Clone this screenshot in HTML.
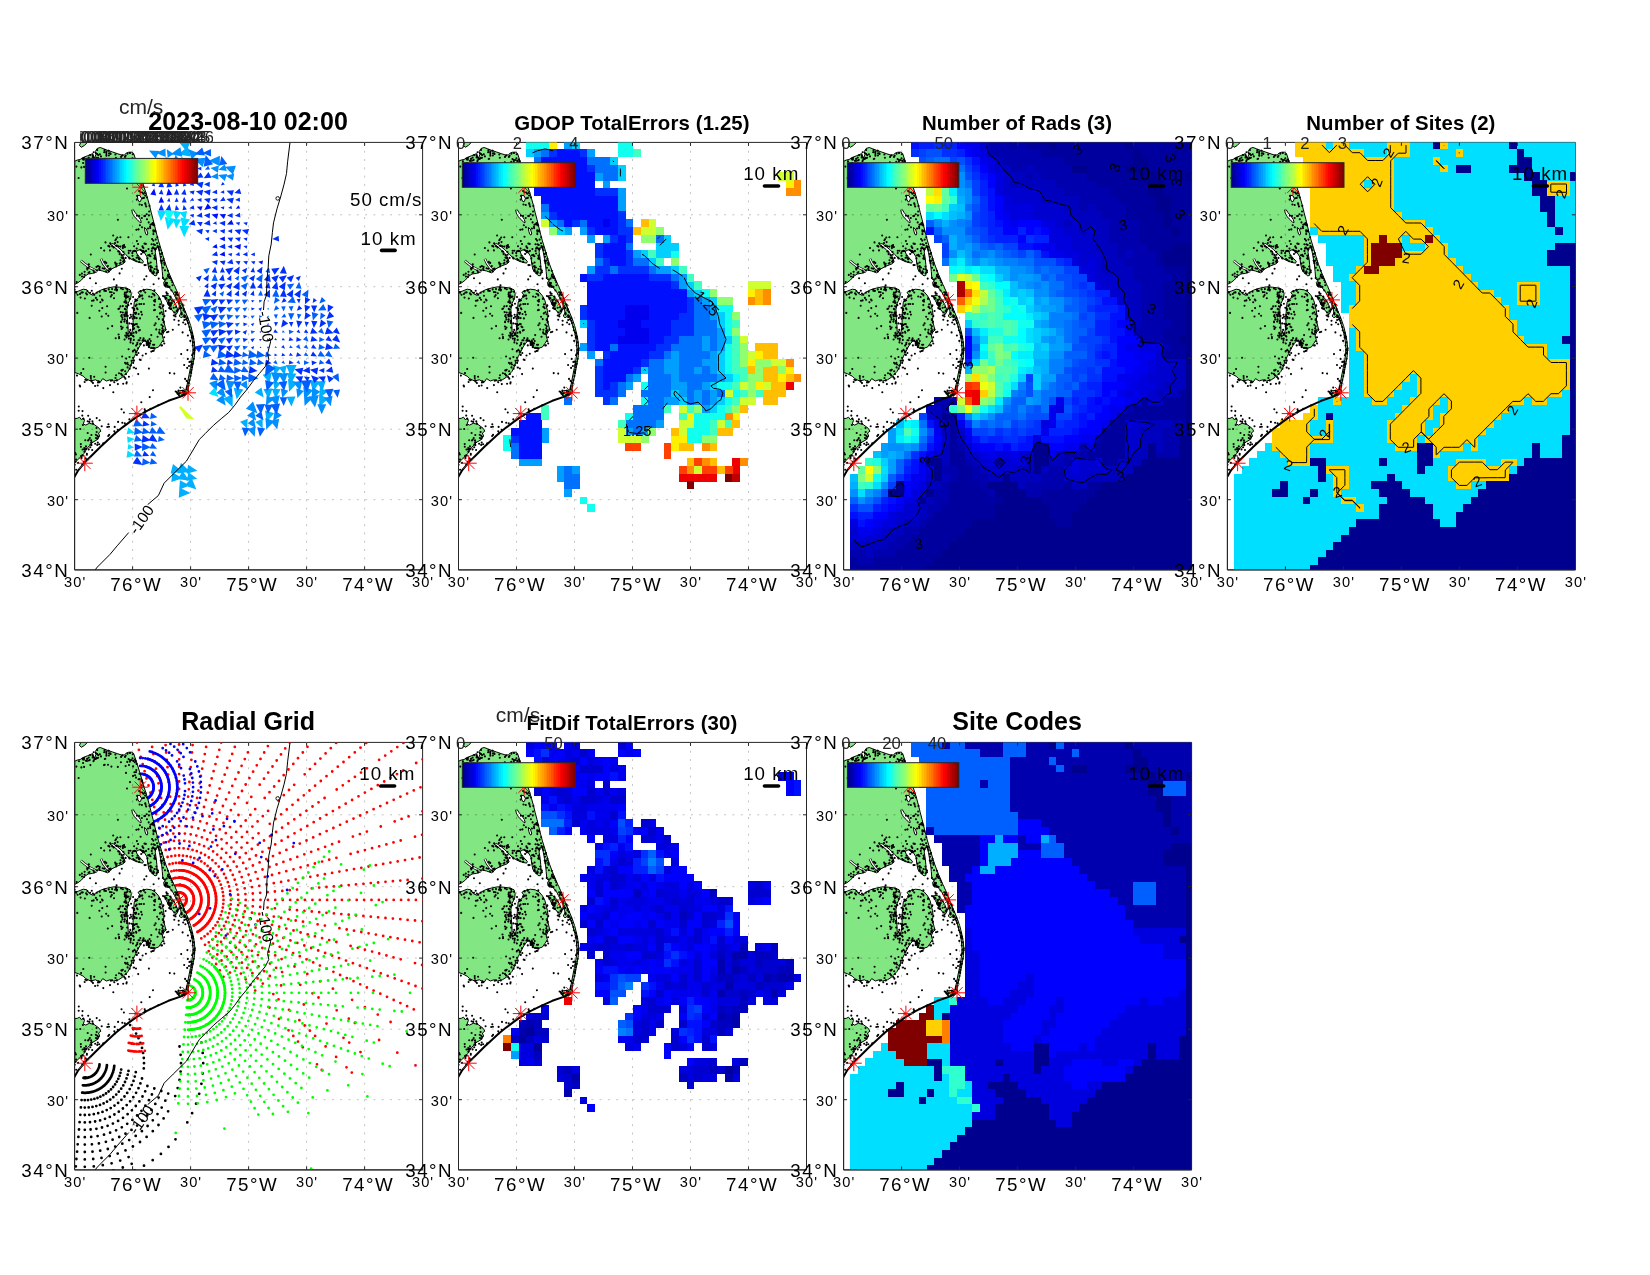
<!DOCTYPE html><html><head><meta charset="utf-8"><title>fig</title><style>html,body{margin:0;padding:0;background:#fff}svg{display:block;will-change:transform}text{font-family:"Liberation Sans",sans-serif}</style></head><body>
<svg width="1650" height="1275" viewBox="0 0 1650 1275">
<defs>
<linearGradient id="jet" x1="0" x2="1" y1="0" y2="0"><stop offset="0.0000" stop-color="#00008f"/><stop offset="0.0156" stop-color="#00008f"/><stop offset="0.0156" stop-color="#00009f"/><stop offset="0.0312" stop-color="#00009f"/><stop offset="0.0312" stop-color="#0000af"/><stop offset="0.0469" stop-color="#0000af"/><stop offset="0.0469" stop-color="#0000bf"/><stop offset="0.0625" stop-color="#0000bf"/><stop offset="0.0625" stop-color="#0000cf"/><stop offset="0.0781" stop-color="#0000cf"/><stop offset="0.0781" stop-color="#0000df"/><stop offset="0.0938" stop-color="#0000df"/><stop offset="0.0938" stop-color="#0000ef"/><stop offset="0.1094" stop-color="#0000ef"/><stop offset="0.1094" stop-color="#0000ff"/><stop offset="0.1250" stop-color="#0000ff"/><stop offset="0.1250" stop-color="#0010ff"/><stop offset="0.1406" stop-color="#0010ff"/><stop offset="0.1406" stop-color="#0020ff"/><stop offset="0.1562" stop-color="#0020ff"/><stop offset="0.1562" stop-color="#0030ff"/><stop offset="0.1719" stop-color="#0030ff"/><stop offset="0.1719" stop-color="#0040ff"/><stop offset="0.1875" stop-color="#0040ff"/><stop offset="0.1875" stop-color="#0050ff"/><stop offset="0.2031" stop-color="#0050ff"/><stop offset="0.2031" stop-color="#0060ff"/><stop offset="0.2188" stop-color="#0060ff"/><stop offset="0.2188" stop-color="#0070ff"/><stop offset="0.2344" stop-color="#0070ff"/><stop offset="0.2344" stop-color="#0080ff"/><stop offset="0.2500" stop-color="#0080ff"/><stop offset="0.2500" stop-color="#008fff"/><stop offset="0.2656" stop-color="#008fff"/><stop offset="0.2656" stop-color="#009fff"/><stop offset="0.2812" stop-color="#009fff"/><stop offset="0.2812" stop-color="#00afff"/><stop offset="0.2969" stop-color="#00afff"/><stop offset="0.2969" stop-color="#00bfff"/><stop offset="0.3125" stop-color="#00bfff"/><stop offset="0.3125" stop-color="#00cfff"/><stop offset="0.3281" stop-color="#00cfff"/><stop offset="0.3281" stop-color="#00dfff"/><stop offset="0.3438" stop-color="#00dfff"/><stop offset="0.3438" stop-color="#00efff"/><stop offset="0.3594" stop-color="#00efff"/><stop offset="0.3594" stop-color="#00ffff"/><stop offset="0.3750" stop-color="#00ffff"/><stop offset="0.3750" stop-color="#10ffef"/><stop offset="0.3906" stop-color="#10ffef"/><stop offset="0.3906" stop-color="#20ffdf"/><stop offset="0.4062" stop-color="#20ffdf"/><stop offset="0.4062" stop-color="#30ffcf"/><stop offset="0.4219" stop-color="#30ffcf"/><stop offset="0.4219" stop-color="#40ffbf"/><stop offset="0.4375" stop-color="#40ffbf"/><stop offset="0.4375" stop-color="#50ffaf"/><stop offset="0.4531" stop-color="#50ffaf"/><stop offset="0.4531" stop-color="#60ff9f"/><stop offset="0.4688" stop-color="#60ff9f"/><stop offset="0.4688" stop-color="#70ff8f"/><stop offset="0.4844" stop-color="#70ff8f"/><stop offset="0.4844" stop-color="#80ff80"/><stop offset="0.5000" stop-color="#80ff80"/><stop offset="0.5000" stop-color="#8fff70"/><stop offset="0.5156" stop-color="#8fff70"/><stop offset="0.5156" stop-color="#9fff60"/><stop offset="0.5312" stop-color="#9fff60"/><stop offset="0.5312" stop-color="#afff50"/><stop offset="0.5469" stop-color="#afff50"/><stop offset="0.5469" stop-color="#bfff40"/><stop offset="0.5625" stop-color="#bfff40"/><stop offset="0.5625" stop-color="#cfff30"/><stop offset="0.5781" stop-color="#cfff30"/><stop offset="0.5781" stop-color="#dfff20"/><stop offset="0.5938" stop-color="#dfff20"/><stop offset="0.5938" stop-color="#efff10"/><stop offset="0.6094" stop-color="#efff10"/><stop offset="0.6094" stop-color="#ffff00"/><stop offset="0.6250" stop-color="#ffff00"/><stop offset="0.6250" stop-color="#ffef00"/><stop offset="0.6406" stop-color="#ffef00"/><stop offset="0.6406" stop-color="#ffdf00"/><stop offset="0.6562" stop-color="#ffdf00"/><stop offset="0.6562" stop-color="#ffcf00"/><stop offset="0.6719" stop-color="#ffcf00"/><stop offset="0.6719" stop-color="#ffbf00"/><stop offset="0.6875" stop-color="#ffbf00"/><stop offset="0.6875" stop-color="#ffaf00"/><stop offset="0.7031" stop-color="#ffaf00"/><stop offset="0.7031" stop-color="#ff9f00"/><stop offset="0.7188" stop-color="#ff9f00"/><stop offset="0.7188" stop-color="#ff8f00"/><stop offset="0.7344" stop-color="#ff8f00"/><stop offset="0.7344" stop-color="#ff8000"/><stop offset="0.7500" stop-color="#ff8000"/><stop offset="0.7500" stop-color="#ff7000"/><stop offset="0.7656" stop-color="#ff7000"/><stop offset="0.7656" stop-color="#ff6000"/><stop offset="0.7812" stop-color="#ff6000"/><stop offset="0.7812" stop-color="#ff5000"/><stop offset="0.7969" stop-color="#ff5000"/><stop offset="0.7969" stop-color="#ff4000"/><stop offset="0.8125" stop-color="#ff4000"/><stop offset="0.8125" stop-color="#ff3000"/><stop offset="0.8281" stop-color="#ff3000"/><stop offset="0.8281" stop-color="#ff2000"/><stop offset="0.8438" stop-color="#ff2000"/><stop offset="0.8438" stop-color="#ff1000"/><stop offset="0.8594" stop-color="#ff1000"/><stop offset="0.8594" stop-color="#ff0000"/><stop offset="0.8750" stop-color="#ff0000"/><stop offset="0.8750" stop-color="#ef0000"/><stop offset="0.8906" stop-color="#ef0000"/><stop offset="0.8906" stop-color="#df0000"/><stop offset="0.9062" stop-color="#df0000"/><stop offset="0.9062" stop-color="#cf0000"/><stop offset="0.9219" stop-color="#cf0000"/><stop offset="0.9219" stop-color="#bf0000"/><stop offset="0.9375" stop-color="#bf0000"/><stop offset="0.9375" stop-color="#af0000"/><stop offset="0.9531" stop-color="#af0000"/><stop offset="0.9531" stop-color="#9f0000"/><stop offset="0.9688" stop-color="#9f0000"/><stop offset="0.9688" stop-color="#8f0000"/><stop offset="0.9844" stop-color="#8f0000"/><stop offset="0.9844" stop-color="#800000"/><stop offset="1.0000" stop-color="#800000"/></linearGradient>
<clipPath id="cl"><rect x="0" y="0" width="348.0" height="427.5"/></clipPath>
<g id="grid" stroke="#c4c4c4" stroke-width="1" stroke-dasharray="2 6.3" fill="none"><path d="M58.0,0V427.5"/><path d="M116.0,0V427.5"/><path d="M174.0,0V427.5"/><path d="M232.0,0V427.5"/><path d="M290.0,0V427.5"/><path d="M0,72.4H348.0"/><path d="M0,144.3H348.0"/><path d="M0,215.7H348.0"/><path d="M0,286.8H348.0"/><path d="M0,357.3H348.0"/></g>
<g id="grid2" stroke="#5fa45f" stroke-width="1" stroke-dasharray="2 6.3" fill="none"><path d="M58.0,0V427.5"/><path d="M116.0,0V427.5"/><path d="M174.0,0V427.5"/><path d="M232.0,0V427.5"/><path d="M290.0,0V427.5"/><path d="M0,72.4H348.0"/><path d="M0,144.3H348.0"/><path d="M0,215.7H348.0"/><path d="M0,286.8H348.0"/><path d="M0,357.3H348.0"/></g>
<clipPath id="landclip"><path d="M0.2,18.9 0.0,18.9 2.5,17.7 5.5,17.1 8.6,15.2 12.8,13.4 16.5,11.9 18.0,11.2 18.9,14.0 20.1,15.8 21.3,12.2 20.7,9.2 22.5,6.1 25.6,5.1 29.2,6.4 32.9,7.9 37.7,9.5 42.6,11.2 47.5,12.8 49.9,12.4 51.7,10.7 54.2,9.8 57.2,9.8 59.0,11.0 60.2,14.6 62.7,21.9 65.1,29.8 67.5,37.7 69.3,44.4 71.2,49.9 73.0,56.0 74.8,62.6 76.6,69.9 78.5,77.2 80.3,84.5 82.1,91.8 83.9,98.5 85.8,104.6 87.6,110.7 89.4,116.7 91.2,122.2 93.7,128.9 96.1,135.0 99.1,141.7 102.2,148.4 104.0,152.6 104.7,154.7 107.7,162.0 110.8,169.3 113.8,176.6 116.3,183.9 118.1,191.2 119.5,198.5 120.3,205.8 119.9,213.1 118.7,220.4 117.5,226.5 116.3,232.6 114.7,239.8 113.5,247.1 113.8,248.7 113.2,251.1 111.4,248.4 113.0,239.8 114.4,232.6 115.9,225.3 117.1,219.2 118.1,213.1 118.4,205.8 117.8,198.5 116.4,191.2 114.4,183.9 112.0,176.6 110.2,173.0 106.5,175.4 104.7,173.6 106.5,170.5 105.9,165.7 103.5,160.2 101.1,155.4 98.0,149.3 94.4,145.0 90.4,144.4 88.9,140.2 90.7,138.0 88.3,136.5 87.7,129.2 87.0,121.9 85.9,115.8 84.8,109.8 83.6,104.9 81.6,104.9 80.6,109.8 81.6,115.8 82.2,121.9 82.6,128.0 82.2,132.9 80.4,133.5 76.7,130.4 74.3,126.8 73.1,120.7 72.5,114.6 69.4,109.8 64.6,107.3 61.5,109.2 62.8,112.2 65.8,115.8 68.8,118.9 68.2,120.7 64.6,120.1 59.7,118.3 54.9,115.8 51.2,112.2 46.3,107.3 42.7,104.3 38.4,101.2 35.4,101.9 38.4,103.7 42.7,107.3 46.3,111.0 48.8,114.6 50.6,119.5 48.8,121.3 42.7,123.7 36.6,126.8 35.4,128.6 33.0,130.4 28.1,128.6 22.6,127.4 20.8,130.2 17.8,131.0 13.5,131.6 9.9,134.1 6.8,137.7 3.2,140.4 0.0,142.0 0.2,142.0ZM0.2,149.9 0.0,149.9 3.8,148.7 8.7,146.8 12.3,147.4 14.7,151.1 18.4,152.9 22.0,149.9 26.9,147.4 33.0,145.6 39.1,144.4 45.1,144.8 51.2,145.6 55.5,147.4 56.7,151.1 56.1,156.0 53.6,160.8 52.4,166.9 52.7,175.4 53.4,182.7 53.6,190.0 54.9,193.6 56.7,192.4 57.9,187.6 58.5,180.3 58.5,173.0 59.1,165.7 59.7,159.6 62.8,156.0 66.4,154.1 64.6,151.7 63.4,149.9 67.0,148.1 71.9,146.8 76.7,147.4 80.4,149.3 84.0,153.5 86.5,158.4 87.7,163.3 88.9,168.1 89.5,173.0 88.9,177.8 90.1,182.7 91.3,187.6 88.9,190.0 87.7,193.6 88.9,197.3 86.5,200.9 84.0,204.6 80.4,205.8 75.5,205.8 73.1,203.4 71.9,199.7 69.4,198.5 67.0,200.9 64.6,204.6 62.2,209.5 59.7,214.3 57.3,219.2 56.1,224.0 53.6,228.9 50.0,232.6 47.6,235.0 43.9,237.4 39.1,238.6 35.4,237.4 31.8,238.6 28.1,236.2 25.7,239.8 20.8,237.4 16.0,238.6 11.1,236.2 8.7,233.8 3.8,231.3 0.0,230.1 0.2,230.1ZM0.2,276.0 0.0,276.0 2.6,276.0 5.0,274.8 6.8,277.3 8.7,275.4 9.9,277.9 8.7,281.5 11.1,282.7 14.7,280.9 19.6,282.1 24.5,285.8 26.3,288.8 23.9,290.6 25.1,293.7 22.6,297.3 18.4,299.7 14.7,303.4 11.7,307.0 9.9,310.7 6.2,314.3 3.2,317.4 0.0,320.4 0.2,320.4Z"/></clipPath>
<g id="coast" clip-path="url(#cl)"><g fill="#82e682" stroke="#000" stroke-width="1" stroke-linejoin="round"><path d="M0.2,18.9 0.0,18.9 2.5,17.7 5.5,17.1 8.6,15.2 12.8,13.4 16.5,11.9 18.0,11.2 18.9,14.0 20.1,15.8 21.3,12.2 20.7,9.2 22.5,6.1 25.6,5.1 29.2,6.4 32.9,7.9 37.7,9.5 42.6,11.2 47.5,12.8 49.9,12.4 51.7,10.7 54.2,9.8 57.2,9.8 59.0,11.0 60.2,14.6 62.7,21.9 65.1,29.8 67.5,37.7 69.3,44.4 71.2,49.9 73.0,56.0 74.8,62.6 76.6,69.9 78.5,77.2 80.3,84.5 82.1,91.8 83.9,98.5 85.8,104.6 87.6,110.7 89.4,116.7 91.2,122.2 93.7,128.9 96.1,135.0 99.1,141.7 102.2,148.4 104.0,152.6 104.7,154.7 107.7,162.0 110.8,169.3 113.8,176.6 116.3,183.9 118.1,191.2 119.5,198.5 120.3,205.8 119.9,213.1 118.7,220.4 117.5,226.5 116.3,232.6 114.7,239.8 113.5,247.1 113.8,248.7 113.2,251.1 111.4,248.4 113.0,239.8 114.4,232.6 115.9,225.3 117.1,219.2 118.1,213.1 118.4,205.8 117.8,198.5 116.4,191.2 114.4,183.9 112.0,176.6 110.2,173.0 106.5,175.4 104.7,173.6 106.5,170.5 105.9,165.7 103.5,160.2 101.1,155.4 98.0,149.3 94.4,145.0 90.4,144.4 88.9,140.2 90.7,138.0 88.3,136.5 87.7,129.2 87.0,121.9 85.9,115.8 84.8,109.8 83.6,104.9 81.6,104.9 80.6,109.8 81.6,115.8 82.2,121.9 82.6,128.0 82.2,132.9 80.4,133.5 76.7,130.4 74.3,126.8 73.1,120.7 72.5,114.6 69.4,109.8 64.6,107.3 61.5,109.2 62.8,112.2 65.8,115.8 68.8,118.9 68.2,120.7 64.6,120.1 59.7,118.3 54.9,115.8 51.2,112.2 46.3,107.3 42.7,104.3 38.4,101.2 35.4,101.9 38.4,103.7 42.7,107.3 46.3,111.0 48.8,114.6 50.6,119.5 48.8,121.3 42.7,123.7 36.6,126.8 35.4,128.6 33.0,130.4 28.1,128.6 22.6,127.4 20.8,130.2 17.8,131.0 13.5,131.6 9.9,134.1 6.8,137.7 3.2,140.4 0.0,142.0 0.2,142.0Z"/><path d="M0.2,149.9 0.0,149.9 3.8,148.7 8.7,146.8 12.3,147.4 14.7,151.1 18.4,152.9 22.0,149.9 26.9,147.4 33.0,145.6 39.1,144.4 45.1,144.8 51.2,145.6 55.5,147.4 56.7,151.1 56.1,156.0 53.6,160.8 52.4,166.9 52.7,175.4 53.4,182.7 53.6,190.0 54.9,193.6 56.7,192.4 57.9,187.6 58.5,180.3 58.5,173.0 59.1,165.7 59.7,159.6 62.8,156.0 66.4,154.1 64.6,151.7 63.4,149.9 67.0,148.1 71.9,146.8 76.7,147.4 80.4,149.3 84.0,153.5 86.5,158.4 87.7,163.3 88.9,168.1 89.5,173.0 88.9,177.8 90.1,182.7 91.3,187.6 88.9,190.0 87.7,193.6 88.9,197.3 86.5,200.9 84.0,204.6 80.4,205.8 75.5,205.8 73.1,203.4 71.9,199.7 69.4,198.5 67.0,200.9 64.6,204.6 62.2,209.5 59.7,214.3 57.3,219.2 56.1,224.0 53.6,228.9 50.0,232.6 47.6,235.0 43.9,237.4 39.1,238.6 35.4,237.4 31.8,238.6 28.1,236.2 25.7,239.8 20.8,237.4 16.0,238.6 11.1,236.2 8.7,233.8 3.8,231.3 0.0,230.1 0.2,230.1Z"/><path d="M89.5,153.5 93.8,152.9 97.4,156.0 101.1,162.0 103.5,168.1 102.3,171.2 98.6,169.3 95.0,164.5 91.9,158.4Z"/><path d="M0.2,276.0 0.0,276.0 2.6,276.0 5.0,274.8 6.8,277.3 8.7,275.4 9.9,277.9 8.7,281.5 11.1,282.7 14.7,280.9 19.6,282.1 24.5,285.8 26.3,288.8 23.9,290.6 25.1,293.7 22.6,297.3 18.4,299.7 14.7,303.4 11.7,307.0 9.9,310.7 6.2,314.3 3.2,317.4 0.0,320.4 0.2,320.4Z"/><path d="M102.3,251.1 104.7,248.4 113.2,247.2 114.2,249.9 110.8,252.9 105.9,254.2Z"/><path d="M6.1,0.0 12.8,0.0 9.8,3.1 6.7,4.9 4.9,3.1Z"/><path d="M62.7,52.9 65.5,53.3 66.9,56.2 65.9,59.0 64.5,59.4 63.3,57.2Z" fill="#fff"/><path d="M57.2,67.5 58.6,67.1 60.6,70.3 63.5,73.6 65.9,77.2 66.7,80.0 65.5,80.3 62.7,77.2 59.6,74.2 57.8,70.5Z" fill="#fff"/><path d="M69.8,85.1 71.8,86.6 73.2,90.7 72.5,92.7 71.3,91.9 70.3,88.8Z" fill="#fff"/></g><path d="M6.2,118.3 9.9,121.3 14.7,125.0 19.6,127.4 22.6,129.5" fill="none" stroke="#000" stroke-width="2.6"/><path d="M6.2,118.3 9.9,121.3 14.7,125.0 19.6,127.4 22.6,129.5" fill="none" stroke="#fff" stroke-width="1.2"/><path d="M26.3,116.4 28.7,121.3 32.4,126.2 34.8,128.0" fill="none" stroke="#000" stroke-width="2.6"/><path d="M26.3,116.4 28.7,121.3 32.4,126.2 34.8,128.0" fill="none" stroke="#fff" stroke-width="1.2"/><path d="M113.2,249.9 105.9,254.2 93.8,258.4 81.6,263.9 71.9,268.7 62.2,274.5 54.9,279.7 47.6,285.2 40.3,291.2 33.0,297.9 25.7,304.6 18.4,311.9 9.9,320.4 3.8,327.7 -1.1,336.2" fill="none" stroke="#000" stroke-width="2.0" stroke-linejoin="round"/><g clip-path="url(#landclip)"><use href="#grid2"/></g><path d="M58.5,24.1h0M8.5,20.6h0M13.7,125.4h0M118.0,211.9h0M62.9,166.9h0M35.3,126.5h0M69.9,122.7h0M101.3,164.9h0M75.6,85.7h0M84.2,176.7h0M112.4,243.8h0M41.8,123.0h0M51.5,163.8h0M27.1,174.1h0M41.1,195.9h0M61.7,190.3h0M19.2,17.9h0M42.7,95.1h0M33.4,22.3h0M95.8,154.2h0M76.5,128.7h0M50.1,174.0h0M41.3,144.9h0M105.3,158.1h0M63.9,36.9h0M68.3,110.1h0M103.2,152.6h0M7.9,268.7h0M41.8,103.6h0M19.1,9.9h0M67.3,37.9h0M11.6,306.5h0M47.0,112.7h0M107.3,253.0h0M85.6,161.9h0M34.2,147.0h0M57.0,191.1h0M44.7,109.4h0M34.8,104.2h0M81.2,106.5h0M46.6,179.2h0M65.7,195.7h0M34.3,13.1h0M53.1,154.7h0M84.8,156.1h0M22.1,128.1h0M33.8,281.9h0M57.0,218.3h0M63.0,184.2h0M47.6,233.0h0M82.0,130.9h0M52.7,191.6h0M67.4,153.2h0M54.1,193.7h0M111.5,176.8h0M23.4,123.6h0M54.4,22.6h0M28.7,301.0h0M75.9,124.7h0M61.1,18.7h0M73.4,86.1h0M10.8,237.4h0M5.4,151.6h0M76.1,120.1h0M69.3,203.0h0M116.6,189.9h0M31.7,120.5h0M80.7,88.7h0M35.4,149.7h0M31.3,148.5h0M67.6,38.8h0M96.9,137.8h0M96.1,135.8h0M84.9,187.4h0M83.4,128.2h0M96.0,166.6h0M93.3,144.2h0M35.4,108.0h0M56.7,17.6h0M66.0,201.4h0M58.6,220.5h0M52.9,11.4h0M80.4,159.2h0M50.6,228.8h0M78.1,80.7h0M105.8,245.2h0M106.9,165.5h0M16.3,235.6h0M82.7,94.9h0M48.6,241.3h0M4.1,268.4h0M95.6,156.9h0M41.3,15.3h0M61.4,35.2h0M79.0,130.7h0M39.3,137.0h0M113.0,247.3h0M40.6,120.2h0M30.1,22.4h0M31.7,10.1h0M65.0,62.1h0M88.2,177.6h0M54.3,234.3h0M21.9,285.7h0M7.0,315.6h0M88.2,176.9h0M2.4,233.2h0M118.1,203.1h0M36.8,24.2h0M23.4,240.1h0M46.1,169.7h0M89.6,194.9h0M35.9,126.2h0M72.8,116.1h0M96.9,148.1h0M69.3,161.6h0M59.8,29.8h0M83.5,104.6h0M119.0,207.3h0M19.6,234.4h0M18.4,281.1h0M36.2,126.8h0M67.9,198.2h0M55.7,187.5h0M22.4,15.7h0M114.4,223.6h0M12.3,311.4h0M116.7,219.7h0M51.4,231.7h0M65.2,116.4h0M48.3,105.7h0M80.4,88.1h0M77.6,111.1h0M79.3,130.1h0M7.3,131.2h0M62.4,73.3h0M83.0,194.4h0M109.4,252.6h0M54.8,181.0h0M47.7,280.3h0M68.8,51.4h0M33.8,103.5h0M3.0,152.4h0M80.6,116.2h0M51.7,150.2h0M17.1,163.3h0M10.7,297.8h0M1.6,150.3h0M34.2,8.4h0M16.8,292.6h0M10.3,156.1h0M79.1,82.0h0M77.9,130.7h0M86.2,165.8h0M88.3,135.5h0M102.0,168.8h0M89.7,201.1h0M66.6,169.5h0M58.4,193.5h0M52.8,147.3h0M79.9,126.6h0M107.6,162.0h0M86.2,118.2h0M62.2,181.7h0M58.5,23.8h0M34.6,292.4h0M5.7,286.6h0M114.9,237.7h0M12.1,317.3h0M29.9,8.1h0M96.4,162.5h0M12.8,317.4h0M79.8,148.0h0M10.1,239.6h0M43.8,109.0h0M90.4,127.8h0M75.2,113.4h0M85.1,107.9h0M46.0,120.4h0M16.2,112.1h0M8.1,150.0h0M2.7,170.5h0M99.7,170.1h0M51.0,23.7h0M79.9,182.8h0M52.4,46.1h0M72.1,200.8h0M64.8,161.7h0M62.1,162.2h0M30.7,16.4h0M112.1,238.5h0M14.3,18.1h0M104.1,178.4h0M78.4,82.3h0M68.5,108.4h0M112.8,207.7h0M116.8,222.6h0M24.7,239.9h0M51.8,190.5h0M64.6,48.7h0M8.0,322.6h0M102.0,150.1h0M74.1,121.2h0M90.4,142.0h0M50.4,220.4h0M50.2,177.0h0M74.9,112.3h0M67.1,38.9h0M56.7,174.4h0M119.2,200.0h0M74.6,69.1h0M89.1,180.1h0M13.1,290.6h0M114.2,240.6h0M68.9,197.7h0M34.4,284.3h0M32.5,163.9h0M6.0,155.2h0M41.8,145.4h0M33.7,173.3h0M69.7,73.7h0M88.2,189.2h0M0.0,144.4h0M17.8,279.0h0M58.9,181.7h0M56.5,161.3h0M96.0,154.7h0M93.8,189.4h0M62.0,21.5h0M22.7,302.5h0M71.2,101.5h0M53.0,225.0h0M79.3,158.4h0M31.0,224.3h0M71.8,133.8h0M71.1,122.6h0M58.5,208.6h0M49.5,118.0h0M51.6,172.2h0M6.5,230.7h0M55.3,19.2h0M29.6,9.8h0M34.5,10.8h0M86.8,119.7h0M108.2,163.2h0M22.5,157.4h0M69.3,148.4h0M39.4,155.8h0M70.3,50.0h0M100.9,174.1h0M52.3,193.0h0M24.7,301.9h0M66.0,153.2h0M51.5,160.6h0M104.9,165.5h0M52.8,220.4h0M49.6,234.6h0M113.4,240.2h0M58.7,172.7h0M55.4,39.7h0M4.0,35.6h0M63.9,197.8h0M112.6,225.5h0M79.7,83.0h0M94.1,134.5h0M49.1,112.3h0M103.9,159.3h0M76.7,192.7h0M103.0,250.8h0M66.1,49.8h0M64.6,73.5h0M87.8,188.2h0M76.0,127.0h0M20.6,301.3h0M74.3,73.0h0M77.0,101.9h0M62.8,200.3h0M81.7,187.0h0M119.5,209.8h0M34.5,103.7h0M74.3,226.2h0M12.3,312.3h0M58.5,154.6h0M77.1,108.5h0M56.1,197.7h0M102.0,155.9h0M55.4,149.3h0M58.6,116.6h0M64.9,197.9h0M91.1,142.1h0M35.6,10.9h0M110.8,173.9h0M48.2,227.4h0M90.0,154.3h0M93.8,160.0h0M97.3,158.3h0M59.0,194.2h0M63.5,101.6h0M14.8,279.5h0M52.0,160.1h0M104.1,182.3h0M14.7,215.3h0M25.5,153.3h0M79.1,208.3h0M55.2,175.7h0M92.9,143.1h0M110.5,236.5h0M51.1,13.3h0M44.4,230.9h0M89.6,120.5h0M120.2,206.0h0M31.6,171.3h0M54.0,16.7h0M116.5,229.7h0M84.4,104.5h0M54.0,154.2h0M53.5,222.1h0M51.4,155.5h0M93.3,133.6h0M72.1,71.8h0M57.7,110.7h0M30.2,16.6h0M19.6,129.9h0M29.6,147.2h0M8.5,17.0h0M94.8,161.0h0M95.0,144.5h0M120.1,207.9h0M64.5,153.9h0M43.8,166.6h0M79.4,167.8h0M104.5,250.8h0M67.3,172.2h0M8.7,226.6h0M14.0,130.4h0M33.6,293.6h0M22.7,293.3h0M101.1,249.1h0M112.1,246.6h0M67.9,55.8h0M78.7,87.8h0M75.0,196.7h0M20.3,16.3h0M89.8,173.7h0M83.0,103.6h0M55.9,200.0h0M98.2,187.3h0M77.6,106.2h0M117.2,195.1h0M58.0,176.4h0M109.3,252.4h0M70.6,60.9h0M69.7,137.0h0M96.1,163.6h0M45.8,164.0h0M70.1,267.0h0M59.0,186.7h0M55.5,10.6h0M23.9,239.0h0M19.0,158.0h0M9.7,305.7h0M77.5,96.7h0M47.9,115.8h0M61.4,29.7h0M70.6,198.1h0M82.6,174.3h0M23.2,300.1h0M109.7,177.6h0M93.5,132.4h0M42.1,121.3h0M11.5,151.0h0M104.8,159.0h0M80.8,89.0h0M15.3,277.0h0M17.4,158.3h0M0.1,322.3h0M47.9,177.1h0M37.5,237.9h0M9.5,24.5h0M14.1,297.3h0M33.3,123.7h0M50.0,151.9h0M59.2,197.5h0M29.9,7.6h0M27.1,283.8h0M75.9,113.9h0M52.7,19.5h0M19.0,15.0h0M24.8,168.4h0M84.1,136.2h0M60.9,158.5h0M64.7,119.5h0M89.9,122.3h0M62.6,201.9h0M16.5,237.9h0M31.4,128.9h0M107.1,172.1h0M91.1,143.8h0M21.5,10.9h0M58.5,215.3h0M45.9,117.9h0M69.0,195.8h0M57.9,15.8h0M66.7,161.6h0M16.2,233.7h0M14.6,124.3h0M70.8,108.8h0M46.3,19.8h0M102.9,251.2h0M50.2,281.0h0M23.1,243.1h0M100.6,149.8h0M112.9,178.4h0M59.8,182.5h0M99.2,173.1h0M14.1,15.2h0M20.5,243.6h0M45.0,111.7h0M55.3,17.6h0M31.8,9.2h0M18.9,128.2h0M1.6,327.3h0M22.2,150.3h0M48.2,170.1h0M62.4,165.9h0M109.2,251.8h0M78.7,98.2h0M117.5,191.0h0M21.3,155.5h0M31.8,13.3h0M62.1,106.2h0M67.4,84.9h0M56.3,196.2h0M94.2,158.3h0M48.0,185.1h0M8.3,282.6h0M54.1,108.4h0M71.3,211.4h0M106.1,250.3h0M91.9,155.8h0M42.3,148.0h0M25.0,277.8h0M38.7,249.8h0M111.5,251.4h0M107.0,170.5h0M74.6,154.1h0M76.2,198.6h0M99.7,231.2h0M12.8,148.7h0M84.5,156.0h0M65.3,187.6h0M12.2,237.9h0M63.0,113.2h0M9.5,15.5h0M50.8,236.4h0M33.9,8.4h0M75.1,254.7h0M61.0,171.5h0M28.7,245.7h0M109.1,166.6h0M55.0,189.6h0M119.2,216.3h0M59.4,225.2h0M9.9,307.2h0M43.2,24.5h0M48.7,115.7h0M67.3,62.6h0M52.5,146.7h0M90.9,187.2h0M62.5,157.8h0M72.0,202.6h0M76.1,123.6h0M99.1,165.4h0M24.7,126.1h0M50.7,193.2h0M73.4,200.8h0M63.8,210.6h0M41.2,146.0h0M42.0,142.8h0M87.6,189.6h0M15.8,22.7h0M51.4,30.5h0M53.0,149.2h0M43.0,99.7h0M68.1,40.4h0M66.6,111.6h0M72.3,199.5h0M42.1,103.1h0M5.1,243.1h0M37.6,183.7h0M60.0,117.6h0M23.6,12.7h0M79.9,206.4h0M119.5,210.7h0M50.3,152.7h0M18.4,240.7h0M79.1,129.4h0M64.5,116.8h0M22.9,296.3h0M62.2,57.2h0M54.1,110.7h0M1.1,149.6h0M50.3,166.5h0M95.2,230.7h0M85.2,164.6h0M84.6,189.9h0M94.6,165.7h0M4.2,264.1h0M15.6,12.7h0M80.3,167.5h0M68.8,105.6h0M55.3,10.6h0M49.3,270.1h0M36.0,11.5h0M92.1,151.3h0M43.7,109.1h0M39.3,150.8h0M31.2,120.4h0M84.4,156.5h0M51.9,152.8h0M52.1,239.9h0M62.6,53.5h0M50.4,14.5h0M34.5,292.7h0M99.7,177.3h0M47.5,228.0h0M105.5,250.6h0M53.1,173.5h0M65.2,36.7h0M78.4,208.5h0M80.3,102.6h0M68.0,213.1h0M6.2,301.7h0M51.2,169.9h0M81.0,181.0h0M15.5,135.8h0M41.4,96.8h0M7.4,134.1h0M56.5,192.5h0M108.6,180.1h0M21.3,140.9h0M45.1,121.1h0M80.2,107.0h0M61.8,87.3h0M33.2,186.1h0M79.4,205.7h0M116.6,230.6h0M61.7,27.7h0M37.5,146.7h0M63.4,205.9h0M37.6,103.8h0M103.9,248.2h0M64.0,171.6h0M64.3,188.2h0M60.5,32.9h0M52.2,178.5h0M111.9,251.0h0M88.9,116.3h0M18.1,15.0h0M71.4,108.5h0M46.5,146.0h0M117.8,193.5h0M52.0,170.1h0M70.2,269.3h0M74.1,80.0h0M93.4,160.6h0M44.6,166.2h0M47.9,115.1h0M94.8,135.5h0M70.9,50.6h0M59.1,190.3h0M51.1,115.5h0M61.2,209.5h0M113.9,243.3h0M113.2,216.5h0M80.5,157.3h0M21.9,124.5h0M51.4,221.3h0M74.0,202.3h0M39.7,288.8h0M6.8,25.0h0M1.3,312.0h0M35.6,100.9h0M88.4,125.4h0M70.6,268.5h0M18.9,18.9h0M85.1,164.4h0M28.1,125.8h0M110.8,181.8h0M73.9,106.7h0M78.8,129.0h0M87.8,185.8h0M61.8,118.8h0M8.0,307.1h0M36.2,154.2h0M1.0,319.4h0M113.3,193.1h0M109.7,174.9h0M31.0,230.1h0M40.4,100.7h0M18.1,13.0h0M63.9,184.9h0M51.0,158.5h0M105.5,163.6h0M14.3,121.9h0M75.9,82.4h0M46.7,173.7h0M44.5,194.7h0M75.5,201.2h0M46.6,179.8h0M48.2,163.7h0M88.9,198.8h0M79.0,141.8h0M85.3,171.0h0M49.8,179.2h0M59.3,218.4h0M86.5,114.3h0M78.4,247.8h0M43.3,241.7h0M59.0,174.3h0M96.0,160.6h0M43.3,287.5h0M93.7,157.6h0M72.8,116.0h0M115.9,219.1h0M67.9,104.0h0M15.1,17.5h0M79.2,102.0h0M114.8,219.6h0M15.2,295.7h0M86.7,203.0h0M88.3,183.8h0M7.7,321.8h0M95.0,162.9h0M48.3,146.8h0M1.8,24.2h0M99.1,158.8h0M96.6,166.4h0M53.8,94.9h0M66.9,45.4h0M100.9,153.0h0M16.6,300.1h0M40.1,284.5h0M47.7,13.0h0M103.9,157.3h0M78.8,89.3h0M12.7,127.0h0M13.1,278.9h0M46.9,266.9h0M50.7,235.9h0M76.7,205.3h0M55.1,226.3h0M61.5,157.7h0M7.7,312.8h0M90.9,156.4h0M62.0,115.3h0M69.3,55.5h0M90.3,137.1h0M105.1,161.2h0M79.9,113.2h0M53.5,162.5h0M69.9,101.2h0M60.2,17.1h0M25.3,11.8h0M62.3,98.7h0M54.0,206.8h0M96.6,166.1h0M11.3,18.4h0M82.5,100.8h0M60.2,19.8h0M42.2,238.0h0M75.4,123.9h0M18.3,151.1h0M73.5,112.9h0M107.2,171.4h0M25.1,124.5h0M72.4,199.3h0M97.7,139.9h0M58.6,108.9h0M49.2,119.7h0M57.9,165.3h0M113.5,180.6h0M65.9,107.4h0M112.7,175.5h0M39.7,239.8h0M50.3,150.2h0M9.8,309.3h0M95.4,134.1h0M22.1,275.7h0M93.7,161.7h0M22.1,289.6h0M12.5,16.5h0M79.7,116.1h0M115.9,233.7h0M60.7,157.2h0M91.8,149.8h0M18.7,14.7h0M40.3,291.0h0M2.1,139.6h0M51.9,173.3h0M58.4,182.6h0M70.6,53.2h0M67.9,50.2h0M40.9,235.6h0M29.4,22.7h0M56.3,222.9h0M15.9,302.2h0M87.4,203.0h0M58.3,184.1h0M105.4,163.9h0M53.8,162.9h0M88.4,153.6h0M32.7,284.6h0M8.3,313.3h0M79.6,152.1h0M51.6,216.2h0M68.0,156.2h0M87.0,169.8h0M97.3,160.6h0M114.9,184.5h0M72.4,76.8h0M0.0,147.3h0M59.9,207.5h0M68.7,197.1h0M14.8,129.6h0M46.8,228.0h0M6.8,150.1h0M61.5,158.4h0M97.9,142.8h0M15.0,175.5h0M66.7,259.9h0M30.3,119.5h0M87.5,110.7h0M81.1,97.2h0M52.6,185.2h0M109.0,168.0h0M88.6,190.1h0M15.5,150.3h0M84.1,106.1h0M50.9,170.5h0M62.3,212.5h0M45.8,104.2h0M79.8,153.1h0M93.1,151.3h0M19.7,152.4h0M29.8,126.3h0M75.8,266.5h0M50.2,154.1h0M52.3,180.6h0M86.4,111.6h0M4.4,18.9h0M59.5,166.3h0M77.4,125.1h0M46.5,14.5h0M34.3,129.0h0M61.4,189.4h0M72.4,55.1h0M5.2,132.5h0M58.2,11.9h0M12.4,18.6h0M21.1,16.5h0M44.0,192.1h0M73.3,198.2h0M8.8,276.5h0M87.3,118.6h0M93.3,128.4h0M17.1,239.2h0M110.5,169.7h0M38.6,93.1h0M55.1,156.5h0M61.4,208.9h0M16.5,298.0h0M43.3,77.4h0M103.6,152.7h0M115.3,187.9h0M100.9,172.2h0M91.0,140.1h0M88.8,163.0h0M26.4,105.6h0M118.2,221.3h0M61.5,203.2h0M88.3,118.1h0M7.9,16.1h0M105.2,156.0h0M47.2,126.4h0M57.9,113.3h0M59.8,108.5h0M9.2,319.5h0M116.7,227.5h0M46.4,184.1h0M40.8,97.8h0M110.2,249.4h0M14.1,307.0h0M40.5,147.4h0M65.2,217.2h0M50.0,197.1h0M106.6,211.7h0M78.1,151.3h0M61.5,170.5h0M86.7,191.7h0M74.2,204.7h0M88.8,187.8h0M112.1,246.2h0M91.0,168.6h0M112.2,245.1h0M50.9,157.8h0M13.6,273.3h0M9.5,134.6h0M93.3,134.1h0M48.4,119.1h0M49.6,172.5h0M25.1,149.4h0M75.5,128.4h0M78.5,202.3h0M92.1,136.2h0M83.7,262.9h0M59.5,103.9h0M51.9,195.0h0M16.9,302.7h0M23.5,294.4h0M58.5,33.5h0M66.9,42.8h0M59.3,218.0h0M80.6,116.6h0M0.6,310.7h0M61.0,158.5h0M61.0,163.5h0M41.5,232.8h0M66.1,217.6h0M37.0,149.9h0M15.7,304.9h0M69.0,147.3h0M33.7,128.0h0M60.5,271.2h0M51.9,170.5h0M118.7,196.1h0M108.3,248.4h0M102.1,156.0h0M55.9,191.1h0M6.5,313.7h0M36.3,238.4h0M58.7,18.5h0M51.9,241.0h0M30.9,100.0h0M12.5,125.8h0M54.8,277.0h0M22.0,15.4h0M70.9,62.0h0M28.4,301.9h0M21.4,295.6h0M63.6,231.7h0M119.2,207.5h0M82.0,126.8h0M39.1,105.0h0M43.5,279.5h0M77.0,154.6h0M17.2,299.9h0M89.9,142.6h0M91.4,155.4h0M84.9,164.5h0M64.9,31.4h0M48.5,104.5h0M116.3,229.7h0M13.5,298.1h0M80.3,115.2h0M3.5,320.5h0M40.9,121.3h0M55.9,108.4h0M47.7,175.2h0M61.5,181.6h0M55.6,223.2h0M68.9,44.1h0M63.7,115.3h0M66.0,94.4h0M118.1,221.6h0M58.3,209.0h0M46.5,231.5h0M72.6,200.7h0M91.4,142.2h0M86.9,182.3h0M48.2,103.4h0M67.2,75.6h0M21.2,292.3h0M65.4,176.0h0M77.1,81.7h0M75.2,200.6h0M37.2,152.7h0M35.4,242.7h0M118.5,194.3h0M47.2,172.6h0M49.5,102.7h0M12.4,152.0h0M11.0,316.0h0M93.9,132.2h0M51.0,167.1h0M117.4,221.4h0M54.3,196.2h0M47.0,186.6h0M108.0,190.0h0M22.6,11.7h0M31.8,11.7h0M60.1,175.7h0M70.7,150.1h0M40.8,12.1h0M66.2,149.0h0M41.7,124.1h0M54.9,116.0h0M88.1,171.8h0M26.4,14.0h0M73.5,199.7h0M61.0,108.6h0M71.6,64.0h0M1.5,317.1h0M47.6,214.1h0M59.6,167.6h0M78.8,91.7h0M83.4,129.9h0M70.5,73.5h0M50.3,104.7h0M62.1,175.7h0M65.9,148.7h0M49.8,159.7h0M56.1,172.3h0M102.2,168.1h0M79.0,105.5h0M115.7,198.5h0M117.0,224.8h0M59.5,185.8h0M61.4,226.1h0M104.8,159.5h0M58.4,201.1h0M117.5,212.8h0M5.5,244.0h0M27.7,165.7h0M101.8,151.4h0M68.2,104.8h0M63.9,87.0h0M24.9,127.2h0M104.0,166.8h0M84.9,191.0h0M74.1,201.5h0M88.6,163.7h0M7.7,273.2h0M67.6,153.2h0M52.0,153.8h0M51.6,146.1h0M69.5,109.3h0M10.0,129.4h0M57.0,181.4h0M29.7,148.3h0M22.6,7.6h0M43.8,103.8h0M10.0,132.4h0M45.8,94.9h0M60.2,170.3h0M117.3,219.4h0M92.4,189.9h0M54.9,214.6h0M75.4,84.3h0M42.5,147.5h0M25.8,159.8h0M77.4,205.6h0M89.3,179.1h0M29.6,108.2h0M17.2,148.3h0M65.6,201.5h0M47.0,115.1h0M87.0,121.1h0M81.8,124.1h0M9.3,17.2h0M74.7,203.3h0M109.6,172.8h0M78.5,80.6h0M74.9,63.5h0M76.7,209.2h0M79.6,202.3h0M67.2,108.3h0M48.9,109.7h0M92.5,140.7h0M6.3,304.3h0M11.4,304.0h0M104.3,252.5h0M28.0,158.0h0M54.3,115.2h0M23.5,15.4h0M45.0,131.0h0M59.9,174.6h0M108.4,250.2h0M44.5,195.8h0M78.7,205.4h0M65.3,82.9h0M109.4,250.1h0M79.7,162.7h0M102.2,249.7h0M102.8,168.7h0M109.6,222.6h0M78.2,105.2h0M17.6,307.6h0M52.1,164.4h0M27.4,157.2h0" stroke="#000" stroke-width="2.1" stroke-linecap="round" fill="none"/></g>
<path id="st" d="M-8.0,-0.0L8.0,0.0M-5.7,-5.7L5.7,5.7M-0.0,-8.0L0.0,8.0M5.7,-5.7L-5.7,5.7" stroke="#f00" stroke-width="1" fill="none"/>
<g id="stars"><use href="#st" x="65.6" y="44.8"/><use href="#st" x="104.5" y="157.5"/><use href="#st" x="113.4" y="250.4"/><use href="#st" x="62.3" y="271.2"/><use href="#st" x="10.2" y="320.8"/></g>
<g id="frame"><g stroke="#262626" stroke-width="1" fill="none"><path d="M58.0,0v3.5M58.0,427.5v-3.5M116.0,0v3.5M116.0,427.5v-3.5M174.0,0v3.5M174.0,427.5v-3.5M232.0,0v3.5M232.0,427.5v-3.5M290.0,0v3.5M290.0,427.5v-3.5M0,72.4h3.5M348.0,72.4h-3.5M0,144.3h3.5M348.0,144.3h-3.5M0,215.7h3.5M348.0,215.7h-3.5M0,286.8h3.5M348.0,286.8h-3.5M0,357.3h3.5M348.0,357.3h-3.5"/></g><g fill="#000"><text x="-5.4" y="6.9" font-size="18.75" text-anchor="end" letter-spacing="1.5">37°N</text><text x="-5.4" y="151.2" font-size="18.75" text-anchor="end" letter-spacing="1.5">36°N</text><text x="-5.4" y="293.7" font-size="18.75" text-anchor="end" letter-spacing="1.5">35°N</text><text x="-5.4" y="434.4" font-size="18.75" text-anchor="end" letter-spacing="1.5">34°N</text><text x="-5.4" y="78.4" font-size="14.6" text-anchor="end" letter-spacing="1.1">30'</text><text x="-5.4" y="221.7" font-size="14.6" text-anchor="end" letter-spacing="1.1">30'</text><text x="-5.4" y="363.3" font-size="14.6" text-anchor="end" letter-spacing="1.1">30'</text><text x="61.6" y="448.4" font-size="18.75" text-anchor="middle" letter-spacing="1.5">76°W</text><text x="177.6" y="448.4" font-size="18.75" text-anchor="middle" letter-spacing="1.5">75°W</text><text x="293.6" y="448.4" font-size="18.75" text-anchor="middle" letter-spacing="1.5">74°W</text><text x="0.5" y="444.4" font-size="14.6" text-anchor="middle" letter-spacing="1.1">30'</text><text x="116.5" y="444.4" font-size="14.6" text-anchor="middle" letter-spacing="1.1">30'</text><text x="232.5" y="444.4" font-size="14.6" text-anchor="middle" letter-spacing="1.1">30'</text><text x="348.5" y="444.4" font-size="14.6" text-anchor="middle" letter-spacing="1.1">30'</text></g></g>
<path id="box" d="M0,0H348.0V427.5H0Z" fill="none" stroke="#262626" stroke-width="1"/>
<path id="boxL" d="M0,0V427.5H348.0" fill="none" stroke="#262626" stroke-width="1"/>
<g id="km"><text x="284.7" y="37.2" font-size="18.75" letter-spacing="1.0">10 km</text><path d="M306,43.6H320" stroke="#000" stroke-width="3.6" stroke-linecap="round"/></g>
</defs>
<rect width="1650" height="1275" fill="#fff"/>
<g transform="translate(74.6,142.4)">
<use href="#box"/>
<use href="#grid"/>
<g clip-path="url(#cl)" shape-rendering="crispEdges">
</g>
<g clip-path="url(#cl)"><path fill="#00afff" d="M104.8,0.4L115.5,0.6L111.7,8.5ZM103.5,12.2L113.2,4.1L116.0,14.1ZM199.9,232.9L198.5,222.8L206.5,225.2ZM210.0,232.8L204.2,224.9L212.0,223.2ZM216.5,234.5L211.3,222.6L222.0,222.7ZM195.0,241.2L188.1,232.3L197.1,230.1ZM216.3,241.7L211.9,230.5L221.8,231.0ZM200.1,248.1L198.5,238.5L206.2,240.5ZM214.5,249.4L213.4,236.7L223.3,240.2ZM238.5,249.5L235.3,237.5L245.4,239.2ZM247.9,248.9L242.0,239.4L251.1,238.2ZM162.1,256.9L159.1,245.4L168.8,247.1ZM189.1,255.2L180.2,250.1L186.9,245.2ZM194.0,256.7L188.8,246.7L198.0,246.2ZM201.0,256.4L197.2,246.4L206.0,246.9ZM244.7,255.9L245.2,245.0L253.2,249.1ZM158.0,264.6L148.6,256.0L158.2,251.9ZM216.8,264.2L212.0,254.4L220.9,254.1ZM244.7,264.4L244.5,252.1L253.8,256.1ZM192.0,279.7L190.5,268.1L199.6,270.8ZM172.6,286.3L165.5,279.4L173.1,276.4ZM188.1,286.2L180.7,279.7L188.0,276.3ZM107.8,329.0L96.0,331.1L98.4,321.6ZM115.8,329.7L102.8,330.8L106.4,320.7ZM122.8,328.4L112.1,331.4L113.5,322.4ZM107.9,335.8L96.7,339.5L97.7,329.9ZM114.6,338.2L103.1,336.8L108.0,328.6ZM122.6,336.4L111.9,338.5L113.9,329.8ZM115.3,343.2L104.7,347.1L105.3,337.9ZM121.8,347.1L110.1,343.0L117.1,335.7ZM115.9,350.7L104.2,355.3L104.8,345.0Z"/><path fill="#008fff" d="M74.4,8.2L84.8,8.6L81.0,16.2ZM81.5,10.7L90.9,6.1L91.1,14.7ZM92.2,6.9L99.1,11.7L93.1,15.3ZM96.2,11.6L105.8,4.8L107.7,14.4ZM113.4,6.6L123.6,10.6L117.2,16.9ZM74.5,16.1L84.6,16.5L80.9,23.9ZM82.0,15.4L93.0,16.9L88.2,24.6ZM90.8,14.7L100.3,18.5L94.2,24.3ZM100.9,12.1L108.0,22.6L97.8,24.4ZM106.6,14.7L115.1,18.9L109.1,23.8ZM113.1,17.7L121.2,15.5L120.1,22.3ZM119.3,16.3L131.2,15.4L127.9,24.7ZM134.0,18.3L145.3,13.4L145.2,23.5ZM135.8,25.6L144.3,23.1L143.3,30.3ZM143.8,27.4L150.2,21.9L152.1,28.5ZM150.2,24.3L161.3,23.4L158.3,32.0ZM136.1,34.3L143.3,30.5L143.8,37.2ZM143.5,32.6L152.5,31.6L150.2,38.7ZM151.2,33.3L159.6,31.1L158.4,38.1ZM200.8,242.2L196.4,229.9L207.1,230.7ZM209.6,241.5L203.7,231.4L213.2,230.5ZM142.1,248.5L134.5,240.7L142.8,237.7ZM155.0,249.0L151.2,238.4L160.4,239.1ZM173.2,247.4L165.4,242.1L172.1,238.0ZM225.4,248.8L218.9,239.9L227.7,238.0ZM151.4,255.1L141.7,250.7L148.2,244.9ZM207.7,255.6L206.2,246.2L213.8,248.3ZM222.8,255.6L221.7,246.1L229.2,248.5ZM229.7,257.1L228.7,244.3L238.6,247.9ZM236.8,256.0L237.8,244.8L245.8,249.3ZM151.1,263.1L141.6,257.9L148.7,252.4ZM191.3,263.2L192.0,253.1L199.3,257.0ZM202.5,264.7L195.5,254.8L205.2,252.9ZM230.0,263.6L229.4,253.2L237.4,256.2ZM240.4,265.2L233.5,254.1L244.2,252.7ZM256.1,263.9L249.5,255.5L258.0,253.4ZM182.8,270.8L171.3,266.4L178.4,259.2ZM247.1,271.9L242.7,261.8L251.7,261.9ZM181.5,278.2L172.5,273.2L179.3,268.1ZM198.4,278.5L200.1,268.0L207.3,272.9ZM181.2,285.7L172.9,280.8L179.3,276.2ZM191.7,287.2L190.8,275.6L199.8,278.9ZM202.6,287.0L195.9,278.4L204.6,276.3ZM180.1,294.3L173.0,286.8L181.0,283.9Z"/><path fill="#0060ff" d="M119.9,12.2L127.6,5.1L130.4,13.2ZM128.0,10.6L136.3,6.7L136.4,14.2ZM131.1,12.5L138.5,21.9L129.0,24.3ZM146.8,13.5L152.7,21.5L144.7,23.2ZM86.0,23.7L89.3,27.6L85.3,28.8ZM130.3,27.4L133.5,23.4L135.4,27.1ZM135.2,125.4L132.2,131.5L128.7,127.2ZM194.3,124.6L195.6,130.5L190.8,129.5ZM140.3,131.4L143.3,138.5L137.0,138.4ZM164.5,133.0L163.9,138.3L160.1,136.1ZM173.6,132.7L170.5,139.8L166.3,135.1ZM188.2,131.6L187.3,140.2L181.2,136.6ZM173.4,140.1L171.0,147.6L166.2,143.3ZM219.8,141.2L215.5,147.3L212.4,142.0ZM224.5,139.4L227.0,146.3L221.0,145.8ZM149.5,148.6L148.3,154.0L144.7,151.3ZM186.2,147.9L188.3,153.3L183.5,153.1ZM201.5,146.5L204.7,154.5L197.6,154.2ZM233.9,147.0L233.3,155.6L227.1,152.3ZM136.7,156.8L130.6,163.4L127.7,156.6ZM165.8,157.4L161.9,161.7L160.0,157.3ZM173.6,157.1L169.6,162.0L167.3,157.4ZM187.9,158.2L184.8,160.3L184.3,157.3ZM194.3,158.1L193.5,159.5L192.8,158.4ZM199.3,161.4L200.6,154.5L205.4,157.8ZM212.7,160.1L218.5,154.1L221.1,160.5ZM244.8,161.0L247.1,154.5L251.2,158.5ZM137.0,163.2L131.4,172.4L126.5,165.2ZM143.0,163.4L140.3,170.9L135.6,166.4ZM158.2,164.6L154.6,169.9L151.9,165.4ZM165.8,164.5L162.4,169.9L159.5,165.5ZM172.9,164.8L170.3,169.2L167.8,165.8ZM194.4,165.5L193.7,167.5L192.4,166.3ZM199.2,168.4L201.3,162.9L204.7,166.3ZM209.1,169.1L206.5,164.2L211.1,163.9ZM216.8,169.2L214.0,164.0L218.9,163.7ZM243.4,168.2L248.7,161.6L251.8,167.8ZM128.9,171.2L124.0,179.6L119.3,173.1ZM150.9,172.1L146.9,178.1L143.8,173.1ZM158.9,173.1L153.4,177.6L151.9,171.9ZM165.5,172.9L162.1,176.8L160.3,173.0ZM180.2,173.1L177.7,176.3L176.1,173.3ZM187.7,173.8L184.8,175.6L184.5,172.8ZM194.4,173.2L193.7,175.3L192.4,174.1ZM201.5,176.5L199.1,172.1L203.3,171.8ZM206.7,175.2L209.8,171.2L211.7,174.9ZM216.5,177.9L213.5,170.8L219.8,170.9ZM223.8,176.8L222.4,171.4L226.9,172.1ZM238.3,178.1L237.2,169.6L243.9,171.7ZM245.5,177.0L246.1,170.2L251.0,173.0ZM137.7,180.6L129.3,186.9L127.4,178.5ZM145.0,180.6L137.2,186.7L135.3,178.8ZM152.0,181.2L144.8,185.6L144.0,178.7ZM165.3,180.4L162.4,184.6L160.3,181.0ZM194.5,180.9L193.7,183.1L192.3,181.7ZM254.0,185.8L252.1,177.8L258.8,179.1ZM136.8,186.6L131.5,195.3L126.8,188.4ZM180.6,188.9L177.0,191.7L176.1,188.1ZM194.9,188.5L193.5,191.2L192.0,189.3ZM210.4,190.1L207.3,190.1L208.3,187.8ZM219.3,189.2L214.6,191.9L214.2,187.4ZM249.6,191.7L243.4,189.7L247.0,185.7ZM136.7,195.1L130.9,202.2L127.5,195.5ZM151.1,194.8L147.1,201.7L143.3,196.5ZM165.6,195.6L162.4,200.5L159.8,196.4ZM233.9,199.4L228.4,197.1L232.0,193.7ZM250.1,197.3L244.6,199.5L244.8,194.6ZM136.4,202.5L131.4,209.9L127.5,203.7ZM144.1,202.6L138.9,210.0L135.1,203.6ZM165.9,203.1L162.3,208.6L159.4,204.0ZM173.4,204.2L169.2,207.6L168.0,203.3ZM194.9,204.3L193.2,206.4L192.1,204.4ZM202.4,205.5L199.9,205.3L200.9,203.5ZM218.3,205.6L214.6,205.7L215.8,202.9ZM226.0,206.9L221.2,204.7L224.5,201.8ZM233.8,206.5L229.0,205.1L231.7,202.0ZM250.7,205.4L243.8,207.4L244.7,201.5ZM265.8,206.2L258.6,206.6L260.7,201.1ZM137.0,213.4L128.3,215.6L129.6,208.3ZM153.1,213.5L142.8,216.1L144.3,207.5ZM174.2,213.2L167.4,214.9L168.4,209.3ZM183.6,213.5L173.4,216.1L174.9,207.6ZM190.8,213.4L181.5,215.8L182.8,208.0ZM197.0,213.2L190.5,214.8L191.4,209.4ZM234.0,213.9L229.1,213.2L231.2,209.8ZM250.5,214.4L243.0,213.8L246.0,208.4ZM257.9,214.9L250.4,213.3L254.1,208.2ZM152.2,221.1L143.7,223.2L144.9,216.1ZM167.6,221.1L158.8,223.3L160.1,216.0ZM174.2,220.9L167.4,222.6L168.4,217.0ZM182.5,221.0L174.5,223.1L175.6,216.4ZM189.8,221.0L182.4,222.8L183.5,216.7ZM203.0,222.0L198.6,220.3L201.3,217.6ZM210.4,221.6L206.8,220.4L208.9,218.1ZM225.7,221.8L221.8,220.3L224.2,217.9ZM234.8,220.4L229.4,222.6L229.5,217.8ZM250.0,220.9L244.3,222.1L245.4,217.4ZM151.7,229.9L143.1,229.6L146.3,223.3ZM160.5,230.6L149.2,229.9L153.5,221.7ZM167.4,228.2L159.5,231.4L159.8,224.4ZM174.4,229.8L166.3,229.5L169.3,223.5ZM190.4,233.9L191.5,220.5L201.1,225.9ZM144.2,237.9L135.1,237.1L138.8,230.6ZM151.5,236.6L144.1,238.0L145.6,231.9ZM159.7,236.0L151.8,238.8L152.4,232.0ZM167.4,235.5L159.8,239.3L159.5,232.3ZM175.0,235.9L167.1,238.9L167.5,232.0ZM183.9,235.8L173.8,240.1L174.0,231.1ZM264.6,239.5L257.6,234.3L263.8,230.9ZM151.2,248.4L141.0,242.1L149.1,236.5ZM163.3,248.5L158.8,239.4L167.1,239.0ZM192.1,248.9L190.5,237.5L199.5,240.1ZM209.5,248.5L204.2,239.6L212.7,238.7ZM232.4,250.0L226.1,238.3L236.9,237.5ZM157.5,255.4L150.2,249.1L157.4,245.8ZM255.2,256.4L250.1,247.0L258.9,246.3ZM263.0,255.4L258.5,247.9L265.5,247.1ZM209.1,263.5L205.0,254.9L212.7,254.8ZM186.4,271.9L181.2,262.1L190.3,261.5ZM193.3,271.5L189.8,261.8L198.2,262.5ZM202.1,272.2L195.9,262.2L205.5,261.0ZM82.8,274.8L75.4,276.5L76.6,270.4ZM188.9,277.9L180.6,273.3L186.8,268.6ZM68.4,283.5L58.5,284.0L61.5,276.5ZM82.4,282.1L76.1,284.1L76.7,278.7ZM68.6,290.1L59.3,292.7L60.5,284.9ZM75.6,290.4L67.2,291.9L68.9,285.2ZM82.9,291.2L74.4,291.0L77.5,284.7ZM90.9,291.6L81.4,291.0L85.1,284.1ZM170.4,294.1L167.2,285.2L175.0,285.8ZM185.3,294.3L182.6,284.8L190.6,286.0ZM67.9,298.3L59.4,299.3L61.5,292.7ZM90.3,297.6L83.3,299.4L84.3,293.6ZM76.2,304.8L67.4,308.5L67.6,300.7ZM82.5,306.4L74.9,306.0L77.7,300.5ZM67.7,314.0L59.2,314.1L62.0,307.7ZM81.8,314.1L75.3,313.0L78.3,308.6ZM75.9,320.4L67.4,323.2L68.2,315.9ZM82.9,321.1L75.0,322.1L76.9,315.9Z"/><path fill="#0030ff" d="M79.4,22.9L81.5,29.1L76.1,28.7ZM94.8,24.0L95.8,28.3L92.3,27.7ZM101.4,24.2L104.1,27.4L100.8,28.3ZM109.0,23.3L112.5,28.0L107.8,29.1ZM114.2,27.9L118.4,22.3L121.1,27.3ZM122.7,26.2L126.7,24.3L126.8,28.0ZM85.9,31.2L89.8,35.7L85.1,37.1ZM94.5,31.4L96.4,36.3L92.1,36.0ZM102.9,31.3L103.5,36.9L99.1,35.5ZM110.2,31.8L111.0,36.3L107.3,35.4ZM113.7,33.1L120.9,31.9L119.4,37.7ZM121.8,35.7L126.1,30.1L128.8,35.2ZM129.1,35.9L133.9,29.7L136.9,35.3ZM79.4,39.7L80.5,43.8L77.1,43.3ZM86.9,38.4L89.4,44.8L83.8,44.5ZM93.8,38.3L97.7,44.3L91.9,45.2ZM101.2,39.5L104.6,43.1L100.8,44.4ZM108.9,39.6L112.0,43.1L108.4,44.2ZM115.0,42.1L119.0,39.8L119.3,43.5ZM121.0,40.9L128.9,39.4L127.3,45.8ZM129.4,41.8L135.2,39.3L135.1,44.5ZM146.2,43.1L148.1,39.5L150.2,42.1ZM87.0,46.9L88.8,52.2L84.2,51.7ZM102.1,46.4L104.6,52.4L99.3,52.2ZM110.2,46.5L111.8,52.7L106.6,51.8ZM114.7,49.0L120.0,48.1L118.9,52.4ZM121.3,48.8L128.7,47.4L127.2,53.4ZM128.8,49.2L136.0,47.0L135.2,53.1ZM137.4,49.8L142.4,47.3L142.6,51.8ZM145.7,49.8L149.5,47.8L149.7,51.3ZM151.9,48.4L159.4,47.8L157.4,53.6ZM159.8,50.7L165.0,46.1L166.7,51.6ZM94.7,55.4L95.7,59.4L92.4,58.8ZM102.0,55.1L104.0,59.4L100.1,59.5ZM109.6,54.4L112.1,60.0L107.2,60.0ZM115.4,58.3L118.1,55.3L119.5,58.3ZM122.5,57.4L126.9,55.5L126.9,59.5ZM129.3,56.7L135.9,55.5L134.5,60.8ZM137.6,56.9L142.8,55.9L141.8,60.1ZM145.3,58.8L148.8,54.3L151.0,58.4ZM151.8,56.5L159.3,55.3L157.7,61.3ZM160.5,57.7L165.1,55.1L165.5,59.4ZM86.7,61.9L89.5,68.1L83.9,68.1ZM94.9,61.7L96.8,68.6L91.0,67.8ZM101.4,62.6L104.7,67.0L100.3,68.0ZM109.1,62.6L112.3,67.0L107.9,67.9ZM114.7,65.8L119.0,62.8L119.8,67.0ZM137.0,65.1L142.9,62.8L142.7,68.0ZM145.8,65.0L149.7,63.8L149.3,67.2ZM153.5,65.7L156.8,63.3L157.5,66.6ZM115.0,72.7L119.5,71.6L118.8,75.3ZM121.8,73.5L127.2,70.2L127.8,75.3ZM129.3,72.8L135.5,70.7L135.0,76.0ZM152.4,73.2L157.9,70.5L158.1,75.5ZM160.2,73.4L165.3,70.4L165.8,75.2ZM113.9,81.8L119.4,77.4L120.8,83.0ZM122.3,79.7L128.1,79.7L126.1,84.0ZM129.1,81.4L135.0,77.6L135.9,83.3ZM138.1,81.2L141.7,78.9L142.2,82.4ZM144.5,80.7L150.7,78.3L150.4,83.7ZM160.9,80.3L165.4,79.5L164.5,83.2ZM168.6,80.3L173.0,79.6L172.1,83.1ZM121.4,88.1L128.3,86.3L127.3,92.1ZM130.6,87.8L134.9,87.7L133.5,91.0ZM137.7,88.6L142.3,86.7L142.2,90.8ZM145.0,88.3L150.5,86.6L149.9,91.3ZM152.9,88.5L157.7,86.7L157.4,90.9ZM159.8,87.6L166.7,86.8L165.0,92.3ZM167.3,87.6L174.5,86.7L172.7,92.4ZM130.2,96.3L134.6,94.7L134.4,98.5ZM152.8,95.3L158.6,95.2L156.7,99.6ZM160.3,95.7L166.1,94.8L164.8,99.4ZM168.7,96.1L172.8,95.0L172.2,98.5ZM197.7,96.7L204.0,93.3L204.5,99.2ZM144.5,104.4L150.4,101.3L150.8,106.8ZM152.9,104.3L157.5,102.1L157.6,106.3ZM168.8,103.7L172.8,103.0L172.0,106.3ZM137.1,112.8L142.1,108.9L143.3,113.9ZM153.3,111.6L157.6,110.6L156.9,114.2ZM160.8,112.5L164.6,109.7L165.4,113.5ZM168.1,112.2L172.8,109.7L173.0,114.1ZM176.1,112.0L180.3,110.2L180.2,113.9ZM137.1,119.4L143.0,117.6L142.4,122.6ZM144.9,118.9L151.0,118.2L149.5,122.9ZM152.3,120.5L157.5,116.6L158.7,121.8ZM160.7,118.9L165.8,118.5L164.4,122.5ZM168.5,118.9L173.3,118.7L171.9,122.3ZM176.3,119.0L180.7,118.7L179.5,122.1ZM140.6,124.2L142.6,130.6L137.1,129.9ZM147.9,124.5L150.3,130.1L145.3,130.0ZM159.0,125.1L154.6,132.5L150.6,126.7ZM165.1,124.1L164.3,132.0L158.7,128.7ZM172.7,125.3L171.0,131.0L167.3,127.8ZM178.7,124.8L180.4,130.0L175.9,129.5ZM187.9,124.4L187.1,131.6L182.0,128.6ZM205.0,125.4L200.1,132.3L196.6,126.3ZM209.2,123.3L212.2,131.3L205.2,130.8ZM127.2,133.1L124.9,139.0L121.2,135.2ZM134.3,132.4L133.5,139.1L128.7,136.3ZM148.5,131.9L150.1,138.6L144.5,137.5ZM156.7,132.6L156.7,138.6L152.2,136.5ZM180.5,132.6L178.9,139.2L174.5,135.8ZM194.8,131.2L196.1,139.5L189.4,137.7ZM204.3,132.5L201.2,140.0L196.6,135.2ZM212.3,132.8L208.2,140.1L204.2,134.6ZM219.5,132.5L216.5,139.9L212.0,135.2ZM226.2,133.3L224.3,138.5L221.0,135.4ZM133.8,140.7L133.5,146.0L129.6,144.0ZM142.5,140.1L140.7,147.3L135.9,143.6ZM151.0,141.0L146.9,147.4L143.5,142.2ZM157.8,140.3L155.9,147.2L151.3,143.5ZM164.9,139.1L165.0,147.7L158.4,144.9ZM178.5,139.3L181.4,146.2L175.3,146.0ZM186.9,139.8L188.0,146.4L182.7,145.0ZM194.4,139.8L195.8,146.3L190.5,145.2ZM202.4,139.0L203.7,147.3L197.1,145.5ZM211.1,139.3L210.2,147.9L204.1,144.3ZM132.8,146.6L135.9,154.4L128.9,154.1ZM141.6,148.2L141.2,154.1L136.9,151.8ZM157.0,147.6L156.9,154.7L151.6,152.2ZM164.3,147.9L164.6,154.2L159.8,152.2ZM172.5,148.2L171.5,154.4L167.2,151.5ZM179.2,148.2L179.8,153.6L175.6,152.2ZM195.3,147.0L195.5,155.3L189.2,152.6ZM209.3,146.6L212.1,154.5L205.3,154.0ZM218.7,147.0L218.0,155.6L211.8,152.2ZM226.5,147.2L225.4,155.6L219.5,152.0ZM143.8,156.5L138.9,163.2L135.6,157.3ZM151.0,157.0L146.5,162.4L144.0,157.2ZM158.7,157.4L153.8,162.2L151.8,156.8ZM180.0,158.1L177.5,160.2L176.7,157.6ZM206.9,160.3L209.3,155.4L212.1,158.8ZM224.5,161.0L222.0,156.8L226.0,156.3ZM230.4,161.8L230.4,154.7L235.8,157.1ZM238.1,160.6L238.9,155.7L242.3,158.0ZM129.1,163.5L123.7,172.0L119.3,165.1ZM151.9,164.6L145.9,171.0L143.2,164.3ZM180.3,166.0L177.1,168.1L176.6,165.0ZM187.4,164.8L186.1,168.6L183.7,166.3ZM222.2,168.3L224.3,162.9L227.6,166.3ZM230.7,169.9L229.9,162.3L235.8,164.3ZM239.6,170.1L236.4,163.2L242.6,163.2ZM253.1,169.9L253.2,162.0L259.1,164.7ZM137.2,173.2L129.4,178.5L128.1,170.9ZM143.8,171.6L139.2,178.9L135.3,173.0ZM172.9,173.6L169.3,176.1L168.6,172.6ZM229.8,177.3L230.8,169.6L236.3,173.0ZM251.8,176.9L254.9,169.2L259.6,174.2ZM159.2,180.5L153.4,185.8L151.4,179.7ZM173.1,181.5L169.0,183.8L168.7,180.0ZM179.8,180.5L178.2,183.9L176.2,181.6ZM187.0,181.6L185.4,182.6L185.2,181.1ZM201.1,184.2L199.5,179.6L203.5,179.9ZM206.5,185.1L208.3,177.0L213.7,181.0ZM216.7,184.5L214.3,179.6L218.8,179.5ZM223.7,185.5L221.7,178.2L227.8,179.2ZM231.5,184.4L230.0,179.2L234.4,179.8ZM239.3,185.6L236.6,178.4L242.9,178.8ZM244.9,185.1L246.3,177.2L251.7,180.8ZM143.9,187.5L138.8,194.1L135.6,188.1ZM152.2,188.9L144.7,193.5L143.8,186.3ZM158.7,187.9L154.2,193.3L151.6,188.1ZM166.3,189.2L160.7,192.3L160.2,187.1ZM172.4,187.6L171.0,192.3L167.9,189.7ZM186.8,188.7L186.0,190.7L184.8,189.4ZM203.4,190.7L198.7,190.2L200.6,186.8ZM225.8,190.8L221.9,189.7L224.0,187.1ZM233.8,190.8L229.2,190.0L231.4,186.8ZM243.1,190.8L235.5,191.3L237.7,185.4ZM259.0,190.8L250.3,191.8L252.5,184.9ZM265.3,191.9L258.1,189.8L262.1,185.2ZM143.7,194.7L139.4,202.1L135.3,196.4ZM158.6,195.1L154.6,201.5L151.2,196.3ZM173.4,196.6L169.1,199.8L168.1,195.5ZM180.3,195.9L177.8,199.8L175.8,196.6ZM187.4,196.6L185.5,198.8L184.5,196.6ZM195.1,197.0L192.6,198.4L192.4,196.1ZM202.6,197.9L199.7,197.6L200.9,195.6ZM210.5,197.9L207.1,197.9L208.3,195.3ZM219.0,197.9L214.0,198.6L215.2,194.6ZM227.2,197.5L221.6,199.3L222.1,194.5ZM243.1,198.0L235.9,199.4L237.3,193.6ZM257.6,199.1L250.9,197.9L254.0,193.3ZM265.6,200.0L257.5,197.5L262.1,192.3ZM128.4,202.0L124.4,210.2L119.7,204.4ZM152.1,203.7L145.3,209.4L143.4,202.3ZM158.3,202.9L154.8,208.8L151.6,204.2ZM179.6,203.5L178.6,207.0L176.3,205.0ZM187.0,204.5L185.6,205.9L185.0,204.4ZM210.4,206.4L206.6,204.9L208.9,202.5ZM242.0,206.3L236.4,205.8L238.6,201.8ZM259.1,205.9L250.5,207.6L252.1,200.6ZM160.4,213.5L150.7,215.9L152.2,207.8ZM167.6,213.4L158.8,215.6L160.1,208.3ZM203.0,212.8L199.8,213.8L200.1,211.1ZM211.0,213.2L206.8,213.8L207.8,210.5ZM218.4,213.4L214.4,213.4L215.8,210.4ZM227.0,213.2L221.5,214.3L222.5,209.8ZM242.3,214.1L236.0,213.7L238.4,209.1ZM144.4,221.0L136.2,223.1L137.4,216.3ZM158.9,220.9L152.2,222.6L153.2,217.0ZM197.1,220.9L190.4,222.6L191.4,217.0ZM219.2,220.6L214.2,222.2L214.7,217.9ZM242.4,220.0L237.4,222.8L237.0,218.2ZM257.6,222.7L250.6,220.7L254.4,216.0ZM143.8,229.0L136.4,230.1L138.0,224.2ZM183.0,228.6L174.1,231.3L175.1,223.7ZM219.8,226.8L228.8,225.4L226.8,232.6ZM227.8,228.3L235.0,224.4L235.5,231.1ZM235.3,227.3L243.6,225.1L242.4,232.0ZM244.0,227.8L249.9,225.6L249.5,230.7ZM250.9,228.9L257.2,224.1L258.7,230.4ZM220.5,234.2L228.6,233.8L226.1,240.0ZM229.2,234.2L235.2,234.7L232.9,239.0ZM236.4,232.8L244.5,235.5L239.7,240.6ZM243.5,234.4L251.2,233.8L249.0,239.7ZM252.3,232.7L259.2,236.1L254.4,240.1ZM75.4,275.8L66.7,275.9L69.6,269.3ZM75.2,282.5L67.7,284.1L69.0,278.0ZM76.2,297.8L67.0,300.3L68.2,292.5ZM83.0,299.6L73.8,298.1L78.0,291.7ZM68.2,304.6L60.2,308.4L60.1,301.1ZM74.7,313.6L67.7,313.9L69.8,308.6ZM68.0,322.6L58.1,321.2L62.5,314.3Z"/><path fill="#0010ff" d="M78.8,31.5L81.4,35.8L77.3,36.3ZM79.6,46.1L81.6,53.0L75.7,52.2ZM93.9,46.0L97.7,52.3L91.7,53.0ZM86.6,54.1L89.6,60.2L84.0,60.4ZM122.2,64.3L128.0,63.8L126.4,68.3ZM129.6,67.6L133.1,61.0L136.9,65.8ZM161.1,66.3L164.0,62.8L165.6,66.2ZM136.8,72.2L143.7,71.0L142.3,76.6ZM144.8,71.9L151.3,71.6L149.3,76.5ZM152.4,82.2L156.9,77.3L159.1,82.3ZM144.8,96.4L150.3,94.0L150.3,98.9ZM137.5,104.8L142.0,101.5L142.9,106.0ZM159.6,103.9L166.3,101.6L165.7,107.4ZM144.8,112.4L150.0,109.2L150.6,114.2ZM183.6,119.3L188.4,118.2L187.6,122.1Z"/><path fill="#00dfff" d="M86.2,78.7L82.6,68.1L91.7,68.9ZM101.3,78.1L98.4,68.4L106.7,69.5ZM110.7,77.7L105.0,70.2L112.5,68.5ZM93.0,87.3L90.2,74.5L100.8,76.7ZM101.5,86.0L98.3,76.3L106.6,77.2ZM108.3,86.7L105.9,75.0L115.5,77.2ZM109.6,94.8L104.7,83.6L114.7,83.7ZM144.0,254.5L134.3,251.3L139.9,245.2ZM60.2,290.4L52.0,291.8L53.7,285.2ZM60.3,296.7L53.1,300.7L52.5,294.0ZM59.5,305.1L53.0,307.0L53.8,301.5ZM60.7,313.0L51.9,315.4L53.0,308.1Z"/><path fill="#10ffef" d="M93.7,79.4L89.8,67.4L100.1,68.5Z"/><path d="M106,263.5L120,277L112,276L104.5,265Z" fill="#d4ff2b"/><path d="M215.4,0.0 213.0,19.4 211.9,31.1 209.5,41.7 206.0,54.6 202.4,66.4 198.9,80.5 197.8,90.0 196.6,101.7 194.2,113.5 193.6,125.2 192.4,137.0 191.9,152.6 189.5,159.4 188.9,167.6" fill="none" stroke="#000" stroke-width="1"/><path d="M194.9,195.6 196.0,199.4 193.0,211.1 194.2,217.0 190.7,224.1 184.8,231.1 178.9,238.2 171.9,247.6 166.0,254.6 160.1,262.9 154.2,270.0 147.2,275.8 138.9,282.9 130.7,291.1 124.8,297.0 111.8,318.8 98.6,331.7 89.5,340.8 83.8,353.1 73.1,362.2" fill="none" stroke="#000" stroke-width="1"/><path d="M54.1,390.2 42.6,403.4 35.4,412.0 22.8,424.6 20.4,427.6" fill="none" stroke="#000" stroke-width="1"/><circle cx="203.1" cy="56" r="1.8" fill="#fff" stroke="#000" stroke-width="0.9"/><text transform="translate(191.5,184.1) rotate(80.5)" font-size="15.6" text-anchor="middle" dy="0.36em" fill="#000">-100</text><text transform="translate(66.5,377.0) rotate(-54.8)" font-size="15.6" text-anchor="middle" dy="0.36em" fill="#000">-100</text></g>
<use href="#coast"/>
<use href="#stars"/>
<use href="#boxL"/>
<use href="#frame"/>
<text x="173.5" y="-12.6" font-size="25" font-weight="bold" text-anchor="middle" letter-spacing="0.05" fill="#000">2023-08-10 02:00</text>
<rect x="10.7" y="16" width="112.4" height="24.9" fill="url(#jet)" stroke="#262626" stroke-width="1"/>
<clipPath id="sm"><rect x="5.5" y="-20" width="133" height="30"/></clipPath><g font-size="16.67" fill="#262626" clip-path="url(#sm)"><text x="10.7" y="0.6" text-anchor="middle">0</text><text x="14.3" y="0.6" text-anchor="middle">0.01</text><text x="18.0" y="0.6" text-anchor="middle">0.03</text><text x="21.6" y="0.6" text-anchor="middle">0.04</text><text x="25.2" y="0.6" text-anchor="middle">0.06</text><text x="28.8" y="0.6" text-anchor="middle">0.07</text><text x="32.5" y="0.6" text-anchor="middle">0.09</text><text x="36.1" y="0.6" text-anchor="middle">0.10</text><text x="39.7" y="0.6" text-anchor="middle">0.12</text><text x="43.3" y="0.6" text-anchor="middle">0.14</text><text x="47.0" y="0.6" text-anchor="middle">0.15</text><text x="50.6" y="0.6" text-anchor="middle">0.16</text><text x="54.2" y="0.6" text-anchor="middle">0.18</text><text x="57.8" y="0.6" text-anchor="middle">0.20</text><text x="61.5" y="0.6" text-anchor="middle">0.21</text><text x="65.1" y="0.6" text-anchor="middle">0.22</text><text x="68.7" y="0.6" text-anchor="middle">0.24</text><text x="72.3" y="0.6" text-anchor="middle">0.26</text><text x="76.0" y="0.6" text-anchor="middle">0.27</text><text x="79.6" y="0.6" text-anchor="middle">0.28</text><text x="83.2" y="0.6" text-anchor="middle">0.30</text><text x="86.8" y="0.6" text-anchor="middle">0.32</text><text x="90.5" y="0.6" text-anchor="middle">0.33</text><text x="94.1" y="0.6" text-anchor="middle">0.34</text><text x="97.7" y="0.6" text-anchor="middle">0.36</text><text x="101.3" y="0.6" text-anchor="middle">0.38</text><text x="105.0" y="0.6" text-anchor="middle">0.39</text><text x="108.6" y="0.6" text-anchor="middle">0.40</text><text x="112.2" y="0.6" text-anchor="middle">0.42</text><text x="115.8" y="0.6" text-anchor="middle">0.43</text><text x="119.5" y="0.6" text-anchor="middle">0.45</text><text x="123.1" y="0.6" text-anchor="middle">0.46</text></g>
<text x="66.6" y="-28.4" font-size="21" text-anchor="middle" fill="#262626">cm/s</text>
<text x="275.5" y="64" font-size="18.75" letter-spacing="0.95" fill="#000">50 cm/s</text>
<text x="286" y="102.3" font-size="18.75" letter-spacing="1.0" fill="#000">10 km</text><path d="M307,108H320.5" stroke="#000" stroke-width="3.6" stroke-linecap="round"/>
</g>
<g transform="translate(458.5,142.4)">
<use href="#box"/>
<use href="#grid"/>
<g clip-path="url(#cl)" shape-rendering="crispEdges">
<path fill="#10ffef" d="M67.6,-0.1H90.7V6.8H67.6ZM159.3,-0.1H174.7V6.8H159.3ZM159.3,6.5H174.7V14.6H159.3ZM212.8,108.0H220.6V116.0H212.8ZM243.3,146.8H251.1V154.8H243.3ZM258.6,162.3H274.0V170.3H258.6ZM266.3,170.0H274.0V178.0H266.3ZM266.3,177.7H274.0V185.8H266.3ZM266.3,185.5H274.0V193.5H266.3ZM266.3,200.9H274.0V208.9H266.3ZM266.3,208.6H274.0V216.6H266.3ZM266.3,216.3H274.0V224.3H266.3ZM266.3,224.0H274.0V232.0H266.3ZM273.9,231.7H281.7V239.7H273.9ZM182.2,239.4H190.0V247.4H182.2ZM258.6,239.4H274.0V247.4H258.6ZM273.9,247.1H281.7V255.0H273.9ZM182.2,254.7H190.0V262.7H182.2ZM266.3,254.7H274.0V262.7H266.3ZM258.6,262.4H266.4V270.4H258.6ZM166.9,270.1H174.7V278.0H166.9ZM235.7,270.1H266.4V278.0H235.7ZM235.7,277.7H251.1V285.7H235.7ZM228.1,285.4H251.1V293.3H228.1ZM44.7,293.0H52.5V301.0H44.7ZM228.1,293.0H243.5V301.0H228.1ZM44.7,300.7H52.5V308.6H44.7ZM121.1,354.1H128.9V362.0H121.1ZM128.7,361.7H136.5V369.6H128.7Z"/><path fill="#ffef00" d="M90.5,-0.1H98.3V6.8H90.5ZM327.4,37.8H335.2V45.9H327.4ZM289.2,146.8H297.0V154.8H289.2ZM296.8,208.6H304.6V216.6H296.8ZM289.2,216.3H297.0V224.3H289.2ZM327.4,224.0H335.2V232.0H327.4ZM319.7,231.7H327.5V239.7H319.7ZM296.8,239.4H304.6V247.4H296.8ZM228.1,270.1H235.8V278.0H228.1ZM273.9,270.1H281.7V278.0H273.9ZM212.8,293.0H228.2V301.0H212.8ZM212.8,300.7H220.6V308.6H212.8Z"/><path fill="#009fff" d="M105.8,-0.1H113.6V6.8H105.8ZM75.3,6.5H83.0V14.6H75.3ZM128.7,6.5H136.5V14.6H128.7ZM136.4,30.0H144.2V38.1H136.4ZM144.0,37.8H151.8V45.9H144.0ZM159.3,45.6H167.1V53.7H159.3ZM159.3,53.4H167.1V61.5H159.3ZM159.3,61.2H167.1V69.3H159.3ZM82.9,69.0H90.7V77.1H82.9ZM90.5,76.8H98.3V84.9H90.5ZM105.8,84.6H113.6V92.7H105.8ZM121.1,84.6H128.9V92.7H121.1ZM128.7,92.4H136.5V100.5H128.7ZM144.0,92.4H151.8V100.5H144.0ZM174.6,108.0H182.4V116.0H174.6ZM128.7,123.5H136.5V131.6H128.7ZM197.5,123.5H212.9V131.6H197.5ZM220.4,131.3H228.2V139.3H220.4ZM220.4,139.0H228.2V147.1H220.4ZM228.1,146.8H235.8V154.8H228.1ZM243.3,154.5H251.1V162.6H243.3ZM251.0,162.3H258.8V170.3H251.0ZM251.0,170.0H258.8V178.0H251.0ZM258.6,185.5H266.4V193.5H258.6ZM243.3,193.2H251.1V201.2H243.3ZM258.6,193.2H266.4V201.2H258.6ZM121.1,200.9H128.9V208.9H121.1ZM243.3,200.9H251.1V208.9H243.3ZM258.6,200.9H266.4V208.9H258.6ZM128.7,208.6H136.5V216.6H128.7ZM212.8,208.6H220.6V216.6H212.8ZM251.0,208.6H258.8V216.6H251.0ZM205.1,216.3H220.6V224.3H205.1ZM243.3,216.3H258.8V224.3H243.3ZM205.1,224.0H220.6V232.0H205.1ZM235.7,224.0H243.5V232.0H235.7ZM251.0,224.0H258.8V232.0H251.0ZM174.6,231.7H182.4V239.7H174.6ZM212.8,231.7H220.6V239.7H212.8ZM258.6,231.7H266.4V239.7H258.6ZM166.9,239.4H174.7V247.4H166.9ZM212.8,239.4H228.2V247.4H212.8ZM243.3,239.4H251.1V247.4H243.3ZM220.4,247.1H228.2V255.0H220.4ZM235.7,247.1H243.5V255.0H235.7ZM251.0,247.1H258.8V255.0H251.0ZM205.1,254.7H220.6V262.7H205.1ZM235.7,254.7H243.5V262.7H235.7ZM251.0,254.7H258.8V262.7H251.0ZM243.3,262.4H251.1V270.4H243.3ZM197.5,277.7H205.3V285.7H197.5ZM82.9,285.4H90.7V293.3H82.9ZM166.9,285.4H174.7V293.3H166.9ZM182.2,285.4H190.0V293.3H182.2ZM82.9,293.0H90.7V301.0H82.9ZM60.0,316.0H83.0V323.9H60.0ZM98.2,323.6H106.0V331.5H98.2ZM113.5,323.6H121.2V331.5H113.5ZM98.2,331.2H106.0V339.2H98.2ZM105.8,346.5H113.6V354.4H105.8Z"/><path fill="#00cfff" d="M113.5,-0.1H121.2V6.8H113.5ZM67.6,6.5H75.4V14.6H67.6ZM151.7,14.3H159.4V22.4H151.7ZM159.3,22.1H167.1V30.3H159.3ZM159.3,30.0H167.1V38.1H159.3ZM98.2,84.6H106.0V92.7H98.2ZM205.1,92.4H212.9V100.5H205.1ZM197.5,100.2H220.6V108.3H197.5ZM182.2,108.0H190.0V116.0H182.2ZM197.5,108.0H212.9V116.0H197.5ZM189.9,115.7H197.7V123.8H189.9ZM212.8,123.5H220.6V131.6H212.8ZM228.1,139.0H235.8V147.1H228.1ZM235.7,146.8H243.5V154.8H235.7ZM251.0,154.5H258.8V162.6H251.0ZM258.6,170.0H266.4V178.0H258.6ZM121.1,177.7H128.9V185.8H121.1ZM258.6,177.7H266.4V185.8H258.6ZM266.3,193.2H274.0V201.2H266.3ZM258.6,208.6H266.4V216.6H258.6ZM258.6,216.3H266.4V224.3H258.6ZM182.2,224.0H190.0V232.0H182.2ZM258.6,224.0H266.4V232.0H258.6ZM266.3,231.7H274.0V239.7H266.3ZM251.0,239.4H258.8V247.4H251.0ZM212.8,247.1H220.6V255.0H212.8ZM220.4,254.7H228.2V262.7H220.4ZM258.6,254.7H266.4V262.7H258.6ZM251.0,262.4H258.8V270.4H251.0Z"/><path fill="#0070ff" d="M82.9,6.5H90.7V14.6H82.9ZM75.3,14.3H83.0V22.4H75.3ZM128.7,14.3H151.8V22.4H128.7ZM136.4,22.1H159.4V30.3H136.4ZM144.0,30.0H159.4V38.1H144.0ZM82.9,61.2H90.7V69.3H82.9ZM98.2,76.8H106.0V84.9H98.2ZM121.1,76.8H128.9V84.9H121.1ZM166.9,76.8H174.7V84.9H166.9ZM197.5,92.4H205.3V100.5H197.5ZM166.9,100.2H174.7V108.3H166.9ZM136.4,115.7H144.2V123.8H136.4ZM174.6,115.7H190.0V123.8H174.6ZM151.7,123.5H159.4V131.6H151.7ZM189.9,123.5H197.7V131.6H189.9ZM212.8,131.3H220.6V139.3H212.8ZM235.7,154.5H243.5V162.6H235.7ZM235.7,162.3H251.1V170.3H235.7ZM235.7,170.0H251.1V178.0H235.7ZM235.7,177.7H258.8V185.8H235.7ZM235.7,185.5H258.8V193.5H235.7ZM220.4,193.2H243.5V201.2H220.4ZM251.0,193.2H258.8V201.2H251.0ZM151.7,200.9H159.4V208.9H151.7ZM212.8,200.9H243.5V208.9H212.8ZM251.0,200.9H258.8V208.9H251.0ZM205.1,208.6H212.9V216.6H205.1ZM220.4,208.6H251.1V216.6H220.4ZM136.4,216.3H144.2V224.3H136.4ZM189.9,216.3H205.3V224.3H189.9ZM220.4,216.3H243.5V224.3H220.4ZM189.9,224.0H205.3V232.0H189.9ZM220.4,224.0H235.8V232.0H220.4ZM243.3,224.0H251.1V232.0H243.3ZM166.9,231.7H174.7V239.7H166.9ZM189.9,231.7H212.9V239.7H189.9ZM220.4,231.7H258.8V239.7H220.4ZM159.3,239.4H167.1V247.4H159.3ZM189.9,239.4H212.9V247.4H189.9ZM228.1,239.4H243.5V247.4H228.1ZM159.3,247.1H167.1V255.0H159.3ZM182.2,247.1H212.9V255.0H182.2ZM228.1,247.1H235.8V255.0H228.1ZM243.3,247.1H251.1V255.0H243.3ZM258.6,247.1H266.4V255.0H258.6ZM105.8,254.7H113.6V262.7H105.8ZM151.7,254.7H159.4V262.7H151.7ZM189.9,254.7H205.3V262.7H189.9ZM228.1,254.7H235.8V262.7H228.1ZM243.3,254.7H251.1V262.7H243.3ZM174.6,262.4H205.3V270.4H174.6ZM174.6,270.1H205.3V278.0H174.6ZM166.9,277.7H197.7V285.7H166.9ZM174.6,285.4H182.4V293.3H174.6ZM52.3,300.7H60.1V308.6H52.3ZM52.3,308.3H60.1V316.3H52.3ZM105.8,323.6H113.6V331.5H105.8ZM105.8,331.2H121.2V339.2H105.8ZM105.8,338.9H121.2V346.8H105.8Z"/><path fill="#0030ff" d="M90.5,6.5H98.3V14.6H90.5ZM121.1,6.5H128.9V14.6H121.1ZM128.7,22.1H136.5V30.3H128.7ZM136.4,45.6H159.4V53.7H136.4ZM90.5,69.0H98.3V77.1H90.5ZM159.3,69.0H167.1V77.1H159.3ZM113.5,76.8H121.2V84.9H113.5ZM159.3,76.8H167.1V84.9H159.3ZM128.7,84.6H136.5V92.7H128.7ZM159.3,84.6H174.7V92.7H159.3ZM151.7,92.4H159.4V100.5H151.7ZM166.9,92.4H174.7V100.5H166.9ZM136.4,100.2H144.2V108.3H136.4ZM136.4,108.0H144.2V116.0H136.4ZM166.9,108.0H174.7V116.0H166.9ZM144.0,115.7H151.8V123.8H144.0ZM166.9,115.7H174.7V123.8H166.9ZM136.4,123.5H151.8V131.6H136.4ZM159.3,123.5H190.0V131.6H159.3ZM128.7,131.3H144.2V139.3H128.7ZM189.9,131.3H212.9V139.3H189.9ZM212.8,139.0H220.6V147.1H212.8ZM228.1,154.5H235.8V162.6H228.1ZM121.1,162.3H128.9V170.3H121.1ZM228.1,162.3H235.8V170.3H228.1ZM121.1,170.0H128.9V178.0H121.1ZM220.4,170.0H235.8V178.0H220.4ZM128.7,177.7H136.5V185.8H128.7ZM212.8,177.7H235.8V185.8H212.8ZM128.7,185.5H136.5V193.5H128.7ZM212.8,185.5H235.8V193.5H212.8ZM128.7,193.2H136.5V201.2H128.7ZM205.1,193.2H220.6V201.2H205.1ZM128.7,200.9H136.5V208.9H128.7ZM197.5,200.9H212.9V208.9H197.5ZM144.0,208.6H151.8V216.6H144.0ZM189.9,208.6H205.3V216.6H189.9ZM182.2,216.3H190.0V224.3H182.2ZM136.4,224.0H144.2V232.0H136.4ZM174.6,224.0H182.4V232.0H174.6ZM136.4,231.7H144.2V239.7H136.4ZM136.4,239.4H144.2V247.4H136.4ZM151.7,239.4H159.4V247.4H151.7ZM136.4,247.1H159.4V255.0H136.4ZM144.0,254.7H151.8V262.7H144.0ZM52.3,293.0H60.1V301.0H52.3Z"/><path fill="#0010ff" d="M98.2,6.5H121.2V14.6H98.2ZM82.9,14.3H128.9V22.4H82.9ZM75.3,22.1H128.9V30.3H75.3ZM75.3,30.0H136.5V38.1H75.3ZM75.3,37.8H136.5V45.9H75.3ZM75.3,45.6H136.5V53.7H75.3ZM82.9,53.4H159.4V61.5H82.9ZM90.5,61.2H159.4V69.3H90.5ZM98.2,69.0H159.4V77.1H98.2ZM105.8,76.8H113.6V84.9H105.8ZM128.7,76.8H144.2V84.9H128.7ZM151.7,76.8H159.4V84.9H151.7ZM136.4,84.6H159.4V92.7H136.4ZM159.3,92.4H167.1V100.5H159.3ZM144.0,100.2H167.1V108.3H144.0ZM144.0,108.0H167.1V116.0H144.0ZM151.7,115.7H167.1V123.8H151.7ZM121.1,131.3H128.9V139.3H121.1ZM144.0,131.3H190.0V139.3H144.0ZM128.7,139.0H212.9V147.1H128.7ZM128.7,146.8H228.2V154.8H128.7ZM128.7,154.5H228.2V162.6H128.7ZM128.7,162.3H167.1V170.3H128.7ZM189.9,162.3H228.2V170.3H189.9ZM128.7,170.0H167.1V178.0H128.7ZM189.9,170.0H220.6V178.0H189.9ZM136.4,177.7H159.4V185.8H136.4ZM182.2,177.7H212.9V185.8H182.2ZM136.4,185.5H167.1V193.5H136.4ZM189.9,185.5H212.9V193.5H189.9ZM136.4,193.2H159.4V201.2H136.4ZM189.9,193.2H205.3V201.2H189.9ZM136.4,200.9H151.8V208.9H136.4ZM159.3,200.9H197.7V208.9H159.3ZM151.7,208.6H190.0V216.6H151.7ZM144.0,216.3H182.4V224.3H144.0ZM144.0,224.0H174.7V232.0H144.0ZM144.0,231.7H167.1V239.7H144.0ZM144.0,239.4H151.8V247.4H144.0ZM67.6,270.1H83.0V278.0H67.6ZM60.0,277.7H83.0V285.7H60.0ZM52.3,285.4H83.0V293.3H52.3ZM60.0,293.0H83.0V301.0H60.0ZM60.0,300.7H83.0V308.6H60.0ZM60.0,308.3H83.0V316.3H60.0Z"/><path fill="#40ffbf" d="M174.6,6.5H182.4V14.6H174.6ZM189.9,108.0H197.7V116.0H189.9ZM197.5,115.7H205.3V123.8H197.5ZM220.4,123.5H228.2V131.6H220.4ZM228.1,131.3H235.8V139.3H228.1ZM235.7,139.0H243.5V147.1H235.7ZM273.9,177.7H281.7V185.8H273.9ZM273.9,193.2H281.7V201.2H273.9ZM273.9,200.9H281.7V208.9H273.9ZM273.9,208.6H281.7V216.6H273.9ZM273.9,216.3H281.7V224.3H273.9ZM273.9,224.0H289.3V232.0H273.9ZM281.5,231.7H289.3V239.7H281.5ZM273.9,239.4H281.7V247.4H273.9ZM281.5,247.1H289.3V255.0H281.5ZM296.8,247.1H304.6V255.0H296.8ZM273.9,254.7H281.7V262.7H273.9ZM82.9,262.4H90.7V270.4H82.9ZM205.1,262.4H212.9V270.4H205.1ZM228.1,262.4H235.8V270.4H228.1ZM266.3,262.4H274.0V270.4H266.3ZM82.9,270.1H90.7V278.0H82.9ZM220.4,270.1H228.2V278.0H220.4ZM159.3,277.7H167.1V285.7H159.3ZM251.0,277.7H258.8V285.7H251.0ZM266.3,277.7H274.0V285.7H266.3ZM251.0,285.4H258.8V293.3H251.0Z"/><path fill="#cfff30" d="M319.7,30.0H335.2V38.1H319.7ZM82.9,76.8H90.7V84.9H82.9ZM189.9,76.8H197.7V84.9H189.9ZM182.2,84.6H197.7V92.7H182.2ZM289.2,139.0H312.2V147.1H289.2ZM281.5,193.2H289.3V201.2H281.5ZM289.2,208.6H297.0V216.6H289.2ZM312.1,216.3H327.5V224.3H312.1ZM281.5,239.4H289.3V247.4H281.5ZM304.5,239.4H312.2V247.4H304.5ZM266.3,247.1H274.0V255.0H266.3ZM281.5,254.7H297.0V262.7H281.5ZM220.4,262.4H228.2V270.4H220.4ZM220.4,277.7H235.8V285.7H220.4ZM258.6,277.7H266.4V285.7H258.6ZM159.3,285.4H167.1V293.3H159.3ZM220.4,285.4H228.2V293.3H220.4ZM159.3,293.0H182.4V301.0H159.3ZM235.7,323.6H243.5V331.5H235.7Z"/><path fill="#ff8f00" d="M335.0,37.8H342.8V45.9H335.0ZM327.4,45.6H342.8V53.7H327.4ZM304.5,146.8H312.2V154.8H304.5ZM289.2,154.5H297.0V162.6H289.2ZM304.5,154.5H312.2V162.6H304.5ZM327.4,216.3H335.2V224.3H327.4ZM335.0,231.7H342.8V239.7H335.0ZM266.3,270.1H274.0V278.0H266.3ZM243.3,300.7H251.1V308.6H243.3ZM243.3,316.0H251.1V323.9H243.3ZM281.5,316.0H289.3V323.9H281.5ZM228.1,323.6H235.8V331.5H228.1Z"/><path fill="#0000ef" d="M144.0,76.8H151.8V84.9H144.0ZM166.9,162.3H190.0V170.3H166.9ZM166.9,170.0H190.0V178.0H166.9ZM159.3,177.7H182.4V185.8H159.3ZM166.9,185.5H190.0V193.5H166.9ZM159.3,193.2H190.0V201.2H159.3Z"/><path fill="#ffbf00" d="M182.2,76.8H190.0V84.9H182.2ZM174.6,84.6H182.4V92.7H174.6ZM296.8,146.8H304.6V154.8H296.8ZM296.8,154.5H304.6V162.6H296.8ZM296.8,200.9H319.9V208.9H296.8ZM304.5,208.6H319.9V216.6H304.5ZM289.2,224.0H297.0V232.0H289.2ZM304.5,224.0H319.9V232.0H304.5ZM304.5,231.7H319.9V239.7H304.5ZM327.4,231.7H335.2V239.7H327.4ZM312.1,239.4H327.5V247.4H312.1ZM304.5,247.1H327.5V255.0H304.5ZM304.5,254.7H319.9V262.7H304.5ZM281.5,262.4H289.3V270.4H281.5ZM273.9,277.7H281.7V285.7H273.9ZM212.8,285.4H220.6V293.3H212.8ZM258.6,285.4H274.0V293.3H258.6ZM220.4,300.7H235.8V308.6H220.4ZM251.0,300.7H258.8V308.6H251.0ZM228.1,316.0H235.8V323.9H228.1ZM251.0,316.0H258.8V323.9H251.0ZM258.6,323.6H266.4V331.5H258.6Z"/><path fill="#8fff70" d="M90.5,84.6H98.3V92.7H90.5ZM197.5,84.6H205.3V92.7H197.5ZM182.2,92.4H197.7V100.5H182.2ZM212.8,115.7H220.6V123.8H212.8ZM251.0,146.8H258.8V154.8H251.0ZM258.6,154.5H274.0V162.6H258.6ZM273.9,170.0H281.7V178.0H273.9ZM273.9,185.5H281.7V193.5H273.9ZM281.5,200.9H289.3V208.9H281.5ZM281.5,208.6H289.3V216.6H281.5ZM281.5,216.3H289.3V224.3H281.5ZM296.8,216.3H312.2V224.3H296.8ZM296.8,224.0H304.6V232.0H296.8ZM319.7,224.0H327.5V232.0H319.7ZM289.2,231.7H304.6V239.7H289.2ZM289.2,239.4H297.0V247.4H289.2ZM289.2,247.1H297.0V255.0H289.2ZM235.7,262.4H243.5V270.4H235.7ZM273.9,262.4H281.7V270.4H273.9ZM189.9,285.4H197.7V293.3H189.9ZM182.2,293.0H190.0V301.0H182.2ZM243.3,293.0H258.8V301.0H243.3Z"/><path fill="#ef0000" d="M327.4,239.4H335.2V247.4H327.4ZM273.9,316.0H281.7V323.9H273.9ZM273.9,323.6H281.7V331.5H273.9ZM220.4,331.2H258.8V339.2H220.4Z"/><path fill="#ff4000" d="M166.9,300.7H182.4V308.6H166.9ZM205.1,300.7H212.9V308.6H205.1ZM205.1,308.3H212.9V316.3H205.1ZM235.7,316.0H243.5V323.9H235.7ZM220.4,323.6H228.2V331.5H220.4ZM243.3,323.6H258.8V331.5H243.3ZM266.3,323.6H274.0V331.5H266.3Z"/><path fill="#800000" d="M266.3,331.2H274.0V339.2H266.3ZM228.1,338.9H235.8V346.8H228.1Z"/><path fill="#bf0000" d="M273.9,331.2H281.7V339.2H273.9Z"/>
</g>
<path clip-path="url(#cl)" d="M79.1,8.3L74.0,10.5M86.7,6.5L79.1,8.3M94.4,8.3L86.7,6.5M114.7,2.7L117.3,3.3M154.3,18.4L155.5,19.6M161.9,26.2L161.9,34.0M93.6,80.9L86.7,73.9M102.0,87.4L94.4,81.9M104.5,88.7L102.0,87.4M201.3,94.2L199.1,96.5M207.8,96.5L201.3,103.0M183.5,112.0L186.0,113.2M192.5,119.8L186.0,113.2M192.5,119.8L193.7,121.0M201.3,126.1L193.7,121.0M214.1,127.5L216.6,128.8M224.2,133.8L216.6,128.8M225.7,135.3L229.3,143.1M229.3,143.1L231.9,145.6M237.0,150.8L231.9,145.6M237.0,150.8L239.5,152.0M247.2,156.3L239.5,152.0M252.3,158.5L247.2,156.3M252.3,158.5L254.8,161.1M257.0,166.3L254.8,161.1M257.0,166.3L259.9,174.0M125.7,181.7L124.9,180.9M259.9,174.0L261.2,181.7M261.2,181.7L262.4,184.3M264.6,189.5L262.4,184.3M264.6,189.5L267.5,197.2M267.5,197.2L264.6,204.9M262.4,210.0L259.9,212.6M264.6,204.9L262.4,210.0M259.9,212.6L259.9,220.3M186.0,227.2L185.2,228.0M187.2,228.0L186.0,227.2M259.9,220.3L259.9,228.0M259.9,228.0L262.4,230.6M267.5,235.7L262.4,230.6M254.8,242.2L252.3,243.4M262.4,237.9L254.8,242.2M267.5,235.7L262.4,237.9M189.7,243.4L186.0,247.1M216.6,248.5L215.4,251.0M219.1,251.0L216.6,248.5M252.3,243.4L254.8,245.9M262.4,247.1L254.8,245.9M264.2,251.0L262.4,247.1M189.7,258.7L186.0,255.0M215.4,251.0L216.6,253.6M219.1,251.0L224.2,256.2M221.7,258.7L216.6,253.6M225.4,258.7L224.2,256.2M262.4,257.5L259.9,258.7M264.2,251.0L262.4,257.5M189.7,258.7L186.0,262.4M209.0,260.2L204.2,266.4M225.4,258.7L231.9,261.6M239.5,259.7L231.9,261.6M246.2,266.4L239.5,259.7M254.8,263.8L252.3,266.4M259.9,258.7L254.8,263.8M246.2,266.4L247.2,268.6M252.3,266.4L247.2,268.6M174.5,274.1L170.8,277.8M167.8,281.7L170.0,289.4M193.7,283.9L187.0,289.4M170.0,289.4L170.8,290.1M178.4,291.1L170.8,290.1M186.0,290.4L178.4,291.1M51.3,297.0L52.2,304.7" fill="none" stroke="#000" stroke-width="1"/>
<use href="#coast"/>
<use href="#stars"/>
<use href="#boxL"/>
<use href="#frame"/>
<text x="173.5" y="-12.6" font-size="20.4" font-weight="bold" text-anchor="middle" letter-spacing="0.12" fill="#000">GDOP TotalErrors (1.25)</text>
<use href="#km"/>
<g font-size="14.6" fill="#000" text-anchor="middle"><text transform="translate(248.7,160.8) rotate(48)" dy="0.36em">1.25</text><text transform="translate(178.7,288)" dy="0.36em">1.25</text></g>
<rect x="3.8" y="20.3" width="113.3" height="24.6" fill="url(#jet)" stroke="#262626" stroke-width="1"/>
<text x="2.2" y="6.3" font-size="16.67" text-anchor="middle" fill="#262626">0</text>
<text x="58.8" y="6.3" font-size="16.67" text-anchor="middle" fill="#262626">2</text>
<text x="115.5" y="6.3" font-size="16.67" text-anchor="middle" fill="#262626">4</text>
</g>
<g transform="translate(843.6,142.4)">
<use href="#box"/>
<use href="#grid"/>
<g clip-path="url(#cl)" shape-rendering="crispEdges">
<path fill="#0010ff" d="M67.6,-0.1H75.4V6.8H67.6ZM128.7,14.3H136.5V22.4H128.7ZM136.4,30.0H144.2V38.1H136.4ZM144.0,45.6H151.8V53.7H144.0ZM144.0,53.4H151.8V61.5H144.0ZM144.0,61.2H151.8V69.3H144.0ZM151.7,76.8H159.4V84.9H151.7ZM82.9,84.6H90.7V92.7H82.9ZM189.9,84.6H197.7V92.7H189.9ZM174.6,100.2H190.0V108.3H174.6ZM197.5,108.0H205.3V116.0H197.5ZM258.6,154.5H274.0V162.6H258.6ZM273.9,162.3H281.7V170.3H273.9ZM266.3,170.0H281.7V178.0H266.3ZM266.3,177.7H274.0V185.8H266.3ZM266.3,185.5H281.7V193.5H266.3ZM266.3,193.2H274.0V201.2H266.3ZM258.6,208.6H266.4V216.6H258.6ZM266.3,216.3H274.0V224.3H266.3ZM258.6,224.0H281.7V232.0H258.6ZM258.6,231.7H274.0V239.7H258.6ZM266.3,247.1H274.0V255.0H266.3ZM243.3,254.7H251.1V262.7H243.3ZM258.6,254.7H266.4V262.7H258.6ZM243.3,262.4H258.8V270.4H243.3ZM235.7,270.1H243.5V278.0H235.7ZM82.9,277.7H90.7V285.7H82.9ZM235.7,277.7H243.5V285.7H235.7ZM228.1,285.4H235.8V293.3H228.1ZM128.7,293.0H136.5V301.0H128.7ZM182.2,293.0H190.0V301.0H182.2ZM197.5,293.0H220.6V301.0H197.5ZM82.9,300.7H90.7V308.6H82.9ZM151.7,300.7H159.4V308.6H151.7ZM174.6,300.7H190.0V308.6H174.6ZM75.3,308.3H83.0V316.3H75.3ZM67.6,316.0H75.4V323.9H67.6ZM67.6,323.6H75.4V331.5H67.6ZM60.0,331.2H67.8V339.2H60.0ZM44.7,354.1H52.5V362.0H44.7ZM37.1,361.7H44.8V369.6H37.1ZM6.5,369.3H14.3V377.2H6.5ZM14.1,376.9H21.9V384.8H14.1Z"/><path fill="#0020ff" d="M75.3,-0.1H90.7V6.8H75.3ZM98.2,-0.1H113.6V6.8H98.2ZM113.5,6.5H121.2V14.6H113.5ZM128.7,22.1H136.5V30.3H128.7ZM136.4,37.8H144.2V45.9H136.4ZM136.4,45.6H144.2V53.7H136.4ZM144.0,69.0H151.8V77.1H144.0ZM144.0,76.8H151.8V84.9H144.0ZM144.0,84.6H159.4V92.7H144.0ZM174.6,84.6H182.4V92.7H174.6ZM151.7,92.4H174.7V100.5H151.7ZM189.9,92.4H205.3V100.5H189.9ZM220.4,115.7H228.2V123.8H220.4ZM251.0,146.8H266.4V154.8H251.0ZM251.0,162.3H274.0V170.3H251.0ZM251.0,177.7H266.4V185.8H251.0ZM251.0,185.5H266.4V193.5H251.0ZM258.6,200.9H274.0V208.9H258.6ZM251.0,208.6H258.8V216.6H251.0ZM266.3,208.6H274.0V216.6H266.3ZM121.1,216.3H128.9V224.3H121.1ZM243.3,239.4H258.8V247.4H243.3ZM251.0,247.1H258.8V255.0H251.0ZM228.1,254.7H235.8V262.7H228.1ZM235.7,262.4H243.5V270.4H235.7ZM113.5,270.1H121.2V278.0H113.5ZM228.1,270.1H235.8V278.0H228.1ZM243.3,270.1H251.1V278.0H243.3ZM220.4,277.7H235.8V285.7H220.4ZM205.1,285.4H228.2V293.3H205.1ZM144.0,293.0H159.4V301.0H144.0ZM174.6,293.0H182.4V301.0H174.6ZM166.9,300.7H174.7V308.6H166.9ZM60.0,323.6H67.8V331.5H60.0ZM37.1,354.1H44.8V362.0H37.1ZM29.4,361.7H37.2V369.6H29.4ZM14.1,369.3H29.6V377.2H14.1Z"/><path fill="#0030ff" d="M90.5,-0.1H98.3V6.8H90.5ZM67.6,6.5H75.4V14.6H67.6ZM98.2,6.5H113.6V14.6H98.2ZM121.1,14.3H128.9V22.4H121.1ZM128.7,30.0H136.5V38.1H128.7ZM136.4,53.4H144.2V61.5H136.4ZM136.4,61.2H144.2V69.3H136.4ZM136.4,69.0H144.2V77.1H136.4ZM136.4,76.8H144.2V84.9H136.4ZM144.0,92.4H151.8V100.5H144.0ZM182.2,92.4H190.0V100.5H182.2ZM212.8,115.7H220.6V123.8H212.8ZM235.7,139.0H243.5V147.1H235.7ZM243.3,146.8H251.1V154.8H243.3ZM251.0,154.5H258.8V162.6H251.0ZM243.3,162.3H251.1V170.3H243.3ZM251.0,170.0H266.4V178.0H251.0ZM258.6,193.2H266.4V201.2H258.6ZM251.0,200.9H258.8V208.9H251.0ZM251.0,216.3H266.4V224.3H251.0ZM243.3,224.0H251.1V232.0H243.3ZM243.3,231.7H258.8V239.7H243.3ZM235.7,239.4H243.5V247.4H235.7ZM228.1,247.1H251.1V255.0H228.1ZM235.7,254.7H243.5V262.7H235.7ZM228.1,262.4H235.8V270.4H228.1ZM121.1,277.7H128.9V285.7H121.1ZM189.9,277.7H197.7V285.7H189.9ZM212.8,277.7H220.6V285.7H212.8ZM151.7,285.4H159.4V293.3H151.7ZM166.9,285.4H174.7V293.3H166.9ZM182.2,285.4H197.7V293.3H182.2ZM82.9,293.0H90.7V301.0H82.9ZM136.4,293.0H144.2V301.0H136.4ZM159.3,293.0H174.7V301.0H159.3ZM67.6,308.3H75.4V316.3H67.6ZM60.0,316.0H67.8V323.9H60.0ZM52.3,331.2H60.1V339.2H52.3ZM6.5,361.7H14.3V369.6H6.5Z"/><path fill="#0000ff" d="M113.5,-0.1H121.2V6.8H113.5ZM121.1,6.5H128.9V14.6H121.1ZM136.4,22.1H144.2V30.3H136.4ZM144.0,30.0H151.8V38.1H144.0ZM144.0,37.8H151.8V45.9H144.0ZM151.7,53.4H159.4V61.5H151.7ZM151.7,61.2H159.4V69.3H151.7ZM151.7,69.0H159.4V77.1H151.7ZM159.3,76.8H167.1V84.9H159.3ZM174.6,76.8H197.7V84.9H174.6ZM159.3,84.6H174.7V92.7H159.3ZM182.2,84.6H190.0V92.7H182.2ZM197.5,84.6H205.3V92.7H197.5ZM174.6,92.4H182.4V100.5H174.6ZM189.9,100.2H197.7V108.3H189.9ZM273.9,177.7H281.7V185.8H273.9ZM121.1,193.2H128.9V201.2H121.1ZM273.9,193.2H297.0V201.2H273.9ZM121.1,200.9H128.9V208.9H121.1ZM273.9,200.9H281.7V208.9H273.9ZM121.1,208.6H128.9V216.6H121.1ZM273.9,208.6H289.3V216.6H273.9ZM273.9,216.3H297.0V224.3H273.9ZM281.5,224.0H289.3V232.0H281.5ZM258.6,239.4H281.7V247.4H258.6ZM258.6,247.1H266.4V255.0H258.6ZM251.0,254.7H258.8V262.7H251.0ZM266.3,254.7H281.7V262.7H266.3ZM258.6,262.4H266.4V270.4H258.6ZM251.0,270.1H266.4V278.0H251.0ZM243.3,277.7H258.8V285.7H243.3ZM121.1,285.4H128.9V293.3H121.1ZM235.7,285.4H258.8V293.3H235.7ZM90.5,293.0H98.3V301.0H90.5ZM220.4,293.0H235.8V301.0H220.4ZM136.4,300.7H151.8V308.6H136.4ZM159.3,300.7H167.1V308.6H159.3ZM205.1,300.7H220.6V308.6H205.1ZM60.0,338.9H67.8V346.8H60.0ZM60.0,346.5H67.8V354.4H60.0ZM52.3,354.1H60.1V362.0H52.3ZM44.7,361.7H52.5V369.6H44.7ZM29.4,369.3H44.8V377.2H29.4ZM21.8,376.9H29.6V384.8H21.8Z"/><path fill="#0000ef" d="M121.1,-0.1H136.5V6.8H121.1ZM128.7,6.5H136.5V14.6H128.7ZM136.4,14.3H144.2V22.4H136.4ZM159.3,69.0H167.1V77.1H159.3ZM166.9,76.8H174.7V84.9H166.9ZM197.5,100.2H212.9V108.3H197.5ZM205.1,108.0H220.6V116.0H205.1ZM281.5,177.7H289.3V185.8H281.5ZM281.5,185.5H289.3V193.5H281.5ZM281.5,200.9H297.0V208.9H281.5ZM289.2,208.6H312.2V216.6H289.2ZM296.8,216.3H304.6V224.3H296.8ZM289.2,224.0H304.6V232.0H289.2ZM273.9,231.7H297.0V239.7H273.9ZM281.5,239.4H289.3V247.4H281.5ZM273.9,247.1H281.7V255.0H273.9ZM289.2,247.1H297.0V255.0H289.2ZM212.8,254.7H220.6V262.7H212.8ZM281.5,254.7H289.3V262.7H281.5ZM205.1,262.4H212.9V270.4H205.1ZM266.3,262.4H281.7V270.4H266.3ZM205.1,270.1H212.9V278.0H205.1ZM266.3,270.1H274.0V278.0H266.3ZM113.5,277.7H121.2V285.7H113.5ZM205.1,277.7H212.9V285.7H205.1ZM258.6,277.7H266.4V285.7H258.6ZM90.5,285.4H98.3V293.3H90.5ZM197.5,285.4H205.3V293.3H197.5ZM121.1,293.0H128.9V301.0H121.1ZM235.7,293.0H251.1V301.0H235.7ZM90.5,300.7H98.3V308.6H90.5ZM128.7,300.7H136.5V308.6H128.7ZM220.4,300.7H235.8V308.6H220.4ZM82.9,308.3H90.7V316.3H82.9ZM144.0,308.3H151.8V316.3H144.0ZM166.9,308.3H174.7V316.3H166.9ZM205.1,308.3H212.9V316.3H205.1ZM75.3,316.0H83.0V323.9H75.3ZM75.3,323.6H83.0V331.5H75.3ZM67.6,331.2H83.0V339.2H67.6ZM67.6,338.9H75.4V346.8H67.6ZM52.3,361.7H60.1V369.6H52.3ZM29.4,376.9H37.2V384.8H29.4ZM14.1,384.5H29.6V392.4H14.1Z"/><path fill="#0000cf" d="M136.4,-0.1H144.2V6.8H136.4ZM151.7,22.1H159.4V30.3H151.7ZM159.3,30.0H167.1V38.1H159.3ZM159.3,37.8H167.1V45.9H159.3ZM159.3,45.6H197.7V53.7H159.3ZM166.9,53.4H197.7V61.5H166.9ZM189.9,61.2H220.6V69.3H189.9ZM189.9,69.0H228.2V77.1H189.9ZM212.8,76.8H220.6V84.9H212.8ZM228.1,76.8H235.8V84.9H228.1ZM220.4,84.6H235.8V92.7H220.4ZM243.3,84.6H251.1V92.7H243.3ZM228.1,92.4H251.1V100.5H228.1ZM228.1,100.2H251.1V108.3H228.1ZM235.7,108.0H258.8V116.0H235.7ZM235.7,115.7H243.5V123.8H235.7ZM251.0,115.7H258.8V123.8H251.0ZM251.0,123.5H258.8V131.6H251.0ZM251.0,131.3H274.0V139.3H251.0ZM258.6,139.0H274.0V147.1H258.6ZM266.3,146.8H281.7V154.8H266.3ZM273.9,154.5H281.7V162.6H273.9ZM312.1,208.6H319.9V216.6H312.1ZM312.1,216.3H335.2V224.3H312.1ZM312.1,224.0H327.5V232.0H312.1ZM304.5,231.7H327.5V239.7H304.5ZM312.1,239.4H319.9V247.4H312.1ZM304.5,247.1H312.2V255.0H304.5ZM319.7,247.1H327.5V255.0H319.7ZM304.5,254.7H319.9V262.7H304.5ZM82.9,270.1H90.7V278.0H82.9ZM289.2,277.7H304.6V285.7H289.2ZM113.5,285.4H121.2V293.3H113.5ZM281.5,285.4H297.0V293.3H281.5ZM98.2,293.0H106.0V301.0H98.2ZM281.5,293.0H297.0V301.0H281.5ZM121.1,300.7H128.9V308.6H121.1ZM281.5,300.7H297.0V308.6H281.5ZM90.5,308.3H98.3V316.3H90.5ZM128.7,308.3H136.5V316.3H128.7ZM182.2,308.3H190.0V316.3H182.2ZM281.5,308.3H289.3V316.3H281.5ZM136.4,316.0H144.2V323.9H136.4ZM159.3,316.0H167.1V323.9H159.3ZM235.7,316.0H251.1V323.9H235.7ZM273.9,316.0H281.7V323.9H273.9ZM144.0,323.6H174.7V331.5H144.0ZM220.4,323.6H228.2V331.5H220.4ZM235.7,323.6H266.4V331.5H235.7ZM273.9,323.6H281.7V331.5H273.9ZM82.9,331.2H90.7V339.2H82.9ZM220.4,331.2H243.5V339.2H220.4ZM75.3,346.5H83.0V354.4H75.3ZM60.0,361.7H75.4V369.6H60.0ZM52.3,369.3H75.4V377.2H52.3ZM52.3,376.9H60.1V384.8H52.3ZM6.5,384.5H14.3V392.4H6.5ZM37.1,384.5H44.8V392.4H37.1ZM6.5,392.1H14.3V399.9H6.5ZM21.8,392.1H37.2V399.9H21.8Z"/><path fill="#0000af" d="M144.0,-0.1H167.1V6.8H144.0ZM174.6,-0.1H182.4V6.8H174.6ZM144.0,6.5H197.7V14.6H144.0ZM159.3,14.3H220.6V22.4H159.3ZM166.9,22.1H182.4V30.3H166.9ZM189.9,22.1H228.2V30.3H189.9ZM182.2,30.0H190.0V38.1H182.2ZM197.5,30.0H243.5V38.1H197.5ZM212.8,37.8H251.1V45.9H212.8ZM220.4,45.6H266.4V53.7H220.4ZM235.7,53.4H274.0V61.5H235.7ZM235.7,61.2H243.5V69.3H235.7ZM251.0,61.2H281.7V69.3H251.0ZM258.6,69.0H281.7V77.1H258.6ZM266.3,76.8H297.0V84.9H266.3ZM266.3,84.6H297.0V92.7H266.3ZM266.3,92.4H297.0V100.5H266.3ZM273.9,100.2H304.6V108.3H273.9ZM273.9,108.0H281.7V116.0H273.9ZM289.2,108.0H312.2V116.0H289.2ZM281.5,115.7H312.2V123.8H281.5ZM289.2,123.5H319.9V131.6H289.2ZM289.2,131.3H327.5V139.3H289.2ZM296.8,139.0H319.9V147.1H296.8ZM296.8,146.8H319.9V154.8H296.8ZM296.8,154.5H319.9V162.6H296.8ZM296.8,162.3H319.9V170.3H296.8ZM296.8,170.0H319.9V178.0H296.8ZM296.8,177.7H327.5V185.8H296.8ZM289.2,185.5H319.9V193.5H289.2ZM296.8,193.2H319.9V201.2H296.8ZM319.7,200.9H327.5V208.9H319.7ZM90.5,254.7H106.0V262.7H90.5ZM98.2,262.4H106.0V270.4H98.2ZM281.5,262.4H289.3V270.4H281.5ZM327.4,277.7H342.8V285.7H327.4ZM319.7,285.4H342.8V293.3H319.7ZM251.0,293.0H258.8V301.0H251.0ZM319.7,293.0H335.2V301.0H319.7ZM113.5,300.7H121.2V308.6H113.5ZM235.7,300.7H243.5V308.6H235.7ZM319.7,300.7H335.2V308.6H319.7ZM220.4,308.3H243.5V316.3H220.4ZM312.1,308.3H335.2V316.3H312.1ZM121.1,316.0H128.9V323.9H121.1ZM220.4,316.0H228.2V323.9H220.4ZM98.2,323.6H113.6V331.5H98.2ZM128.7,323.6H136.5V331.5H128.7ZM205.1,323.6H220.6V331.5H205.1ZM105.8,331.2H113.6V339.2H105.8ZM128.7,331.2H144.2V339.2H128.7ZM197.5,331.2H220.6V339.2H197.5ZM98.2,338.9H106.0V346.8H98.2ZM136.4,338.9H144.2V346.8H136.4ZM182.2,338.9H220.6V346.8H182.2ZM90.5,346.5H106.0V354.4H90.5ZM144.0,346.5H151.8V354.4H144.0ZM182.2,346.5H197.7V354.4H182.2ZM90.5,354.1H106.0V362.0H90.5ZM82.9,361.7H98.3V369.6H82.9ZM82.9,369.3H90.7V377.2H82.9ZM75.3,376.9H83.0V384.8H75.3ZM60.0,384.5H75.4V392.4H60.0ZM52.3,392.1H67.8V399.9H52.3ZM44.7,399.6H60.1V407.5H44.7ZM6.5,407.2H21.9V415.1H6.5ZM29.4,407.2H52.5V415.1H29.4ZM14.1,414.8H29.6V422.7H14.1Z"/><path fill="#00009f" d="M166.9,-0.1H174.7V6.8H166.9ZM182.2,-0.1H205.3V6.8H182.2ZM212.8,-0.1H281.7V6.8H212.8ZM289.2,-0.1H348.1V6.8H289.2ZM197.5,6.5H289.3V14.6H197.5ZM296.8,6.5H348.1V14.6H296.8ZM220.4,14.3H289.3V22.4H220.4ZM304.5,14.3H348.1V22.4H304.5ZM243.3,22.1H281.7V30.3H243.3ZM304.5,22.1H348.1V30.3H304.5ZM243.3,30.0H297.0V38.1H243.3ZM312.1,30.0H342.8V38.1H312.1ZM251.0,37.8H304.6V45.9H251.0ZM319.7,37.8H348.1V45.9H319.7ZM266.3,45.6H304.6V53.7H266.3ZM319.7,45.6H348.1V53.7H319.7ZM273.9,53.4H312.2V61.5H273.9ZM327.4,53.4H348.1V61.5H327.4ZM281.5,61.2H312.2V69.3H281.5ZM327.4,61.2H348.1V69.3H327.4ZM281.5,69.0H319.9V77.1H281.5ZM327.4,69.0H348.1V77.1H327.4ZM296.8,76.8H319.9V84.9H296.8ZM327.4,76.8H348.1V84.9H327.4ZM296.8,84.6H327.5V92.7H296.8ZM335.0,84.6H348.1V92.7H335.0ZM296.8,92.4H348.1V100.5H296.8ZM304.5,100.2H327.5V108.3H304.5ZM312.1,108.0H319.9V116.0H312.1ZM312.1,115.7H319.9V123.8H312.1ZM319.7,123.5H342.8V131.6H319.7ZM327.4,131.3H342.8V139.3H327.4ZM319.7,139.0H342.8V147.1H319.7ZM319.7,146.8H342.8V154.8H319.7ZM319.7,154.5H342.8V162.6H319.7ZM319.7,162.3H342.8V170.3H319.7ZM319.7,170.0H342.8V178.0H319.7ZM327.4,177.7H342.8V185.8H327.4ZM319.7,185.5H342.8V193.5H319.7ZM319.7,193.2H335.2V201.2H319.7ZM327.4,200.9H342.8V208.9H327.4ZM319.7,208.6H342.8V216.6H319.7ZM335.0,247.1H342.8V255.0H335.0ZM105.8,254.7H113.6V262.7H105.8ZM296.8,254.7H304.6V262.7H296.8ZM319.7,254.7H342.8V262.7H319.7ZM289.2,262.4H342.8V270.4H289.2ZM105.8,270.1H113.6V278.0H105.8ZM273.9,270.1H342.8V278.0H273.9ZM105.8,277.7H113.6V285.7H105.8ZM266.3,277.7H281.7V285.7H266.3ZM105.8,285.4H113.6V293.3H105.8ZM258.6,285.4H281.7V293.3H258.6ZM105.8,293.0H113.6V301.0H105.8ZM258.6,293.0H281.7V301.0H258.6ZM105.8,300.7H113.6V308.6H105.8ZM251.0,300.7H281.7V308.6H251.0ZM105.8,308.3H121.2V316.3H105.8ZM243.3,308.3H281.7V316.3H243.3ZM105.8,316.0H121.2V323.9H105.8ZM258.6,316.0H274.0V323.9H258.6ZM113.5,323.6H128.9V331.5H113.5ZM113.5,331.2H128.9V339.2H113.5ZM105.8,338.9H136.5V346.8H105.8ZM220.4,338.9H228.2V346.8H220.4ZM243.3,338.9H258.8V346.8H243.3ZM105.8,346.5H144.2V354.4H105.8ZM197.5,346.5H251.1V354.4H197.5ZM105.8,354.1H159.4V362.0H105.8ZM197.5,354.1H243.5V362.0H197.5ZM98.2,361.7H151.8V369.6H98.2ZM205.1,361.7H235.8V369.6H205.1ZM90.5,369.3H151.8V377.2H90.5ZM205.1,369.3H228.2V377.2H205.1ZM82.9,376.9H128.9V384.8H82.9ZM212.8,376.9H228.2V384.8H212.8ZM75.3,384.5H121.2V392.4H75.3ZM67.6,392.1H113.6V399.9H67.6ZM60.0,399.6H106.0V407.5H60.0ZM52.3,407.2H98.3V415.1H52.3ZM6.5,414.8H14.3V422.7H6.5ZM29.4,414.8H90.7V422.7H29.4ZM6.5,422.4H83.0V427.6H6.5Z"/><path fill="#00008f" d="M205.1,-0.1H212.9V6.8H205.1ZM281.5,-0.1H289.3V6.8H281.5ZM289.2,6.5H297.0V14.6H289.2ZM289.2,14.3H304.6V22.4H289.2ZM228.1,22.1H243.5V30.3H228.1ZM281.5,22.1H304.6V30.3H281.5ZM296.8,30.0H312.2V38.1H296.8ZM342.7,30.0H348.1V38.1H342.7ZM304.5,37.8H319.9V45.9H304.5ZM304.5,45.6H319.9V53.7H304.5ZM312.1,53.4H327.5V61.5H312.1ZM312.1,61.2H327.5V69.3H312.1ZM319.7,69.0H327.5V77.1H319.7ZM319.7,76.8H327.5V84.9H319.7ZM327.4,84.6H335.2V92.7H327.4ZM327.4,100.2H348.1V108.3H327.4ZM319.7,108.0H348.1V116.0H319.7ZM319.7,115.7H348.1V123.8H319.7ZM342.7,123.5H348.1V131.6H342.7ZM342.7,131.3H348.1V139.3H342.7ZM342.7,139.0H348.1V147.1H342.7ZM342.7,146.8H348.1V154.8H342.7ZM342.7,154.5H348.1V162.6H342.7ZM342.7,162.3H348.1V170.3H342.7ZM342.7,170.0H348.1V178.0H342.7ZM342.7,177.7H348.1V185.8H342.7ZM342.7,185.5H348.1V193.5H342.7ZM335.0,193.2H348.1V201.2H335.0ZM342.7,200.9H348.1V208.9H342.7ZM342.7,208.6H348.1V216.6H342.7ZM342.7,216.3H348.1V224.3H342.7ZM342.7,224.0H348.1V232.0H342.7ZM342.7,231.7H348.1V239.7H342.7ZM342.7,239.4H348.1V247.4H342.7ZM342.7,247.1H348.1V255.0H342.7ZM342.7,254.7H348.1V262.7H342.7ZM342.7,262.4H348.1V270.4H342.7ZM98.2,270.1H106.0V278.0H98.2ZM342.7,270.1H348.1V278.0H342.7ZM342.7,277.7H348.1V285.7H342.7ZM342.7,285.4H348.1V293.3H342.7ZM335.0,293.0H348.1V301.0H335.0ZM189.9,300.7H205.3V308.6H189.9ZM304.5,300.7H312.2V308.6H304.5ZM335.0,300.7H348.1V308.6H335.0ZM189.9,308.3H205.3V316.3H189.9ZM304.5,308.3H312.2V316.3H304.5ZM335.0,308.3H348.1V316.3H335.0ZM82.9,316.0H98.3V323.9H82.9ZM151.7,316.0H159.4V323.9H151.7ZM189.9,316.0H205.3V323.9H189.9ZM296.8,316.0H348.1V323.9H296.8ZM90.5,323.6H98.3V331.5H90.5ZM189.9,323.6H197.7V331.5H189.9ZM289.2,323.6H348.1V331.5H289.2ZM90.5,331.2H98.3V339.2H90.5ZM159.3,331.2H167.1V339.2H159.3ZM281.5,331.2H348.1V339.2H281.5ZM52.3,338.9H60.1V346.8H52.3ZM144.0,338.9H174.7V346.8H144.0ZM258.6,338.9H348.1V346.8H258.6ZM44.7,346.5H60.1V354.4H44.7ZM82.9,346.5H90.7V354.4H82.9ZM151.7,346.5H182.4V354.4H151.7ZM251.0,346.5H348.1V354.4H251.0ZM75.3,354.1H83.0V362.0H75.3ZM159.3,354.1H197.7V362.0H159.3ZM243.3,354.1H348.1V362.0H243.3ZM151.7,361.7H205.3V369.6H151.7ZM235.7,361.7H348.1V369.6H235.7ZM151.7,369.3H205.3V377.2H151.7ZM228.1,369.3H348.1V377.2H228.1ZM128.7,376.9H212.9V384.8H128.7ZM228.1,376.9H348.1V384.8H228.1ZM121.1,384.5H348.1V392.4H121.1ZM113.5,392.1H348.1V399.9H113.5ZM105.8,399.6H348.1V407.5H105.8ZM98.2,407.2H348.1V415.1H98.2ZM90.5,414.8H348.1V422.7H90.5ZM82.9,422.4H348.1V427.6H82.9Z"/><path fill="#0040ff" d="M75.3,6.5H83.0V14.6H75.3ZM105.8,14.3H113.6V22.4H105.8ZM121.1,22.1H128.9V30.3H121.1ZM128.7,37.8H136.5V45.9H128.7ZM128.7,45.6H136.5V53.7H128.7ZM128.7,69.0H136.5V77.1H128.7ZM128.7,76.8H136.5V84.9H128.7ZM136.4,84.6H144.2V92.7H136.4ZM90.5,92.4H98.3V100.5H90.5ZM136.4,92.4H144.2V100.5H136.4ZM98.2,100.2H106.0V108.3H98.2ZM159.3,100.2H174.7V108.3H159.3ZM98.2,108.0H106.0V116.0H98.2ZM174.6,108.0H182.4V116.0H174.6ZM189.9,108.0H197.7V116.0H189.9ZM220.4,123.5H235.8V131.6H220.4ZM228.1,131.3H243.5V139.3H228.1ZM228.1,139.0H235.8V147.1H228.1ZM243.3,139.0H251.1V147.1H243.3ZM235.7,146.8H243.5V154.8H235.7ZM243.3,154.5H251.1V162.6H243.3ZM235.7,170.0H243.5V178.0H235.7ZM243.3,185.5H251.1V193.5H243.3ZM235.7,193.2H258.8V201.2H235.7ZM243.3,200.9H251.1V208.9H243.3ZM243.3,208.6H251.1V216.6H243.3ZM235.7,216.3H251.1V224.3H235.7ZM228.1,224.0H243.5V232.0H228.1ZM251.0,224.0H258.8V232.0H251.0ZM182.2,231.7H190.0V239.7H182.2ZM228.1,231.7H235.8V239.7H228.1ZM220.4,254.7H228.2V262.7H220.4ZM75.3,270.1H83.0V278.0H75.3ZM212.8,270.1H228.2V278.0H212.8ZM166.9,277.7H174.7V285.7H166.9ZM182.2,277.7H190.0V285.7H182.2ZM128.7,285.4H144.2V293.3H128.7ZM159.3,285.4H167.1V293.3H159.3ZM174.6,285.4H182.4V293.3H174.6ZM44.7,338.9H52.5V346.8H44.7Z"/><path fill="#0050ff" d="M82.9,6.5H98.3V14.6H82.9ZM75.3,14.3H83.0V22.4H75.3ZM113.5,14.3H121.2V22.4H113.5ZM121.1,30.0H128.9V38.1H121.1ZM128.7,61.2H136.5V69.3H128.7ZM128.7,84.6H136.5V92.7H128.7ZM144.0,100.2H151.8V108.3H144.0ZM166.9,108.0H174.7V116.0H166.9ZM189.9,115.7H212.9V123.8H189.9ZM212.8,131.3H228.2V139.3H212.8ZM220.4,139.0H228.2V147.1H220.4ZM220.4,146.8H235.8V154.8H220.4ZM235.7,154.5H243.5V162.6H235.7ZM235.7,162.3H243.5V170.3H235.7ZM243.3,170.0H251.1V178.0H243.3ZM235.7,177.7H251.1V185.8H235.7ZM121.1,185.5H128.9V193.5H121.1ZM228.1,200.9H243.5V208.9H228.1ZM228.1,216.3H235.8V224.3H228.1ZM220.4,224.0H228.2V232.0H220.4ZM235.7,231.7H243.5V239.7H235.7ZM182.2,239.4H190.0V247.4H182.2ZM220.4,239.4H228.2V247.4H220.4ZM182.2,247.1H190.0V255.0H182.2ZM205.1,254.7H212.9V262.7H205.1ZM189.9,262.4H197.7V270.4H189.9ZM220.4,262.4H228.2V270.4H220.4ZM182.2,270.1H205.3V278.0H182.2ZM174.6,277.7H182.4V285.7H174.6ZM82.9,285.4H90.7V293.3H82.9ZM144.0,285.4H151.8V293.3H144.0ZM75.3,300.7H83.0V308.6H75.3ZM37.1,346.5H44.8V354.4H37.1ZM29.4,354.1H37.2V362.0H29.4ZM14.1,361.7H29.6V369.6H14.1Z"/><path fill="#0000df" d="M136.4,6.5H144.2V14.6H136.4ZM144.0,14.3H151.8V22.4H144.0ZM144.0,22.1H151.8V30.3H144.0ZM151.7,30.0H159.4V38.1H151.7ZM151.7,37.8H159.4V45.9H151.7ZM151.7,45.6H159.4V53.7H151.7ZM159.3,53.4H167.1V61.5H159.3ZM159.3,61.2H190.0V69.3H159.3ZM166.9,69.0H190.0V77.1H166.9ZM197.5,76.8H212.9V84.9H197.5ZM205.1,84.6H220.6V92.7H205.1ZM205.1,92.4H228.2V100.5H205.1ZM212.8,100.2H228.2V108.3H212.8ZM220.4,108.0H235.8V116.0H220.4ZM228.1,115.7H235.8V123.8H228.1ZM243.3,115.7H251.1V123.8H243.3ZM235.7,123.5H251.1V131.6H235.7ZM243.3,131.3H251.1V139.3H243.3ZM251.0,139.0H258.8V147.1H251.0ZM296.8,200.9H319.9V208.9H296.8ZM304.5,216.3H312.2V224.3H304.5ZM304.5,224.0H312.2V232.0H304.5ZM296.8,231.7H304.6V239.7H296.8ZM289.2,239.4H312.2V247.4H289.2ZM281.5,247.1H289.3V255.0H281.5ZM296.8,247.1H304.6V255.0H296.8ZM289.2,254.7H297.0V262.7H289.2ZM212.8,262.4H220.6V270.4H212.8ZM90.5,277.7H98.3V285.7H90.5ZM197.5,277.7H205.3V285.7H197.5ZM281.5,277.7H289.3V285.7H281.5ZM189.9,293.0H197.7V301.0H189.9ZM243.3,300.7H251.1V308.6H243.3ZM136.4,308.3H144.2V316.3H136.4ZM151.7,308.3H167.1V316.3H151.7ZM174.6,308.3H182.4V316.3H174.6ZM144.0,316.0H151.8V323.9H144.0ZM166.9,316.0H182.4V323.9H166.9ZM228.1,316.0H235.8V323.9H228.1ZM251.0,316.0H258.8V323.9H251.0ZM82.9,323.6H90.7V331.5H82.9ZM228.1,323.6H235.8V331.5H228.1ZM75.3,338.9H83.0V346.8H75.3ZM67.6,346.5H75.4V354.4H67.6ZM60.0,354.1H75.4V362.0H60.0ZM44.7,369.3H52.5V377.2H44.7ZM6.5,376.9H14.3V384.8H6.5ZM37.1,376.9H52.5V384.8H37.1ZM29.4,384.5H37.2V392.4H29.4ZM14.1,392.1H21.9V399.9H14.1Z"/><path fill="#0060ff" d="M82.9,14.3H90.7V22.4H82.9ZM128.7,53.4H136.5V61.5H128.7ZM82.9,76.8H90.7V84.9H82.9ZM90.5,84.6H98.3V92.7H90.5ZM121.1,84.6H128.9V92.7H121.1ZM98.2,92.4H106.0V100.5H98.2ZM128.7,92.4H136.5V100.5H128.7ZM136.4,100.2H144.2V108.3H136.4ZM151.7,100.2H159.4V108.3H151.7ZM159.3,108.0H167.1V116.0H159.3ZM182.2,108.0H190.0V116.0H182.2ZM189.9,123.5H197.7V131.6H189.9ZM205.1,123.5H220.6V131.6H205.1ZM197.5,131.3H205.3V139.3H197.5ZM212.8,146.8H220.6V154.8H212.8ZM228.1,154.5H235.8V162.6H228.1ZM220.4,162.3H235.8V170.3H220.4ZM228.1,177.7H235.8V185.8H228.1ZM228.1,185.5H243.5V193.5H228.1ZM228.1,193.2H235.8V201.2H228.1ZM220.4,208.6H243.5V216.6H220.4ZM212.8,231.7H228.2V239.7H212.8ZM212.8,239.4H220.6V247.4H212.8ZM228.1,239.4H235.8V247.4H228.1ZM212.8,247.1H228.2V255.0H212.8ZM166.9,254.7H182.4V262.7H166.9ZM166.9,262.4H174.7V270.4H166.9ZM182.2,262.4H190.0V270.4H182.2ZM151.7,270.1H174.7V278.0H151.7ZM136.4,277.7H144.2V285.7H136.4ZM151.7,277.7H159.4V285.7H151.7ZM52.3,316.0H60.1V323.9H52.3ZM52.3,323.6H60.1V331.5H52.3ZM44.7,331.2H52.5V339.2H44.7ZM6.5,354.1H14.3V362.0H6.5Z"/><path fill="#0070ff" d="M90.5,14.3H106.0V22.4H90.5ZM75.3,22.1H83.0V30.3H75.3ZM113.5,22.1H121.2V30.3H113.5ZM121.1,37.8H128.9V45.9H121.1ZM121.1,61.2H128.9V69.3H121.1ZM121.1,76.8H128.9V84.9H121.1ZM128.7,108.0H136.5V116.0H128.7ZM151.7,108.0H159.4V116.0H151.7ZM98.2,115.7H106.0V123.8H98.2ZM174.6,115.7H190.0V123.8H174.6ZM197.5,123.5H205.3V131.6H197.5ZM205.1,131.3H212.9V139.3H205.1ZM205.1,139.0H220.6V147.1H205.1ZM205.1,146.8H212.9V154.8H205.1ZM220.4,154.5H228.2V162.6H220.4ZM228.1,170.0H235.8V178.0H228.1ZM220.4,177.7H228.2V185.8H220.4ZM220.4,185.5H228.2V193.5H220.4ZM220.4,193.2H228.2V201.2H220.4ZM128.7,200.9H136.5V208.9H128.7ZM220.4,216.3H228.2V224.3H220.4ZM205.1,239.4H212.9V247.4H205.1ZM174.6,247.1H182.4V255.0H174.6ZM197.5,247.1H212.9V255.0H197.5ZM197.5,254.7H205.3V262.7H197.5ZM159.3,262.4H167.1V270.4H159.3ZM197.5,262.4H205.3V270.4H197.5ZM174.6,270.1H182.4V278.0H174.6ZM75.3,277.7H83.0V285.7H75.3ZM144.0,277.7H151.8V285.7H144.0ZM159.3,277.7H167.1V285.7H159.3ZM75.3,293.0H83.0V301.0H75.3ZM60.0,308.3H67.8V316.3H60.0ZM21.8,354.1H29.6V362.0H21.8Z"/><path fill="#0000bf" d="M151.7,14.3H159.4V22.4H151.7ZM159.3,22.1H167.1V30.3H159.3ZM182.2,22.1H190.0V30.3H182.2ZM166.9,30.0H182.4V38.1H166.9ZM189.9,30.0H197.7V38.1H189.9ZM166.9,37.8H212.9V45.9H166.9ZM197.5,45.6H220.6V53.7H197.5ZM197.5,53.4H235.8V61.5H197.5ZM220.4,61.2H235.8V69.3H220.4ZM243.3,61.2H251.1V69.3H243.3ZM228.1,69.0H258.8V77.1H228.1ZM220.4,76.8H228.2V84.9H220.4ZM235.7,76.8H266.4V84.9H235.7ZM235.7,84.6H243.5V92.7H235.7ZM251.0,84.6H266.4V92.7H251.0ZM251.0,92.4H266.4V100.5H251.0ZM251.0,100.2H274.0V108.3H251.0ZM258.6,108.0H274.0V116.0H258.6ZM281.5,108.0H289.3V116.0H281.5ZM258.6,115.7H281.7V123.8H258.6ZM258.6,123.5H289.3V131.6H258.6ZM273.9,131.3H289.3V139.3H273.9ZM273.9,139.0H297.0V147.1H273.9ZM281.5,146.8H297.0V154.8H281.5ZM281.5,154.5H297.0V162.6H281.5ZM281.5,162.3H297.0V170.3H281.5ZM281.5,170.0H297.0V178.0H281.5ZM289.2,177.7H297.0V185.8H289.2ZM335.0,216.3H342.8V224.3H335.0ZM327.4,224.0H342.8V232.0H327.4ZM327.4,231.7H342.8V239.7H327.4ZM319.7,239.4H342.8V247.4H319.7ZM312.1,247.1H319.9V255.0H312.1ZM327.4,247.1H335.2V255.0H327.4ZM82.9,262.4H98.3V270.4H82.9ZM90.5,270.1H98.3V278.0H90.5ZM98.2,277.7H106.0V285.7H98.2ZM304.5,277.7H327.5V285.7H304.5ZM98.2,285.4H106.0V293.3H98.2ZM296.8,285.4H319.9V293.3H296.8ZM113.5,293.0H121.2V301.0H113.5ZM296.8,293.0H319.9V301.0H296.8ZM98.2,300.7H106.0V308.6H98.2ZM296.8,300.7H304.6V308.6H296.8ZM312.1,300.7H319.9V308.6H312.1ZM98.2,308.3H106.0V316.3H98.2ZM121.1,308.3H128.9V316.3H121.1ZM212.8,308.3H220.6V316.3H212.8ZM289.2,308.3H304.6V316.3H289.2ZM98.2,316.0H106.0V323.9H98.2ZM128.7,316.0H136.5V323.9H128.7ZM182.2,316.0H190.0V323.9H182.2ZM205.1,316.0H220.6V323.9H205.1ZM281.5,316.0H297.0V323.9H281.5ZM136.4,323.6H144.2V331.5H136.4ZM174.6,323.6H190.0V331.5H174.6ZM197.5,323.6H205.3V331.5H197.5ZM266.3,323.6H274.0V331.5H266.3ZM281.5,323.6H289.3V331.5H281.5ZM98.2,331.2H106.0V339.2H98.2ZM144.0,331.2H159.4V339.2H144.0ZM166.9,331.2H197.7V339.2H166.9ZM243.3,331.2H281.7V339.2H243.3ZM82.9,338.9H98.3V346.8H82.9ZM174.6,338.9H182.4V346.8H174.6ZM228.1,338.9H243.5V346.8H228.1ZM82.9,354.1H90.7V362.0H82.9ZM75.3,361.7H83.0V369.6H75.3ZM75.3,369.3H83.0V377.2H75.3ZM60.0,376.9H75.4V384.8H60.0ZM44.7,384.5H60.1V392.4H44.7ZM37.1,392.1H52.5V399.9H37.1ZM6.5,399.6H44.8V407.5H6.5ZM21.8,407.2H29.6V415.1H21.8Z"/><path fill="#009fff" d="M82.9,22.1H90.7V30.3H82.9ZM105.8,30.0H113.6V38.1H105.8ZM113.5,45.6H121.2V53.7H113.5ZM121.1,100.2H128.9V108.3H121.1ZM121.1,108.0H128.9V116.0H121.1ZM144.0,115.7H151.8V123.8H144.0ZM174.6,131.3H190.0V139.3H174.6ZM174.6,139.0H182.4V147.1H174.6ZM189.9,154.5H197.7V162.6H189.9ZM197.5,162.3H212.9V170.3H197.5ZM197.5,177.7H205.3V185.8H197.5ZM197.5,193.2H205.3V201.2H197.5ZM212.8,193.2H220.6V201.2H212.8ZM205.1,200.9H220.6V208.9H205.1ZM197.5,231.7H212.9V239.7H197.5ZM182.2,254.7H190.0V262.7H182.2ZM44.7,285.4H52.5V293.3H44.7ZM44.7,293.0H52.5V301.0H44.7ZM37.1,300.7H44.8V308.6H37.1ZM60.0,300.7H67.8V308.6H60.0ZM37.1,308.3H44.8V316.3H37.1ZM52.3,308.3H60.1V316.3H52.3ZM44.7,316.0H52.5V323.9H44.7ZM44.7,323.6H52.5V331.5H44.7ZM21.8,346.5H29.6V354.4H21.8Z"/><path fill="#00afff" d="M90.5,22.1H98.3V30.3H90.5ZM113.5,53.4H121.2V61.5H113.5ZM113.5,69.0H121.2V77.1H113.5ZM98.2,76.8H106.0V84.9H98.2ZM105.8,92.4H113.6V100.5H105.8ZM105.8,100.2H113.6V108.3H105.8ZM121.1,115.7H128.9V123.8H121.1ZM136.4,115.7H144.2V123.8H136.4ZM151.7,123.5H167.1V131.6H151.7ZM159.3,131.3H167.1V139.3H159.3ZM197.5,154.5H205.3V162.6H197.5ZM189.9,162.3H197.7V170.3H189.9ZM189.9,177.7H197.7V185.8H189.9ZM205.1,185.5H212.9V193.5H205.1ZM189.9,216.3H205.3V224.3H189.9ZM121.1,224.0H128.9V232.0H121.1ZM197.5,224.0H205.3V232.0H197.5ZM136.4,270.1H144.2V278.0H136.4ZM44.7,308.3H52.5V316.3H44.7ZM6.5,338.9H14.3V346.8H6.5Z"/><path fill="#0080ff" d="M98.2,22.1H113.6V30.3H98.2ZM113.5,76.8H121.2V84.9H113.5ZM121.1,92.4H128.9V100.5H121.1ZM128.7,100.2H136.5V108.3H128.7ZM136.4,108.0H144.2V116.0H136.4ZM159.3,115.7H174.7V123.8H159.3ZM182.2,123.5H190.0V131.6H182.2ZM189.9,139.0H197.7V147.1H189.9ZM205.1,170.0H228.2V178.0H205.1ZM205.1,177.7H220.6V185.8H205.1ZM205.1,216.3H220.6V224.3H205.1ZM205.1,224.0H220.6V232.0H205.1ZM174.6,239.4H182.4V247.4H174.6ZM166.9,247.1H174.7V255.0H166.9ZM174.6,262.4H182.4V270.4H174.6ZM128.7,277.7H136.5V285.7H128.7ZM29.4,346.5H37.2V354.4H29.4Z"/><path fill="#00dfff" d="M75.3,30.0H83.0V38.1H75.3ZM98.2,30.0H106.0V38.1H98.2ZM82.9,69.0H90.7V77.1H82.9ZM98.2,69.0H106.0V77.1H98.2ZM136.4,123.5H151.8V131.6H136.4ZM182.2,154.5H190.0V162.6H182.2ZM182.2,185.5H190.0V193.5H182.2ZM182.2,193.2H190.0V201.2H182.2ZM128.7,216.3H136.5V224.3H128.7ZM182.2,224.0H190.0V232.0H182.2ZM166.9,239.4H174.7V247.4H166.9ZM144.0,262.4H151.8V270.4H144.0ZM52.3,285.4H60.1V293.3H52.3ZM37.1,323.6H44.8V331.5H37.1ZM29.4,338.9H37.2V346.8H29.4ZM14.1,346.5H21.9V354.4H14.1Z"/><path fill="#00ffff" d="M82.9,30.0H98.3V38.1H82.9ZM90.5,69.0H98.3V77.1H90.5ZM105.8,123.5H113.6V131.6H105.8ZM128.7,123.5H136.5V131.6H128.7ZM144.0,131.3H151.8V139.3H144.0ZM151.7,139.0H167.1V147.1H151.7ZM159.3,154.5H167.1V162.6H159.3ZM166.9,162.3H174.7V170.3H166.9ZM159.3,170.0H182.4V178.0H159.3ZM174.6,185.5H182.4V193.5H174.6ZM174.6,193.2H182.4V201.2H174.6ZM136.4,200.9H144.2V208.9H136.4ZM166.9,208.6H174.7V216.6H166.9ZM182.2,216.3H190.0V224.3H182.2ZM60.0,277.7H67.8V285.7H60.0Z"/><path fill="#008fff" d="M113.5,30.0H121.2V38.1H113.5ZM113.5,37.8H121.2V45.9H113.5ZM121.1,45.6H128.9V53.7H121.1ZM121.1,53.4H128.9V61.5H121.1ZM121.1,69.0H128.9V77.1H121.1ZM90.5,76.8H98.3V84.9H90.5ZM105.8,76.8H113.6V84.9H105.8ZM98.2,84.6H121.2V92.7H98.2ZM113.5,92.4H121.2V100.5H113.5ZM113.5,100.2H121.2V108.3H113.5ZM105.8,108.0H113.6V116.0H105.8ZM144.0,108.0H151.8V116.0H144.0ZM128.7,115.7H136.5V123.8H128.7ZM151.7,115.7H159.4V123.8H151.7ZM166.9,123.5H182.4V131.6H166.9ZM166.9,131.3H174.7V139.3H166.9ZM189.9,131.3H197.7V139.3H189.9ZM182.2,139.0H190.0V147.1H182.2ZM197.5,139.0H205.3V147.1H197.5ZM189.9,146.8H205.3V154.8H189.9ZM205.1,154.5H220.6V162.6H205.1ZM212.8,162.3H220.6V170.3H212.8ZM212.8,185.5H220.6V193.5H212.8ZM128.7,193.2H136.5V201.2H128.7ZM205.1,193.2H212.9V201.2H205.1ZM220.4,200.9H228.2V208.9H220.4ZM128.7,208.6H136.5V216.6H128.7ZM205.1,208.6H220.6V216.6H205.1ZM197.5,239.4H205.3V247.4H197.5ZM189.9,247.1H197.7V255.0H189.9ZM159.3,254.7H167.1V262.7H159.3ZM189.9,254.7H197.7V262.7H189.9ZM121.1,270.1H128.9V278.0H121.1ZM144.0,270.1H151.8V278.0H144.0ZM75.3,285.4H83.0V293.3H75.3ZM44.7,300.7H60.1V308.6H44.7ZM67.6,300.7H75.4V308.6H67.6ZM37.1,338.9H44.8V346.8H37.1ZM6.5,346.5H14.3V354.4H6.5ZM14.1,354.1H21.9V362.0H14.1Z"/><path fill="#30ffcf" d="M75.3,37.8H83.0V45.9H75.3ZM98.2,37.8H106.0V45.9H98.2ZM105.8,53.4H113.6V61.5H105.8ZM144.0,139.0H151.8V147.1H144.0ZM151.7,146.8H159.4V154.8H151.7ZM159.3,162.3H167.1V170.3H159.3ZM136.4,170.0H144.2V178.0H136.4ZM128.7,177.7H136.5V185.8H128.7ZM144.0,216.3H151.8V224.3H144.0ZM166.9,216.3H174.7V224.3H166.9ZM105.8,262.4H113.6V270.4H105.8ZM21.8,316.0H29.6V323.9H21.8ZM21.8,338.9H29.6V346.8H21.8Z"/><path fill="#60ff9f" d="M82.9,37.8H90.7V45.9H82.9ZM98.2,45.6H106.0V53.7H98.2ZM98.2,53.4H106.0V61.5H98.2ZM82.9,61.2H90.7V69.3H82.9ZM144.0,146.8H151.8V154.8H144.0ZM136.4,162.3H144.2V170.3H136.4ZM144.0,200.9H151.8V208.9H144.0ZM14.1,323.6H21.9V331.5H14.1Z"/><path fill="#70ff8f" d="M90.5,37.8H98.3V45.9H90.5ZM90.5,61.2H98.3V69.3H90.5ZM105.8,131.3H113.6V139.3H105.8ZM128.7,131.3H136.5V139.3H128.7ZM144.0,154.5H151.8V162.6H144.0ZM144.0,162.3H151.8V170.3H144.0ZM159.3,208.6H167.1V216.6H159.3ZM136.4,216.3H144.2V224.3H136.4ZM151.7,216.3H159.4V224.3H151.7ZM144.0,254.7H151.8V262.7H144.0ZM128.7,262.4H136.5V270.4H128.7Z"/><path fill="#00efff" d="M105.8,37.8H113.6V45.9H105.8ZM105.8,45.6H113.6V53.7H105.8ZM113.5,115.7H121.2V123.8H113.5ZM121.1,123.5H128.9V131.6H121.1ZM159.3,146.8H167.1V154.8H159.3ZM182.2,170.0H190.0V178.0H182.2ZM136.4,185.5H144.2V193.5H136.4ZM136.4,208.6H144.2V216.6H136.4ZM174.6,208.6H190.0V216.6H174.6ZM174.6,224.0H182.4V232.0H174.6ZM151.7,254.7H159.4V262.7H151.7ZM67.6,277.7H75.4V285.7H67.6ZM52.3,293.0H60.1V301.0H52.3ZM67.6,293.0H75.4V301.0H67.6Z"/><path fill="#bfff40" d="M82.9,45.6H90.7V53.7H82.9ZM121.1,131.3H128.9V139.3H121.1ZM136.4,146.8H144.2V154.8H136.4ZM136.4,231.7H144.2V239.7H136.4ZM144.0,247.1H151.8V255.0H144.0Z"/><path fill="#ffdf00" d="M90.5,45.6H98.3V53.7H90.5ZM128.7,146.8H136.5V154.8H128.7ZM128.7,231.7H136.5V239.7H128.7Z"/><path fill="#ffff00" d="M82.9,53.4H90.7V61.5H82.9ZM128.7,139.0H136.5V147.1H128.7ZM121.1,162.3H128.9V170.3H121.1ZM21.8,323.6H29.6V331.5H21.8Z"/><path fill="#ffef00" d="M90.5,53.4H98.3V61.5H90.5ZM121.1,139.0H128.9V147.1H121.1Z"/><path fill="#40ffbf" d="M98.2,61.2H106.0V69.3H98.2ZM136.4,139.0H144.2V147.1H136.4ZM151.7,154.5H159.4V162.6H151.7ZM151.7,162.3H159.4V170.3H151.7ZM121.1,170.0H136.5V178.0H121.1ZM151.7,170.0H159.4V178.0H151.7ZM136.4,177.7H144.2V185.8H136.4ZM151.7,177.7H159.4V185.8H151.7ZM166.9,177.7H174.7V185.8H166.9ZM166.9,185.5H174.7V193.5H166.9ZM144.0,193.2H159.4V201.2H144.0ZM159.3,200.9H167.1V208.9H159.3ZM144.0,208.6H151.8V216.6H144.0ZM159.3,216.3H167.1V224.3H159.3ZM166.9,224.0H174.7V232.0H166.9ZM151.7,231.7H159.4V239.7H151.7ZM14.1,338.9H21.9V346.8H14.1Z"/><path fill="#00cfff" d="M105.8,61.2H113.6V69.3H105.8ZM105.8,115.7H113.6V123.8H105.8ZM151.7,131.3H159.4V139.3H151.7ZM174.6,146.8H182.4V154.8H174.6ZM174.6,154.5H182.4V162.6H174.6ZM182.2,162.3H190.0V170.3H182.2ZM189.9,170.0H197.7V178.0H189.9ZM121.1,177.7H128.9V185.8H121.1ZM189.9,185.5H197.7V193.5H189.9ZM136.4,193.2H144.2V201.2H136.4ZM189.9,193.2H197.7V201.2H189.9ZM197.5,200.9H205.3V208.9H197.5ZM174.6,231.7H182.4V239.7H174.6ZM189.9,231.7H197.7V239.7H189.9ZM189.9,239.4H197.7V247.4H189.9ZM128.7,270.1H136.5V278.0H128.7ZM37.1,316.0H44.8V323.9H37.1ZM37.1,331.2H44.8V339.2H37.1Z"/><path fill="#00bfff" d="M113.5,61.2H121.2V69.3H113.5ZM105.8,69.0H113.6V77.1H105.8ZM113.5,108.0H121.2V116.0H113.5ZM166.9,139.0H174.7V147.1H166.9ZM166.9,146.8H174.7V154.8H166.9ZM182.2,146.8H190.0V154.8H182.2ZM197.5,170.0H205.3V178.0H197.5ZM128.7,185.5H136.5V193.5H128.7ZM197.5,185.5H205.3V193.5H197.5ZM189.9,200.9H197.7V208.9H189.9ZM189.9,208.6H205.3V216.6H189.9ZM189.9,224.0H197.7V232.0H189.9ZM151.7,262.4H159.4V270.4H151.7ZM52.3,277.7H60.1V285.7H52.3ZM29.4,308.3H37.2V316.3H29.4ZM6.5,331.2H14.3V339.2H6.5Z"/><path fill="#10ffef" d="M113.5,123.5H121.2V131.6H113.5ZM136.4,131.3H144.2V139.3H136.4ZM166.9,154.5H174.7V162.6H166.9ZM174.6,162.3H182.4V170.3H174.6ZM174.6,177.7H190.0V185.8H174.6ZM159.3,193.2H174.7V201.2H159.3ZM182.2,200.9H190.0V208.9H182.2ZM174.6,216.3H182.4V224.3H174.6ZM159.3,247.1H167.1V255.0H159.3ZM136.4,262.4H144.2V270.4H136.4ZM67.6,285.4H75.4V293.3H67.6ZM60.0,293.0H67.8V301.0H60.0ZM29.4,331.2H37.2V339.2H29.4Z"/><path fill="#dfff20" d="M113.5,131.3H121.2V139.3H113.5Z"/><path fill="#af0000" d="M113.5,139.0H121.2V147.1H113.5ZM113.5,146.8H121.2V154.8H113.5Z"/><path fill="#ff6000" d="M121.1,146.8H128.9V154.8H121.1ZM113.5,154.5H121.2V162.6H113.5Z"/><path fill="#ffcf00" d="M121.1,154.5H128.9V162.6H121.1ZM113.5,162.3H121.2V170.3H113.5ZM136.4,247.1H144.2V255.0H136.4Z"/><path fill="#efff10" d="M128.7,154.5H136.5V162.6H128.7ZM136.4,239.4H144.2V247.4H136.4ZM121.1,262.4H128.9V270.4H121.1Z"/><path fill="#afff50" d="M136.4,154.5H144.2V162.6H136.4ZM128.7,162.3H136.5V170.3H128.7ZM144.0,224.0H151.8V232.0H144.0Z"/><path fill="#50ffaf" d="M144.0,170.0H151.8V178.0H144.0ZM144.0,177.7H151.8V185.8H144.0ZM159.3,177.7H167.1V185.8H159.3ZM159.3,185.5H167.1V193.5H159.3ZM166.9,200.9H174.7V208.9H166.9ZM151.7,224.0H167.1V232.0H151.7ZM159.3,231.7H167.1V239.7H159.3ZM151.7,239.4H159.4V247.4H151.7ZM151.7,247.1H159.4V255.0H151.7ZM60.0,285.4H67.8V293.3H60.0Z"/><path fill="#20ffdf" d="M144.0,185.5H159.4V193.5H144.0ZM174.6,200.9H182.4V208.9H174.6ZM166.9,231.7H174.7V239.7H166.9ZM159.3,239.4H167.1V247.4H159.3ZM29.4,316.0H37.2V323.9H29.4Z"/><path fill="#80ff80" d="M151.7,200.9H159.4V208.9H151.7ZM151.7,208.6H159.4V216.6H151.7ZM144.0,231.7H151.8V239.7H144.0ZM113.5,262.4H121.2V270.4H113.5ZM14.1,331.2H21.9V339.2H14.1Z"/><path fill="#8fff70" d="M128.7,224.0H144.2V232.0H128.7ZM136.4,254.7H144.2V262.7H136.4ZM29.4,323.6H37.2V331.5H29.4Z"/><path fill="#9fff60" d="M121.1,231.7H128.9V239.7H121.1Z"/><path fill="#ff3000" d="M121.1,239.4H128.9V247.4H121.1Z"/><path fill="#ff4000" d="M128.7,239.4H136.5V247.4H128.7Z"/><path fill="#cfff30" d="M144.0,239.4H151.8V247.4H144.0ZM113.5,254.7H121.2V262.7H113.5ZM21.8,331.2H29.6V339.2H21.8Z"/><path fill="#ff0000" d="M121.1,247.1H128.9V255.0H121.1Z"/><path fill="#ef0000" d="M128.7,247.1H136.5V255.0H128.7ZM128.7,254.7H136.5V262.7H128.7Z"/><path fill="#ff5000" d="M121.1,254.7H128.9V262.7H121.1Z"/>
</g>
<path clip-path="url(#cl)" d="M143.2,2.7L144.5,10.5M144.5,10.5L147.8,13.7M154.5,18.4L147.8,13.7M154.5,18.4L155.5,21.5M159.6,26.2L155.5,21.5M159.6,26.2L163.1,30.3M167.1,34.0L163.1,30.3M167.1,34.0L170.8,40.0M178.4,41.5L170.8,40.0M178.7,41.8L178.4,41.5M178.7,41.8L186.0,46.2M193.7,47.9L186.0,46.2M196.7,49.7L193.7,47.9M196.7,49.7L201.0,57.5M201.0,57.5L201.3,57.8M209.0,59.1L201.3,57.8M216.6,61.9L209.0,59.1M224.2,63.4L216.6,61.9M226.2,65.3L224.2,63.4M226.2,65.3L227.5,73.1M227.5,73.1L231.9,77.1M236.2,80.9L231.9,77.1M236.2,80.9L238.3,88.7M247.2,84.3L240.8,88.7M251.4,88.7L247.2,84.3M238.3,88.7L239.5,89.5M240.8,88.7L239.5,89.5M251.4,88.7L249.5,96.5M249.5,96.5L254.8,103.9M255.2,104.2L254.8,103.9M255.2,104.2L259.7,112.0M259.7,112.0L262.4,118.3M263.0,119.8L262.4,118.3M263.0,119.8L263.3,127.5M263.3,127.5L270.1,131.0M274.8,135.3L270.1,131.0M274.8,135.3L274.6,143.1M274.6,143.1L277.7,146.8M281.1,150.8L277.7,146.8M281.1,150.8L280.2,158.5M280.2,158.5L285.0,166.3M285.0,166.3L285.1,174.0M285.1,174.0L285.4,174.3M291.6,181.7L285.4,174.3M291.6,181.7L291.2,189.5M291.2,189.5L293.0,191.1M298.7,197.2L293.0,191.1M298.7,197.2L300.6,200.2M308.3,200.7L300.6,200.2M315.9,201.0L308.3,200.7M319.4,204.9L315.9,201.0M319.4,204.9L318.2,212.6M318.2,212.6L323.6,219.6M331.2,219.3L323.6,219.6M333.6,220.3L331.2,219.3M331.2,224.6L328.6,228.0M333.6,220.3L331.2,224.6M328.6,228.0L331.2,233.3M332.7,235.7L331.2,233.3M331.2,238.3L326.4,243.4M332.7,235.7L331.2,238.3M326.4,243.4L327.0,251.0M300.6,254.9L296.2,258.7M306.8,258.7L300.6,254.9M323.6,252.1L316.9,258.7M327.0,251.0L323.6,252.1M109.6,259.4L102.4,266.4M110.2,258.7L109.6,259.4M285.4,263.1L282.6,266.4M293.0,261.8L285.4,263.1M296.2,258.7L293.0,261.8M306.8,258.7L308.3,260.0M315.9,259.7L308.3,260.0M316.9,258.7L315.9,259.7M92.0,274.1L86.7,269.4M102.4,266.4L109.6,273.3M112.0,274.1L109.6,273.3M277.7,271.0L274.6,274.1M282.6,266.4L277.7,271.0M92.0,274.1L94.4,275.0M101.1,281.7L94.4,275.0M112.0,274.1L113.1,281.7M270.1,278.5L266.8,281.7M274.6,274.1L270.1,278.5M285.4,278.3L282.3,281.7M293.0,279.1L285.4,278.3M300.6,279.7L293.0,279.1M308.3,281.3L300.6,279.7M310.6,281.7L308.3,281.3M101.1,281.7L102.0,289.4M113.1,281.7L114.9,289.4M262.4,286.1L259.9,289.4M266.8,281.7L262.4,286.1M282.3,281.7L283.6,289.4M300.6,289.0L300.2,289.4M308.3,284.1L300.6,289.0M310.6,281.7L308.3,284.1M102.0,289.4L102.0,289.4M102.5,297.0L102.0,289.4M114.9,289.4L117.3,295.1M118.3,297.0L117.3,295.1M254.8,294.7L252.0,297.0M259.9,289.4L254.8,294.7M283.6,289.4L283.0,297.0M300.2,289.4L297.1,297.0M102.0,298.6L100.4,304.7M102.5,297.0L102.0,298.6M118.3,297.0L123.9,304.7M193.7,299.7L190.1,304.7M201.3,301.5L193.7,299.7M205.2,304.7L201.3,301.5M239.5,302.7L237.3,304.7M242.2,304.7L239.5,302.7M252.0,297.0L251.0,304.7M283.0,297.0L284.9,304.7M297.1,297.0L297.0,304.7M100.4,304.7L98.1,312.3M123.9,304.7L124.9,306.5M128.2,312.3L124.9,306.5M190.1,304.7L187.2,312.3M205.2,304.7L205.8,312.3M216.6,311.2L214.9,312.3M224.2,310.2L216.6,311.2M231.9,310.1L224.2,310.2M237.3,304.7L231.9,310.1M242.2,304.7L247.2,308.4M251.0,304.7L247.2,308.4M284.9,304.7L284.1,312.3M293.0,307.8L289.3,312.3M297.0,304.7L293.0,307.8M86.7,315.4L82.2,319.9M94.4,313.5L86.7,315.4M98.1,312.3L94.4,313.5M128.2,312.3L132.6,317.5M135.9,319.9L132.6,317.5M155.5,315.0L150.1,319.9M161.5,319.9L155.5,315.0M187.2,312.3L186.2,319.9M205.8,312.3L209.0,318.1M214.9,312.3L209.0,318.1M231.9,315.5L228.0,319.9M239.5,316.8L231.9,315.5M247.2,317.3L239.5,316.8M254.8,317.0L247.2,317.3M257.3,319.9L254.8,317.0M277.7,318.6L276.4,319.9M284.1,312.3L285.4,319.8M285.2,319.9L277.7,318.6M289.3,312.3L285.4,319.8M82.2,319.9L86.7,325.6M88.7,327.6L86.7,325.6M135.9,319.9L140.2,325.4M144.0,327.6L140.2,325.4M150.1,319.9L155.5,326.1M161.5,319.9L155.5,326.1M178.4,326.6L175.7,327.6M182.3,327.6L178.4,326.6M186.2,319.9L186.4,327.6M224.2,324.2L220.6,327.6M228.0,319.9L224.2,324.2M257.3,319.9L262.4,326.4M268.6,327.6L262.4,326.4M276.4,319.9L272.4,327.6M285.2,319.9L279.6,327.6M88.7,327.6L88.7,335.2M144.0,327.6L147.8,329.4M155.2,335.2L147.8,329.4M163.1,328.9L155.5,335.2M170.8,330.7L163.1,328.9M175.7,327.6L170.8,330.7M182.3,327.6L186.0,330.0M186.4,327.6L186.0,330.0M220.6,327.6L221.9,335.2M254.8,331.7L247.3,335.2M262.4,332.1L254.8,331.7M268.6,327.6L262.4,332.1M272.4,327.6L277.7,329.5M279.6,327.6L277.7,329.5M56.2,340.1L53.7,342.8M60.2,342.8L56.2,340.1M88.7,335.2L86.9,342.8M155.2,335.2L155.5,335.3M155.5,335.2L155.5,335.3M221.9,335.2L224.2,336.8M231.9,339.2L224.2,336.8M239.5,340.2L231.9,339.2M247.2,335.2L239.5,340.2M247.3,335.2L247.2,335.2M48.5,348.0L46.3,350.4M53.7,342.8L48.5,348.0M60.2,342.8L60.0,350.4M86.7,342.8L80.6,350.4M86.9,342.8L86.7,342.8M46.3,350.4L48.5,353.6M56.2,354.3L48.5,353.6M60.0,350.4L56.2,354.3M79.1,351.9L73.6,358.0M80.6,350.4L79.1,351.9M73.6,358.0L76.6,365.6M76.6,365.6L73.0,373.2M71.4,374.6L64.5,380.8M73.0,373.2L71.4,374.6M48.5,387.9L48.0,388.4M56.2,383.8L48.5,387.9M63.8,381.5L56.2,383.8M64.5,380.8L63.8,381.5M48.0,388.4L41.9,396.0M16.7,403.6L10.3,397.9M25.6,401.8L20.6,403.6M33.2,398.8L25.6,401.8M40.9,397.0L33.2,398.8M41.9,396.0L40.9,397.0M16.7,403.6L18.0,404.4M20.6,403.6L18.0,404.4" fill="none" stroke="#000" stroke-width="1"/>
<use href="#coast"/>
<use href="#stars"/>
<use href="#boxL"/>
<use href="#frame"/>
<text x="173.5" y="-12.6" font-size="20.4" font-weight="bold" text-anchor="middle" letter-spacing="0.12" fill="#000">Number of Rads (3)</text>
<use href="#km"/>
<g font-size="14.6" fill="#000" text-anchor="middle"><text transform="translate(234.0,7.1) rotate(-30)" dy="0.36em">3</text><text transform="translate(271.1,25.1) rotate(-70)" dy="0.36em">3</text><text transform="translate(327.3,15.6) rotate(70)" dy="0.36em">3</text><text transform="translate(332.6,40.0) rotate(-80)" dy="0.36em">3</text><text transform="translate(279.6,82.4) rotate(-10)" dy="0.36em">3</text><text transform="translate(336.9,71.8) rotate(50)" dy="0.36em">3</text><text transform="translate(308.2,166.2) rotate(20)" dy="0.36em">3</text><text transform="translate(287.0,182.1) rotate(30)" dy="0.36em">3</text><text transform="translate(296.6,199.0) rotate(-10)" dy="0.36em">3</text><text transform="translate(123.7,223.1) rotate(-90)" dy="0.36em">3</text><text transform="translate(100.4,281.5) rotate(90)" dy="0.36em">3</text><text transform="translate(81.3,317.5) rotate(-90)" dy="0.36em">3</text><text transform="translate(182.0,317.5) rotate(-80)" dy="0.36em">3</text><text transform="translate(277.5,334.5) rotate(-10)" dy="0.36em">3</text><text transform="translate(74.9,401.3) rotate(-10)" dy="0.36em">3</text></g>
<rect x="3.8" y="20.3" width="111.4" height="24.6" fill="url(#jet)" stroke="#262626" stroke-width="1"/>
<text x="2.2" y="6.3" font-size="16.67" text-anchor="middle" fill="#262626">0</text>
<text x="100.2" y="6.3" font-size="16.67" text-anchor="middle" fill="#262626">50</text>
</g>
<g transform="translate(1227.4,142.4)">
<use href="#box"/>
<use href="#grid"/>
<g clip-path="url(#cl)" shape-rendering="crispEdges">
<path fill="#ffcf00" d="M67.6,-0.1H98.3V6.8H67.6ZM105.8,-0.1H121.2V6.8H105.8ZM159.3,-0.1H182.4V6.8H159.3ZM212.8,-0.1H220.6V6.8H212.8ZM67.6,6.5H136.5V14.6H67.6ZM159.3,6.5H182.4V14.6H159.3ZM228.1,6.5H235.8V14.6H228.1ZM75.3,14.3H167.1V22.4H75.3ZM205.1,14.3H212.9V22.4H205.1ZM75.3,22.1H167.1V30.3H75.3ZM212.8,22.1H220.6V30.3H212.8ZM75.3,30.0H167.1V38.1H75.3ZM75.3,37.8H136.5V45.9H75.3ZM144.0,37.8H167.1V45.9H144.0ZM319.7,37.8H342.8V45.9H319.7ZM82.9,45.6H167.1V53.7H82.9ZM319.7,45.6H342.8V53.7H319.7ZM82.9,53.4H167.1V61.5H82.9ZM82.9,61.2H167.1V69.3H82.9ZM82.9,69.0H174.7V77.1H82.9ZM82.9,76.8H197.7V84.9H82.9ZM90.5,84.6H205.3V92.7H90.5ZM136.4,92.4H151.8V100.5H136.4ZM159.3,92.4H174.7V100.5H159.3ZM182.2,92.4H197.7V100.5H182.2ZM205.1,92.4H212.9V100.5H205.1ZM136.4,100.2H144.2V108.3H136.4ZM197.5,100.2H220.6V108.3H197.5ZM136.4,108.0H144.2V116.0H136.4ZM174.6,108.0H220.6V116.0H174.6ZM136.4,115.7H144.2V123.8H136.4ZM166.9,115.7H228.2V123.8H166.9ZM128.7,123.5H136.5V131.6H128.7ZM151.7,123.5H235.8V131.6H151.7ZM121.1,131.3H243.5V139.3H121.1ZM128.7,139.0H251.1V147.1H128.7ZM289.2,139.0H312.2V147.1H289.2ZM128.7,146.8H266.4V154.8H128.7ZM289.2,146.8H312.2V154.8H289.2ZM128.7,154.5H274.0V162.6H128.7ZM289.2,154.5H312.2V162.6H289.2ZM121.1,162.3H281.7V170.3H121.1ZM121.1,170.0H281.7V178.0H121.1ZM121.1,177.7H289.3V185.8H121.1ZM128.7,185.5H289.3V193.5H128.7ZM128.7,193.2H297.0V201.2H128.7ZM128.7,200.9H319.9V208.9H128.7ZM136.4,208.6H319.9V216.6H136.4ZM136.4,216.3H342.8V224.3H136.4ZM136.4,224.0H342.8V232.0H136.4ZM136.4,231.7H182.4V239.7H136.4ZM189.9,231.7H342.8V239.7H189.9ZM136.4,239.4H174.7V247.4H136.4ZM189.9,239.4H342.8V247.4H189.9ZM136.4,247.1H167.1V255.0H136.4ZM189.9,247.1H335.2V255.0H189.9ZM105.8,254.7H113.6V262.7H105.8ZM144.0,254.7H159.4V262.7H144.0ZM182.2,254.7H212.9V262.7H182.2ZM220.4,254.7H297.0V262.7H220.4ZM304.5,254.7H319.9V262.7H304.5ZM82.9,262.4H90.7V270.4H82.9ZM174.6,262.4H205.3V270.4H174.6ZM220.4,262.4H281.7V270.4H220.4ZM75.3,270.1H90.7V278.0H75.3ZM166.9,270.1H205.3V278.0H166.9ZM212.8,270.1H274.0V278.0H212.8ZM52.3,277.7H83.0V285.7H52.3ZM98.2,277.7H106.0V285.7H98.2ZM159.3,277.7H197.7V285.7H159.3ZM212.8,277.7H266.4V285.7H212.8ZM44.7,285.4H83.0V293.3H44.7ZM98.2,285.4H106.0V293.3H98.2ZM159.3,285.4H197.7V293.3H159.3ZM205.1,285.4H258.8V293.3H205.1ZM44.7,293.0H106.0V301.0H44.7ZM159.3,293.0H190.0V301.0H159.3ZM197.5,293.0H251.1V301.0H197.5ZM44.7,300.7H83.0V308.6H44.7ZM166.9,300.7H190.0V308.6H166.9ZM205.1,300.7H235.8V308.6H205.1ZM243.3,300.7H251.1V308.6H243.3ZM52.3,308.3H83.0V316.3H52.3ZM205.1,308.3H212.9V316.3H205.1ZM60.0,316.0H83.0V323.9H60.0ZM228.1,316.0H258.8V323.9H228.1ZM273.9,316.0H289.3V323.9H273.9ZM98.2,323.6H121.2V331.5H98.2ZM220.4,323.6H281.7V331.5H220.4ZM105.8,331.2H121.2V339.2H105.8ZM220.4,331.2H281.7V339.2H220.4ZM105.8,338.9H121.2V346.8H105.8ZM228.1,338.9H243.5V346.8H228.1ZM105.8,346.5H113.6V354.4H105.8ZM113.5,354.1H128.9V362.0H113.5ZM128.7,361.7H136.5V369.6H128.7Z"/><path fill="#00dfff" d="M98.2,-0.1H106.0V6.8H98.2ZM121.1,-0.1H159.4V6.8H121.1ZM182.2,-0.1H205.3V6.8H182.2ZM220.4,-0.1H281.7V6.8H220.4ZM289.2,-0.1H348.1V6.8H289.2ZM136.4,6.5H159.4V14.6H136.4ZM182.2,6.5H228.2V14.6H182.2ZM235.7,6.5H289.3V14.6H235.7ZM296.8,6.5H348.1V14.6H296.8ZM166.9,14.3H205.3V22.4H166.9ZM212.8,14.3H289.3V22.4H212.8ZM304.5,14.3H348.1V22.4H304.5ZM166.9,22.1H212.9V30.3H166.9ZM220.4,22.1H228.2V30.3H220.4ZM243.3,22.1H281.7V30.3H243.3ZM304.5,22.1H348.1V30.3H304.5ZM166.9,30.0H297.0V38.1H166.9ZM312.1,30.0H342.8V38.1H312.1ZM136.4,37.8H144.2V45.9H136.4ZM166.9,37.8H304.6V45.9H166.9ZM342.7,37.8H348.1V45.9H342.7ZM166.9,45.6H304.6V53.7H166.9ZM342.7,45.6H348.1V53.7H342.7ZM166.9,53.4H312.2V61.5H166.9ZM327.4,53.4H348.1V61.5H327.4ZM166.9,61.2H312.2V69.3H166.9ZM327.4,61.2H348.1V69.3H327.4ZM174.6,69.0H319.9V77.1H174.6ZM327.4,69.0H348.1V77.1H327.4ZM197.5,76.8H319.9V84.9H197.5ZM327.4,76.8H348.1V84.9H327.4ZM82.9,84.6H90.7V92.7H82.9ZM205.1,84.6H327.5V92.7H205.1ZM335.0,84.6H348.1V92.7H335.0ZM90.5,92.4H136.5V100.5H90.5ZM174.6,92.4H182.4V100.5H174.6ZM212.8,92.4H348.1V100.5H212.8ZM98.2,100.2H136.5V108.3H98.2ZM174.6,100.2H197.7V108.3H174.6ZM220.4,100.2H327.5V108.3H220.4ZM98.2,108.0H136.5V116.0H98.2ZM220.4,108.0H319.9V116.0H220.4ZM98.2,115.7H136.5V123.8H98.2ZM228.1,115.7H319.9V123.8H228.1ZM105.8,123.5H128.9V131.6H105.8ZM235.7,123.5H342.8V131.6H235.7ZM105.8,131.3H121.2V139.3H105.8ZM243.3,131.3H342.8V139.3H243.3ZM113.5,139.0H128.9V147.1H113.5ZM251.0,139.0H289.3V147.1H251.0ZM312.1,139.0H342.8V147.1H312.1ZM113.5,146.8H128.9V154.8H113.5ZM266.3,146.8H289.3V154.8H266.3ZM312.1,146.8H342.8V154.8H312.1ZM113.5,154.5H128.9V162.6H113.5ZM273.9,154.5H289.3V162.6H273.9ZM312.1,154.5H342.8V162.6H312.1ZM113.5,162.3H121.2V170.3H113.5ZM281.5,162.3H342.8V170.3H281.5ZM281.5,170.0H342.8V178.0H281.5ZM289.2,177.7H342.8V185.8H289.2ZM121.1,185.5H128.9V193.5H121.1ZM289.2,185.5H342.8V193.5H289.2ZM121.1,193.2H128.9V201.2H121.1ZM296.8,193.2H335.2V201.2H296.8ZM121.1,200.9H128.9V208.9H121.1ZM319.7,200.9H342.8V208.9H319.7ZM121.1,208.6H136.5V216.6H121.1ZM319.7,208.6H342.8V216.6H319.7ZM121.1,216.3H136.5V224.3H121.1ZM121.1,224.0H136.5V232.0H121.1ZM121.1,231.7H136.5V239.7H121.1ZM182.2,231.7H190.0V239.7H182.2ZM121.1,239.4H136.5V247.4H121.1ZM174.6,239.4H190.0V247.4H174.6ZM121.1,247.1H136.5V255.0H121.1ZM166.9,247.1H190.0V255.0H166.9ZM335.0,247.1H342.8V255.0H335.0ZM90.5,254.7H106.0V262.7H90.5ZM113.5,254.7H144.2V262.7H113.5ZM159.3,254.7H182.4V262.7H159.3ZM212.8,254.7H220.6V262.7H212.8ZM296.8,254.7H304.6V262.7H296.8ZM319.7,254.7H342.8V262.7H319.7ZM90.5,262.4H174.7V270.4H90.5ZM205.1,262.4H220.6V270.4H205.1ZM281.5,262.4H342.8V270.4H281.5ZM90.5,270.1H98.3V278.0H90.5ZM105.8,270.1H167.1V278.0H105.8ZM205.1,270.1H212.9V278.0H205.1ZM273.9,270.1H342.8V278.0H273.9ZM82.9,277.7H98.3V285.7H82.9ZM105.8,277.7H159.4V285.7H105.8ZM197.5,277.7H212.9V285.7H197.5ZM266.3,277.7H342.8V285.7H266.3ZM82.9,285.4H98.3V293.3H82.9ZM105.8,285.4H159.4V293.3H105.8ZM197.5,285.4H205.3V293.3H197.5ZM258.6,285.4H342.8V293.3H258.6ZM105.8,293.0H159.4V301.0H105.8ZM189.9,293.0H197.7V301.0H189.9ZM251.0,293.0H335.2V301.0H251.0ZM37.1,300.7H44.8V308.6H37.1ZM82.9,300.7H167.1V308.6H82.9ZM235.7,300.7H243.5V308.6H235.7ZM251.0,300.7H304.6V308.6H251.0ZM312.1,300.7H335.2V308.6H312.1ZM29.4,308.3H52.5V316.3H29.4ZM82.9,308.3H190.0V316.3H82.9ZM212.8,308.3H304.6V316.3H212.8ZM312.1,308.3H335.2V316.3H312.1ZM21.8,316.0H60.1V323.9H21.8ZM98.2,316.0H151.8V323.9H98.2ZM159.3,316.0H190.0V323.9H159.3ZM205.1,316.0H228.2V323.9H205.1ZM258.6,316.0H274.0V323.9H258.6ZM289.2,316.0H297.0V323.9H289.2ZM14.1,323.6H90.7V331.5H14.1ZM121.1,323.6H190.0V331.5H121.1ZM197.5,323.6H220.6V331.5H197.5ZM281.5,323.6H289.3V331.5H281.5ZM6.5,331.2H90.7V339.2H6.5ZM98.2,331.2H106.0V339.2H98.2ZM121.1,331.2H159.4V339.2H121.1ZM166.9,331.2H220.6V339.2H166.9ZM6.5,338.9H52.5V346.8H6.5ZM60.0,338.9H106.0V346.8H60.0ZM121.1,338.9H144.2V346.8H121.1ZM174.6,338.9H228.2V346.8H174.6ZM243.3,338.9H258.8V346.8H243.3ZM6.5,346.5H44.8V354.4H6.5ZM60.0,346.5H83.0V354.4H60.0ZM90.5,346.5H106.0V354.4H90.5ZM113.5,346.5H151.8V354.4H113.5ZM182.2,346.5H251.1V354.4H182.2ZM6.5,354.1H75.4V362.0H6.5ZM82.9,354.1H113.6V362.0H82.9ZM128.7,354.1H159.4V362.0H128.7ZM197.5,354.1H243.5V362.0H197.5ZM6.5,361.7H128.9V369.6H6.5ZM136.4,361.7H151.8V369.6H136.4ZM205.1,361.7H235.8V369.6H205.1ZM6.5,369.3H151.8V377.2H6.5ZM205.1,369.3H228.2V377.2H205.1ZM6.5,376.9H128.9V384.8H6.5ZM212.8,376.9H228.2V384.8H212.8ZM6.5,384.5H121.2V392.4H6.5ZM6.5,392.1H113.6V399.9H6.5ZM6.5,399.6H106.0V407.5H6.5ZM6.5,407.2H98.3V415.1H6.5ZM6.5,414.8H90.7V422.7H6.5ZM6.5,422.4H83.0V427.6H6.5Z"/><path fill="#00008f" d="M205.1,-0.1H212.9V6.8H205.1ZM281.5,-0.1H289.3V6.8H281.5ZM289.2,6.5H297.0V14.6H289.2ZM289.2,14.3H304.6V22.4H289.2ZM228.1,22.1H243.5V30.3H228.1ZM281.5,22.1H304.6V30.3H281.5ZM296.8,30.0H312.2V38.1H296.8ZM342.7,30.0H348.1V38.1H342.7ZM304.5,37.8H319.9V45.9H304.5ZM304.5,45.6H319.9V53.7H304.5ZM312.1,53.4H327.5V61.5H312.1ZM312.1,61.2H327.5V69.3H312.1ZM319.7,69.0H327.5V77.1H319.7ZM319.7,76.8H327.5V84.9H319.7ZM327.4,84.6H335.2V92.7H327.4ZM327.4,100.2H348.1V108.3H327.4ZM319.7,108.0H348.1V116.0H319.7ZM319.7,115.7H348.1V123.8H319.7ZM342.7,123.5H348.1V131.6H342.7ZM342.7,131.3H348.1V139.3H342.7ZM342.7,139.0H348.1V147.1H342.7ZM342.7,146.8H348.1V154.8H342.7ZM342.7,154.5H348.1V162.6H342.7ZM342.7,162.3H348.1V170.3H342.7ZM342.7,170.0H348.1V178.0H342.7ZM342.7,177.7H348.1V185.8H342.7ZM342.7,185.5H348.1V193.5H342.7ZM335.0,193.2H348.1V201.2H335.0ZM342.7,200.9H348.1V208.9H342.7ZM342.7,208.6H348.1V216.6H342.7ZM342.7,216.3H348.1V224.3H342.7ZM342.7,224.0H348.1V232.0H342.7ZM342.7,231.7H348.1V239.7H342.7ZM342.7,239.4H348.1V247.4H342.7ZM342.7,247.1H348.1V255.0H342.7ZM342.7,254.7H348.1V262.7H342.7ZM342.7,262.4H348.1V270.4H342.7ZM98.2,270.1H106.0V278.0H98.2ZM342.7,270.1H348.1V278.0H342.7ZM342.7,277.7H348.1V285.7H342.7ZM342.7,285.4H348.1V293.3H342.7ZM335.0,293.0H348.1V301.0H335.0ZM189.9,300.7H205.3V308.6H189.9ZM304.5,300.7H312.2V308.6H304.5ZM335.0,300.7H348.1V308.6H335.0ZM189.9,308.3H205.3V316.3H189.9ZM304.5,308.3H312.2V316.3H304.5ZM335.0,308.3H348.1V316.3H335.0ZM82.9,316.0H98.3V323.9H82.9ZM151.7,316.0H159.4V323.9H151.7ZM189.9,316.0H205.3V323.9H189.9ZM296.8,316.0H348.1V323.9H296.8ZM90.5,323.6H98.3V331.5H90.5ZM189.9,323.6H197.7V331.5H189.9ZM289.2,323.6H348.1V331.5H289.2ZM90.5,331.2H98.3V339.2H90.5ZM159.3,331.2H167.1V339.2H159.3ZM281.5,331.2H348.1V339.2H281.5ZM52.3,338.9H60.1V346.8H52.3ZM144.0,338.9H174.7V346.8H144.0ZM258.6,338.9H348.1V346.8H258.6ZM44.7,346.5H60.1V354.4H44.7ZM82.9,346.5H90.7V354.4H82.9ZM151.7,346.5H182.4V354.4H151.7ZM251.0,346.5H348.1V354.4H251.0ZM75.3,354.1H83.0V362.0H75.3ZM159.3,354.1H197.7V362.0H159.3ZM243.3,354.1H348.1V362.0H243.3ZM151.7,361.7H205.3V369.6H151.7ZM235.7,361.7H348.1V369.6H235.7ZM151.7,369.3H205.3V377.2H151.7ZM228.1,369.3H348.1V377.2H228.1ZM128.7,376.9H212.9V384.8H128.7ZM228.1,376.9H348.1V384.8H228.1ZM121.1,384.5H348.1V392.4H121.1ZM113.5,392.1H348.1V399.9H113.5ZM105.8,399.6H348.1V407.5H105.8ZM98.2,407.2H348.1V415.1H98.2ZM90.5,414.8H348.1V422.7H90.5ZM82.9,422.4H348.1V427.6H82.9Z"/><path fill="#800000" d="M151.7,92.4H159.4V100.5H151.7ZM197.5,92.4H205.3V100.5H197.5ZM144.0,100.2H174.7V108.3H144.0ZM144.0,108.0H174.7V116.0H144.0ZM144.0,115.7H167.1V123.8H144.0ZM136.4,123.5H151.8V131.6H136.4Z"/>
</g>
<path clip-path="url(#cl)" d="M94.6,2.7L102.0,10.3M109.4,2.7L102.0,10.3M117.5,2.7L124.9,10.3M132.6,10.3L124.9,10.3M132.8,10.5L132.6,10.3M162.9,2.7L162.9,10.5M178.6,2.7L178.6,10.5M216.5,2.7L216.6,2.9M216.8,2.7L216.6,2.9M231.9,10.3L231.7,10.5M232.1,10.5L231.9,10.3M132.8,10.5L140.2,18.1M147.8,18.1L140.2,18.1M155.5,18.1L147.8,18.1M162.9,10.5L155.5,18.1M170.8,10.8L163.3,18.4M178.4,10.8L170.8,10.8M178.6,10.5L178.4,10.8M209.0,18.1L208.7,18.4M209.2,18.4L209.0,18.1M231.7,10.5L231.9,10.8M232.1,10.5L231.9,10.8M163.3,18.4L163.3,26.2M208.7,18.4L209.0,18.6M209.2,18.4L216.6,26.0M216.4,26.2L209.0,18.6M216.8,26.2L216.6,26.0M163.3,26.2L163.3,34.0M216.4,26.2L216.6,26.4M216.8,26.2L216.6,26.4M140.2,34.3L132.8,41.8M147.6,41.8L140.2,34.3M163.3,34.0L163.3,41.8M323.6,41.6L323.4,41.8M331.2,41.6L323.6,41.6M338.8,41.6L331.2,41.6M339.1,41.8L338.8,41.6M132.8,41.8L140.2,49.4M147.6,41.8L140.2,49.4M163.3,41.8L163.3,49.7M323.4,41.8L323.4,49.7M339.1,41.8L339.1,49.7M163.3,49.7L163.3,57.5M323.4,49.7L323.6,49.8M331.2,49.9L323.6,49.8M338.8,49.9L331.2,49.9M339.1,49.7L338.8,49.9M163.3,57.5L163.3,65.3M163.3,65.3L170.8,72.9M171.0,73.1L170.8,72.9M171.0,73.1L178.4,80.6M186.0,80.6L178.4,80.6M193.7,80.6L186.0,80.6M193.9,80.9L193.7,80.6M94.1,88.7L86.7,81.1M193.9,80.9L201.3,88.4M201.5,88.7L201.3,88.4M102.0,88.9L94.4,88.9M109.6,88.9L102.0,88.9M117.3,88.9L109.6,88.9M124.9,88.9L117.3,88.9M132.6,88.9L124.9,88.9M140.0,96.5L132.6,88.9M178.4,88.9L171.0,96.5M185.8,96.5L178.4,88.9M201.5,88.7L209.0,96.2M209.2,96.5L209.0,96.2M140.0,96.5L140.0,104.2M171.0,96.5L174.7,104.2M185.8,96.5L186.0,96.7M193.7,96.7L186.0,96.7M201.1,104.2L193.7,96.7M209.2,96.5L216.6,104.0M216.8,104.2L216.6,104.0M140.0,104.2L140.0,112.0M174.7,104.2L178.4,111.8M186.0,111.8L178.4,111.8M193.7,111.8L186.0,111.8M201.1,104.2L193.7,111.8M216.8,104.2L216.8,112.0M140.0,112.0L140.0,119.8M216.8,112.0L224.2,119.5M224.5,119.8L224.2,119.5M132.6,127.3L132.3,127.5M140.0,119.8L132.6,127.3M224.5,119.8L231.9,127.3M232.1,127.5L231.9,127.3M124.9,135.1L124.7,135.3M132.3,127.5L124.9,135.1M232.1,127.5L239.5,135.1M239.7,135.3L239.5,135.1M124.7,135.3L124.9,135.5M132.3,143.1L124.9,135.5M239.7,135.3L247.2,142.8M247.4,143.1L247.2,142.8M293.0,142.8L292.8,143.1M300.6,142.8L293.0,142.8M308.3,142.8L300.6,142.8M308.5,143.1L308.3,142.8M132.3,143.1L132.3,150.8M247.4,143.1L254.8,150.6M262.4,150.6L254.8,150.6M262.7,150.8L262.4,150.6M292.8,143.1L292.8,150.8M308.5,143.1L308.5,150.8M132.3,150.8L132.3,158.5M262.7,150.8L270.1,158.3M270.3,158.5L270.1,158.3M292.8,150.8L292.8,158.5M308.5,150.8L308.5,158.5M124.9,166.1L124.7,166.3M132.3,158.5L124.9,166.1M270.3,158.5L277.7,166.1M277.9,166.3L277.7,166.1M292.8,158.5L293.0,158.8M300.6,158.8L293.0,158.8M308.3,158.8L300.6,158.8M308.5,158.5L308.3,158.8M277.9,166.3L277.9,174.0M277.9,174.0L285.4,181.5M285.6,181.7L285.4,181.5M132.3,189.5L124.9,182.0M285.6,181.7L285.6,189.5M132.3,189.5L132.3,197.2M285.6,189.5L293.0,196.9M293.2,197.2L293.0,196.9M132.3,197.2L132.3,204.9M293.2,197.2L300.6,204.7M308.3,204.7L300.6,204.7M315.9,204.7L308.3,204.7M316.1,204.9L315.9,204.7M132.3,204.9L132.6,205.1M140.0,212.6L132.6,205.1M316.1,204.9L316.1,212.6M140.0,212.6L140.0,220.3M316.1,212.6L323.6,220.1M331.2,220.1L323.6,220.1M338.8,220.1L331.2,220.1M339.0,220.3L338.8,220.1M140.0,220.3L140.0,228.0M339.0,220.3L339.0,228.0M140.0,228.0L140.0,235.7M186.0,228.2L178.6,235.7M193.5,235.7L186.0,228.2M339.0,228.0L339.0,235.7M140.0,235.7L140.0,243.4M178.4,235.9L171.0,243.4M178.6,235.7L178.4,235.9M193.5,235.7L193.5,243.4M339.0,235.7L339.0,243.4M140.0,243.4L140.0,251.0M170.8,243.6L163.3,251.0M171.0,243.4L170.8,243.6M193.5,243.4L193.5,251.0M338.8,243.6L331.4,251.0M339.0,243.4L338.8,243.6M140.0,251.0L140.2,251.3M147.6,258.7L140.2,251.3M163.1,251.3L155.7,258.7M163.3,251.0L163.1,251.3M186.0,258.5L185.8,258.7M193.5,251.0L186.0,258.5M216.6,251.3L209.2,258.7M224.0,258.7L216.6,251.3M300.6,251.3L293.2,258.7M308.1,258.7L300.6,251.3M323.6,251.3L316.1,258.7M331.2,251.3L323.6,251.3M331.4,251.0L331.2,251.3M109.4,258.7L109.6,259.0M109.9,258.7L109.6,259.0M147.6,258.7L147.8,259.0M155.5,259.0L147.8,259.0M155.7,258.7L155.5,259.0M178.4,266.2L178.2,266.4M185.8,258.7L178.4,266.2M209.0,259.0L201.5,266.4M209.2,258.7L209.0,259.0M224.0,258.7L224.0,266.4M285.4,259.0L277.9,266.4M293.0,259.0L285.4,259.0M293.2,258.7L293.0,259.0M308.1,258.7L308.3,259.0M315.9,259.0L308.3,259.0M316.1,258.7L315.9,259.0M86.9,266.4L86.9,274.1M170.8,273.8L170.5,274.1M178.2,266.4L170.8,273.8M201.5,266.4L201.5,274.1M216.6,273.8L216.4,274.1M224.0,266.4L216.6,273.8M277.7,266.6L270.3,274.1M277.9,266.4L277.7,266.6M86.7,274.3L79.3,281.7M86.9,274.1L86.7,274.3M102.0,281.6L101.8,281.7M102.2,281.7L102.0,281.6M163.1,281.5L162.9,281.7M170.5,274.1L163.1,281.5M201.3,274.3L193.9,281.7M201.5,274.1L201.3,274.3M216.4,274.1L216.4,281.7M270.1,274.3L262.7,281.7M270.3,274.1L270.1,274.3M79.3,281.7L79.3,289.4M101.8,281.7L101.8,289.4M102.2,281.7L102.2,289.4M162.9,281.7L162.9,289.4M193.9,281.7L193.9,289.4M209.0,289.1L208.7,289.4M216.4,281.7L209.0,289.1M262.4,281.9L255.0,289.4M262.7,281.7L262.4,281.9M79.3,289.4L86.7,296.8M94.4,296.8L86.7,296.8M101.8,289.4L94.4,296.8M102.2,289.4L102.2,297.0M162.9,289.4L162.9,297.0M193.7,289.6L186.3,297.0M193.9,289.4L201.3,296.8M201.1,297.0L193.7,289.6M208.7,289.4L201.3,296.8M254.8,289.6L247.4,297.0M255.0,289.4L254.8,289.6M86.7,297.2L79.3,304.7M94.4,297.2L86.7,297.2M102.0,297.2L94.4,297.2M102.2,297.0L102.0,297.2M162.9,297.0L163.1,297.2M170.5,304.7L163.1,297.2M186.3,297.0L186.2,304.7M201.1,297.0L201.3,297.1M208.8,304.7L201.3,297.1M239.5,297.2L232.1,304.7M246.9,304.7L239.5,297.2M247.4,297.0L247.4,304.7M48.3,304.7L48.5,304.9M55.9,312.3L48.5,304.9M79.3,304.7L79.3,312.3M170.5,304.7L170.8,304.9M178.4,304.9L170.8,304.9M186.0,304.9L178.4,304.9M186.2,304.7L186.0,304.9M208.8,304.7L208.8,312.3M216.6,304.9L209.2,312.3M224.2,304.9L216.6,304.9M231.9,304.9L224.2,304.9M232.1,304.7L231.9,304.9M246.9,304.7L247.2,304.9M247.4,304.7L247.2,304.9M55.9,312.3L56.2,312.5M63.6,319.9L56.2,312.5M79.3,312.3L79.2,319.9M208.8,312.3L209.0,312.5M209.2,312.3L209.0,312.5M231.9,319.7L231.7,319.9M239.5,319.7L231.9,319.7M247.2,319.7L239.5,319.7M254.8,319.7L247.2,319.7M255.0,319.9L254.8,319.7M277.7,319.7L277.5,319.9M285.4,319.7L277.7,319.7M285.6,319.9L285.4,319.7M63.6,319.9L63.8,320.2M71.4,320.2L63.8,320.2M79.1,320.2L71.4,320.2M79.2,319.9L79.1,320.2M102.0,327.3L101.9,327.6M109.6,327.3L102.0,327.3M117.3,327.3L109.6,327.3M117.5,327.6L117.3,327.3M224.2,327.3L224.0,327.6M231.7,319.9L224.2,327.3M255.0,319.9L262.4,327.3M270.1,327.3L262.4,327.3M277.5,319.9L270.1,327.3M285.4,320.2L277.9,327.6M285.6,319.9L285.4,320.2M101.9,327.6L102.0,327.8M109.4,335.2L102.0,327.8M117.5,327.6L117.5,335.2M224.0,327.6L224.0,335.2M277.9,327.6L277.8,335.2M109.4,335.2L109.4,342.8M117.5,335.2L117.5,342.8M224.0,335.2L224.2,335.4M231.7,342.8L224.2,335.4M247.2,335.4L239.7,342.8M254.8,335.4L247.2,335.4M262.4,335.3L254.8,335.4M270.1,335.3L262.4,335.3M277.7,335.3L270.1,335.3M277.8,335.2L277.7,335.3M109.4,342.8L109.4,350.4M117.3,343.0L109.9,350.4M117.5,342.8L117.3,343.0M231.7,342.8L231.9,343.0M239.5,343.0L231.9,343.0M239.7,342.8L239.5,343.0M109.4,350.4L109.6,350.7M109.9,350.4L117.3,357.8M117.1,358.0L109.6,350.7M124.9,357.8L117.3,357.8M125.1,358.0L124.9,357.8M117.1,358.0L117.3,358.3M124.9,358.3L117.3,358.3M125.1,358.0L132.6,365.4M132.3,365.6L124.9,358.3M132.8,365.6L132.6,365.4M132.3,365.6L132.6,365.9M132.8,365.6L132.6,365.9" fill="none" stroke="#000" stroke-width="1"/>
<use href="#coast"/>
<use href="#stars"/>
<use href="#boxL"/>
<use href="#frame"/>
<text x="173.5" y="-12.6" font-size="20.4" font-weight="bold" text-anchor="middle" letter-spacing="0.12" fill="#000">Number of Sites (2)</text>
<use href="#km"/>
<g font-size="14.6" fill="#000" text-anchor="middle"><text transform="translate(160.8,10.3) rotate(-60)" dy="0.36em">2</text><text transform="translate(149.2,40.0) rotate(-70)" dy="0.36em">2</text><text transform="translate(115.2,87.7) rotate(-60)" dy="0.36em">2</text><text transform="translate(178.9,115.3) rotate(10)" dy="0.36em">2</text><text transform="translate(230.8,141.8) rotate(-60)" dy="0.36em">2</text><text transform="translate(304.0,160.9) rotate(-70)" dy="0.36em">2</text><text transform="translate(333.7,51.6) rotate(-70)" dy="0.36em">2</text><text transform="translate(97.2,291.0) rotate(-80)" dy="0.36em">2</text><text transform="translate(61.1,322.8) rotate(20)" dy="0.36em">2</text><text transform="translate(109.9,349.4) rotate(-20)" dy="0.36em">2</text><text transform="translate(178.9,304.8) rotate(-20)" dy="0.36em">2</text><text transform="translate(284.9,267.7) rotate(-60)" dy="0.36em">2</text><text transform="translate(249.9,338.8) rotate(-20)" dy="0.36em">2</text></g>
<rect x="3.8" y="20.3" width="112.8" height="24.6" fill="url(#jet)" stroke="#262626" stroke-width="1"/>
<text x="2.2" y="6.3" font-size="16.67" text-anchor="middle" fill="#262626">0</text>
<text x="39.8" y="6.3" font-size="16.67" text-anchor="middle" fill="#262626">1</text>
<text x="77.4" y="6.3" font-size="16.67" text-anchor="middle" fill="#262626">2</text>
<text x="115.0" y="6.3" font-size="16.67" text-anchor="middle" fill="#262626">3</text>
</g>
<g transform="translate(74.6,742.4)">
<use href="#box"/>
<use href="#grid"/>
<g clip-path="url(#cl)" shape-rendering="crispEdges">
</g>
<g clip-path="url(#cl)"><path d="M55.5,282.7h0M58.7,286.8h0M61.5,291.2h0M63.9,295.8h0M65.8,300.6h0M67.4,305.5h0M68.5,310.5h0M104.9,304.1h0M126.8,300.2h0M69.2,315.6h0M106.0,312.4h0M128.1,310.5h0M69.4,320.8h0M106.4,320.8h0M128.6,320.8h0M69.2,326.0h0M106.0,329.2h0M128.1,331.1h0M46.6,327.2h0M53.9,328.5h0M61.2,329.8h0M104.9,337.5h0M126.8,341.4h0M45.9,330.4h0M53.1,332.3h0M60.2,334.2h0M67.4,336.1h0M103.1,345.7h0M124.6,351.4h0M45.0,333.5h0M51.9,336.0h0M58.9,338.5h0M65.8,341.0h0M72.8,343.6h0M79.7,346.1h0M86.7,348.6h0M93.6,351.2h0M100.6,353.7h0M121.5,361.3h0M43.7,336.4h0M50.4,339.6h0M57.1,342.7h0M63.9,345.8h0M70.6,348.9h0M77.3,352.1h0M84.0,355.2h0M90.7,358.3h0M117.5,370.8h0M42.2,339.3h0M48.7,343.0h0M55.1,346.7h0M61.5,350.4h0M67.9,354.1h0M74.3,357.8h0M80.7,361.5h0M87.1,365.2h0M93.5,368.9h0M112.7,380.0h0M40.5,342.0h0M46.6,346.3h0M52.6,350.5h0M58.7,354.8h0M64.8,359.0h0M70.8,363.2h0M76.9,367.5h0M82.9,371.7h0M89.0,376.0h0M38.5,344.6h0M44.2,349.3h0M49.9,354.1h0M55.5,358.9h0M61.2,363.6h0M66.9,368.4h0M72.6,373.1h0M78.2,377.9h0M83.9,382.6h0M100.9,396.9h0M36.4,347.0h0M41.6,352.2h0M46.8,357.4h0M52.1,362.7h0M57.3,367.9h0M62.5,373.1h0M67.8,378.4h0M73.0,383.6h0M78.2,388.8h0M93.9,404.5h0M34.0,349.1h0M38.7,354.8h0M43.5,360.5h0M48.3,366.1h0M53.0,371.8h0M57.8,377.5h0M62.5,383.2h0M67.3,388.8h0M72.0,394.5h0M86.3,411.5h0M31.4,351.1h0M35.7,357.2h0M39.9,363.2h0M44.2,369.3h0M48.4,375.4h0M52.6,381.4h0M56.9,387.5h0M61.1,393.5h0M65.4,399.6h0M78.1,417.8h0M28.7,352.8h0M32.4,359.3h0M36.1,365.7h0M39.8,372.1h0M43.5,378.5h0M47.2,384.9h0M50.9,391.3h0M54.6,397.7h0M58.3,404.1h0M69.4,423.3h0M25.8,354.3h0M29.0,361.0h0M32.1,367.7h0M35.2,374.5h0M38.3,381.2h0M41.5,387.9h0M44.6,394.6h0M47.7,401.3h0M50.9,408.0h0M54.0,414.7h0M57.1,421.4h0M60.2,428.1h0M22.9,355.6h0M25.4,362.5h0M27.9,369.5h0M30.4,376.4h0M33.0,383.4h0M35.5,390.3h0M38.0,397.3h0M40.6,404.2h0M43.1,411.2h0M45.6,418.2h0M48.2,425.1h0M19.8,356.5h0M21.7,363.7h0M23.6,370.8h0M25.5,378.0h0M27.4,385.1h0M29.4,392.3h0M31.3,399.4h0M33.2,406.6h0M35.1,413.7h0M37.0,420.9h0M38.9,428.0h0M16.6,357.2h0M17.9,364.5h0M19.2,371.8h0M20.5,379.1h0M21.8,386.4h0M23.0,393.7h0M24.3,401.0h0M25.6,408.3h0M26.9,415.5h0M28.2,422.8h0M13.4,357.7h0M14.1,365.0h0M14.7,372.4h0M15.4,379.8h0M16.0,387.1h0M16.6,394.5h0M17.3,401.9h0M17.9,409.3h0M18.6,416.6h0M19.2,424.0h0M10.2,357.8h0M10.2,365.2h0M10.2,372.6h0M10.2,380.0h0M10.2,387.4h0M10.2,394.8h0M10.2,402.2h0M10.2,409.6h0M10.2,417.0h0M10.2,424.4h0M7.0,357.7h0M6.3,365.0h0M5.7,372.4h0M5.0,379.8h0M4.4,387.1h0M3.8,394.5h0M3.1,401.9h0M2.5,409.3h0M1.8,416.6h0M1.2,424.0h0" stroke="#000" stroke-width="2.8" stroke-linecap="round" fill="none"/><path d="M24.9,322.1h0M32.3,322.7h0M39.7,323.4h0M24.9,322.5h0M32.3,323.3h0M39.6,324.2h0M24.9,322.9h0M32.2,323.9h0M39.5,324.9h0M24.8,323.2h0M32.1,324.5h0M39.4,325.7h0M24.7,323.6h0M32.0,325.0h0M39.3,326.4h0M24.6,324.0h0M31.9,325.6h0M39.1,327.2h0M24.6,324.4h0M31.7,326.2h0M38.9,328.0h0M24.5,324.8h0M31.6,326.7h0M38.7,328.7h0M24.4,325.1h0M31.4,327.3h0M38.5,329.5h0M24.2,325.5h0M31.3,327.8h0M38.3,330.2h0M24.1,325.9h0M31.1,328.4h0M38.0,330.9h0M24.0,326.2h0M30.9,328.9h0M37.7,331.6h0M23.8,326.6h0M30.6,329.5h0M37.4,332.4h0M23.7,326.9h0M30.4,330.0h0M37.1,333.1h0M23.5,327.3h0M30.2,330.5h0M36.8,333.8h0M23.3,327.6h0M29.9,331.1h0M36.5,334.5h0M23.1,328.0h0M29.6,331.6h0M36.1,335.2h0M23.0,328.3h0M29.3,332.1h0M35.7,335.8h0M22.8,328.6h0M29.0,332.6h0M35.3,336.5h0M22.5,329.0h0M28.7,333.1h0M34.9,337.1h0M22.3,329.3h0M28.4,333.5h0M34.4,337.8h0M22.1,329.6h0M28.0,334.0h0M34.0,338.4h0M21.9,329.9h0M27.7,334.5h0M33.5,339.0h0M21.6,330.2h0M27.3,334.9h0M33.0,339.6h0M21.4,330.5h0M27.0,335.4h0M32.5,340.2h0M21.1,330.8h0M26.6,335.8h0M32.0,340.8h0M20.8,331.1h0M26.2,336.2h0M31.5,341.4h0M20.6,331.4h0M25.8,336.6h0M30.9,341.9h0M20.3,331.6h0M25.3,337.0h0M30.4,342.4h0M20.0,331.9h0M24.9,337.4h0M29.8,343.0h0M19.7,332.1h0M24.5,337.8h0M29.2,343.5h0M19.4,332.4h0M24.0,338.2h0M28.6,344.0h0M19.1,332.6h0M23.6,338.5h0M28.0,344.4h0M18.8,332.8h0M23.1,338.9h0M27.4,344.9h0M18.5,333.1h0M22.6,339.2h0M26.8,345.3h0M18.2,333.3h0M22.1,339.5h0M26.1,345.8h0M17.8,333.5h0M21.6,339.8h0M25.4,346.2h0M17.5,333.7h0M21.1,340.1h0M24.8,346.6h0M17.1,333.9h0M20.6,340.4h0M24.1,346.9h0M16.8,334.0h0M20.1,340.7h0M23.4,347.3h0M16.5,334.2h0M19.6,340.9h0M22.7,347.6h0M16.1,334.4h0M19.1,341.2h0M22.0,347.9h0M15.7,334.5h0M18.5,341.4h0M21.3,348.2h0M15.4,334.7h0M18.0,341.6h0M20.6,348.5h0M15.0,334.8h0M17.4,341.8h0M19.8,348.8h0M14.7,334.9h0M16.9,342.0h0M19.1,349.0h0M14.3,335.0h0M16.3,342.1h0M18.4,349.3h0M13.9,335.1h0M15.8,342.3h0M17.6,349.5h0M13.5,335.2h0M15.2,342.4h0M16.9,349.6h0M13.2,335.3h0M14.6,342.6h0M16.1,349.8h0M12.8,335.4h0M14.1,342.7h0M15.3,350.0h0M12.4,335.4h0M13.5,342.8h0M14.6,350.1h0M12.0,335.5h0M12.9,342.8h0M13.8,350.2h0M11.6,335.5h0M12.3,342.9h0M13.0,350.3h0M11.2,335.6h0M11.7,342.9h0M12.3,350.3h0M10.8,335.6h0M11.2,343.0h0M11.5,350.4h0M10.5,335.6h0M10.6,343.0h0M10.7,350.4h0M10.1,335.6h0M10.0,343.0h0M9.9,350.4h0M9.7,335.6h0M9.4,343.0h0M9.2,350.4h0M9.3,335.6h0M8.8,343.0h0M8.4,350.3h0M8.9,335.5h0M8.3,342.9h0M7.6,350.3h0" stroke="#000" stroke-width="2.8" stroke-linecap="round" fill="none"/><path d="M100.7,143.2h0M98.8,136.1h0M96.8,128.9h0M94.9,121.8h0M93.0,114.6h0M91.1,107.5h0M89.2,100.3h0M87.3,93.2h0M85.3,86.0h0M83.4,78.9h0M81.5,71.7h0M79.6,64.6h0M77.7,57.4h0M75.8,50.3h0M73.9,43.1h0M71.9,36.0h0M70.0,28.8h0M68.1,21.7h0M66.2,14.5h0M64.3,7.4h0M62.4,0.2h0M103.2,150.2h0M101.9,142.9h0M100.6,135.6h0M99.4,128.3h0M98.1,121.1h0M96.8,113.8h0M95.5,106.5h0M94.2,99.2h0M92.9,91.9h0M91.7,84.6h0M90.4,77.3h0M89.1,70.0h0M87.8,62.8h0M86.5,55.5h0M85.2,48.2h0M83.9,40.9h0M82.7,33.6h0M81.4,26.3h0M80.1,19.0h0M78.8,11.7h0M77.5,4.5h0M103.9,150.1h0M103.2,142.8h0M102.6,135.4h0M101.9,128.0h0M101.3,120.6h0M100.6,113.3h0M100.0,105.9h0M99.3,98.5h0M98.7,91.2h0M98.1,83.8h0M97.4,76.4h0M96.8,69.0h0M96.1,61.7h0M95.5,54.3h0M94.2,39.6h0M93.5,32.2h0M92.9,24.8h0M92.2,17.4h0M91.6,10.1h0M91.0,2.7h0M104.5,150.1h0M104.5,142.7h0M104.5,135.3h0M104.5,127.9h0M104.5,120.5h0M104.5,113.1h0M104.5,105.7h0M104.5,98.3h0M104.5,90.9h0M104.5,83.5h0M104.5,76.1h0M104.5,68.7h0M104.5,61.3h0M104.5,53.9h0M104.5,46.5h0M104.5,39.1h0M104.5,31.7h0M104.5,24.3h0M104.5,16.9h0M104.5,9.5h0M104.5,2.1h0M105.1,150.1h0M105.8,142.8h0M106.4,135.4h0M107.1,128.0h0M107.7,120.6h0M108.4,113.3h0M109.0,105.9h0M109.7,98.5h0M110.3,91.2h0M110.9,83.8h0M111.6,76.4h0M112.2,69.0h0M112.9,61.7h0M113.5,54.3h0M114.2,46.9h0M114.8,39.6h0M115.5,32.2h0M116.1,24.8h0M116.8,17.4h0M117.4,10.1h0M118.0,2.7h0M105.8,150.2h0M107.1,142.9h0M108.4,135.6h0M109.6,128.3h0M110.9,121.1h0M112.2,113.8h0M113.5,106.5h0M114.8,99.2h0M116.1,91.9h0M117.3,84.6h0M118.6,77.3h0M119.9,70.0h0M121.2,62.8h0M122.5,55.5h0M123.8,48.2h0M125.1,40.9h0M126.3,33.6h0M127.6,26.3h0M128.9,19.0h0M130.2,11.7h0M131.5,4.5h0M106.4,150.4h0M108.3,143.2h0M110.2,136.1h0M112.2,128.9h0M114.1,121.8h0M116.0,114.6h0M117.9,107.5h0M119.8,100.3h0M121.7,93.2h0M123.7,86.0h0M125.6,78.9h0M127.5,71.7h0M129.4,64.6h0M131.3,57.4h0M133.2,50.3h0M135.1,43.1h0M137.1,36.0h0M139.0,28.8h0M140.9,21.7h0M142.8,14.5h0M144.7,7.4h0M146.6,0.2h0M107.0,150.5h0M109.6,143.6h0M112.1,136.6h0M114.6,129.7h0M117.2,122.7h0M119.7,115.8h0M122.2,108.8h0M124.7,101.9h0M127.3,94.9h0M129.8,88.0h0M132.3,81.0h0M134.9,74.1h0M137.4,67.1h0M139.9,60.1h0M142.5,53.2h0M145.0,46.2h0M147.5,39.3h0M150.1,32.3h0M152.6,25.4h0M155.1,18.4h0M157.6,11.5h0M160.2,4.5h0M107.6,150.8h0M110.8,144.1h0M113.9,137.4h0M117.0,130.7h0M120.1,124.0h0M123.3,117.3h0M126.4,110.6h0M129.5,103.8h0M132.6,97.1h0M135.8,90.4h0M138.9,83.7h0M142.0,77.0h0M145.2,70.3h0M148.3,63.6h0M151.4,56.9h0M154.5,50.2h0M157.7,43.5h0M160.8,36.8h0M163.9,30.1h0M167.0,23.4h0M170.2,16.7h0M173.3,10.0h0M108.2,151.1h0M111.9,144.7h0M115.6,138.3h0M119.3,131.9h0M123.0,125.5h0M126.7,119.0h0M130.4,112.6h0M134.1,106.2h0M137.8,99.8h0M141.5,93.4h0M145.2,87.0h0M148.9,80.6h0M152.6,74.2h0M156.3,67.8h0M160.0,61.4h0M163.7,55.0h0M167.4,48.6h0M171.1,42.1h0M174.8,35.7h0M178.5,29.3h0M182.2,22.9h0M185.9,16.5h0M189.6,10.1h0M193.3,3.7h0M108.7,151.4h0M113.0,145.4h0M117.2,139.3h0M121.5,133.3h0M125.7,127.2h0M130.0,121.1h0M134.2,115.1h0M138.5,109.0h0M142.7,102.9h0M146.9,96.9h0M151.2,90.8h0M155.4,84.8h0M159.7,78.7h0M163.9,72.6h0M172.4,60.5h0M176.7,54.5h0M185.1,42.3h0M189.4,36.3h0M193.6,30.2h0M197.9,24.1h0M202.1,18.1h0M206.4,12.0h0M210.6,6.0h0M214.9,-0.1h0M109.3,151.8h0M114.0,146.2h0M118.8,140.5h0M123.5,134.8h0M128.3,129.2h0M133.0,123.5h0M137.8,117.8h0M142.6,112.2h0M147.3,106.5h0M152.1,100.8h0M156.8,95.1h0M161.6,89.5h0M166.3,83.8h0M171.1,78.1h0M175.8,72.5h0M180.6,66.8h0M190.1,55.5h0M194.9,49.8h0M199.6,44.1h0M204.4,38.5h0M209.1,32.8h0M213.9,27.1h0M218.7,21.5h0M223.4,15.8h0M228.2,10.1h0M232.9,4.4h0M109.7,152.3h0M115.0,147.0h0M120.2,141.8h0M125.4,136.6h0M130.7,131.3h0M135.9,126.1h0M141.1,120.9h0M146.4,115.6h0M151.6,110.4h0M156.8,105.2h0M162.1,99.9h0M167.3,94.7h0M172.5,89.5h0M177.8,84.2h0M183.0,79.0h0M188.2,73.8h0M193.5,68.5h0M203.9,58.1h0M209.2,52.8h0M214.4,47.6h0M219.6,42.4h0M230.1,31.9h0M235.3,26.7h0M240.5,21.5h0M245.8,16.2h0M251.0,11.0h0M256.2,5.8h0M261.5,0.5h0M110.2,152.7h0M115.8,148.0h0M121.5,143.2h0M127.2,138.5h0M132.8,133.7h0M138.5,129.0h0M144.2,124.2h0M149.8,119.4h0M155.5,114.7h0M161.2,109.9h0M166.9,105.2h0M172.5,100.4h0M178.2,95.7h0M183.9,90.9h0M195.2,81.4h0M200.9,76.6h0M206.5,71.9h0M212.2,67.1h0M217.9,62.4h0M223.5,57.6h0M229.2,52.9h0M234.9,48.1h0M240.5,43.3h0M246.2,38.6h0M251.9,33.8h0M257.6,29.1h0M263.2,24.3h0M268.9,19.6h0M274.6,14.8h0M280.2,10.0h0M285.9,5.3h0M291.6,0.5h0M110.6,153.3h0M116.6,149.0h0M122.7,144.8h0M128.7,140.5h0M134.8,136.3h0M140.9,132.0h0M146.9,127.8h0M153.0,123.5h0M159.1,119.3h0M165.1,115.1h0M171.2,110.8h0M177.2,106.6h0M183.3,102.3h0M189.4,98.1h0M195.4,93.8h0M201.5,89.6h0M207.5,85.3h0M213.6,81.1h0M219.7,76.9h0M225.7,72.6h0M231.8,68.4h0M237.9,64.1h0M243.9,59.9h0M250.0,55.6h0M262.1,47.1h0M268.2,42.9h0M274.2,38.7h0M280.3,34.4h0M286.4,30.2h0M292.4,25.9h0M304.5,17.4h0M310.6,13.2h0M316.7,8.9h0M322.7,4.7h0M328.8,0.5h0M110.9,153.8h0M117.3,150.1h0M123.7,146.4h0M130.1,142.7h0M136.5,139.0h0M143.0,135.3h0M149.4,131.6h0M155.8,127.9h0M162.2,124.2h0M168.6,120.5h0M175.0,116.8h0M181.4,113.1h0M187.8,109.4h0M194.2,105.7h0M200.6,102.0h0M207.0,98.3h0M213.4,94.6h0M219.9,90.9h0M226.3,87.2h0M232.7,83.5h0M239.1,79.8h0M245.5,76.1h0M251.9,72.4h0M258.3,68.7h0M264.7,65.0h0M271.1,61.3h0M277.5,57.6h0M283.9,53.9h0M290.3,50.2h0M296.8,46.5h0M303.2,42.8h0M309.6,39.1h0M316.0,35.4h0M322.4,31.7h0M328.8,28.0h0M341.6,20.6h0M348.0,16.9h0M111.2,154.4h0M117.9,151.2h0M124.6,148.1h0M131.3,145.0h0M138.0,141.9h0M144.7,138.7h0M151.4,135.6h0M158.2,132.5h0M164.9,129.4h0M171.6,126.2h0M178.3,123.1h0M185.0,120.0h0M191.7,116.8h0M198.4,113.7h0M205.1,110.6h0M211.8,107.5h0M218.5,104.3h0M225.2,101.2h0M231.9,98.1h0M238.6,95.0h0M245.3,91.8h0M252.0,88.7h0M258.8,85.6h0M265.5,82.4h0M272.2,79.3h0M278.9,76.2h0M285.6,73.1h0M292.3,69.9h0M299.0,66.8h0M305.7,63.7h0M312.4,60.6h0M319.1,57.4h0M325.8,54.3h0M332.5,51.2h0M339.2,48.0h0M345.9,44.9h0M111.5,155.0h0M118.4,152.4h0M125.4,149.9h0M132.3,147.4h0M139.3,144.8h0M146.2,142.3h0M153.2,139.8h0M160.1,137.3h0M167.1,134.7h0M174.0,132.2h0M181.0,129.7h0M187.9,127.1h0M194.9,124.6h0M201.9,122.1h0M208.8,119.5h0M215.8,117.0h0M222.7,114.5h0M229.7,111.9h0M236.6,109.4h0M243.6,106.9h0M250.5,104.4h0M257.5,101.8h0M264.4,99.3h0M278.3,94.2h0M285.3,91.7h0M292.3,89.2h0M306.2,84.1h0M320.1,79.0h0M327.0,76.5h0M334.0,74.0h0M347.9,68.9h0M111.6,155.6h0M118.8,153.7h0M125.9,151.8h0M133.1,149.8h0M140.2,147.9h0M147.4,146.0h0M154.5,144.1h0M161.7,142.2h0M168.8,140.3h0M176.0,138.3h0M183.1,136.4h0M190.3,134.5h0M197.4,132.6h0M204.6,130.7h0M211.7,128.8h0M218.9,126.9h0M226.0,124.9h0M233.2,123.0h0M240.3,121.1h0M247.5,119.2h0M254.6,117.3h0M261.8,115.4h0M276.0,111.5h0M283.2,109.6h0M290.3,107.7h0M297.5,105.8h0M304.6,103.9h0M311.8,102.0h0M318.9,100.0h0M326.1,98.1h0M340.4,94.3h0M347.5,92.4h0M111.8,156.2h0M119.1,154.9h0M126.4,153.6h0M133.7,152.4h0M140.9,151.1h0M148.2,149.8h0M155.5,148.5h0M162.8,147.2h0M170.1,145.9h0M177.4,144.7h0M184.7,143.4h0M192.0,142.1h0M199.2,140.8h0M206.5,139.5h0M213.8,138.2h0M221.1,136.9h0M228.4,135.7h0M235.7,134.4h0M243.0,133.1h0M250.3,131.8h0M257.5,130.5h0M264.8,129.2h0M272.1,127.9h0M279.4,126.7h0M286.7,125.4h0M294.0,124.1h0M301.3,122.8h0M308.6,121.5h0M315.8,120.2h0M323.1,119.0h0M330.4,117.7h0M337.7,116.4h0M345.0,115.1h0M111.9,156.9h0M119.2,156.2h0M126.6,155.6h0M134.0,154.9h0M141.4,154.3h0M148.7,153.6h0M156.1,153.0h0M163.5,152.3h0M170.8,151.7h0M178.2,151.1h0M185.6,150.4h0M193.0,149.8h0M200.3,149.1h0M207.7,148.5h0M215.1,147.8h0M222.4,147.2h0M237.2,145.9h0M244.6,145.2h0M251.9,144.6h0M259.3,144.0h0M266.7,143.3h0M274.1,142.7h0M281.4,142.0h0M288.8,141.4h0M296.2,140.7h0M303.5,140.1h0M310.9,139.4h0M318.3,138.8h0M325.7,138.2h0M333.0,137.5h0M347.8,136.2h0M111.9,157.5h0M119.3,157.5h0M126.7,157.5h0M134.1,157.5h0M141.5,157.5h0M148.9,157.5h0M156.3,157.5h0M163.7,157.5h0M171.1,157.5h0M178.5,157.5h0M185.9,157.5h0M193.3,157.5h0M200.7,157.5h0M208.1,157.5h0M215.5,157.5h0M222.9,157.5h0M230.3,157.5h0M237.7,157.5h0M245.1,157.5h0M252.5,157.5h0M259.9,157.5h0M267.3,157.5h0M274.7,157.5h0M282.1,157.5h0M289.5,157.5h0M296.9,157.5h0M304.3,157.5h0M311.7,157.5h0M319.1,157.5h0M326.5,157.5h0M333.9,157.5h0M341.3,157.5h0M348.7,157.5h0M111.9,158.1h0M119.2,158.8h0M126.6,159.4h0M134.0,160.1h0M141.4,160.7h0M148.7,161.4h0M156.1,162.0h0M163.5,162.7h0M170.8,163.3h0M178.2,163.9h0M185.6,164.6h0M193.0,165.2h0M200.3,165.9h0M215.1,167.2h0M222.4,167.8h0M229.8,168.5h0M237.2,169.1h0M244.6,169.8h0M251.9,170.4h0M259.3,171.0h0M266.7,171.7h0M274.1,172.3h0M281.4,173.0h0M288.8,173.6h0M296.2,174.3h0M303.5,174.9h0M310.9,175.6h0M318.3,176.2h0M325.7,176.8h0M333.0,177.5h0M340.4,178.1h0M347.8,178.8h0M111.8,158.8h0M119.1,160.1h0M126.4,161.4h0M133.7,162.6h0M140.9,163.9h0M148.2,165.2h0M155.5,166.5h0M162.8,167.8h0M170.1,169.1h0M177.4,170.3h0M184.7,171.6h0M192.0,172.9h0M199.2,174.2h0M206.5,175.5h0M213.8,176.8h0M221.1,178.1h0M228.4,179.3h0M243.0,181.9h0M250.3,183.2h0M264.8,185.8h0M272.1,187.1h0M279.4,188.3h0M286.7,189.6h0M294.0,190.9h0M301.3,192.2h0M308.6,193.5h0M315.8,194.8h0M323.1,196.0h0M330.4,197.3h0M337.7,198.6h0M345.0,199.9h0M111.6,159.4h0M118.8,161.3h0M125.9,163.2h0M133.1,165.2h0M140.2,167.1h0M147.4,169.0h0M154.5,170.9h0M161.7,172.8h0M168.8,174.7h0M176.0,176.7h0M183.1,178.6h0M190.3,180.5h0M197.4,182.4h0M204.6,184.3h0M211.7,186.2h0M218.9,188.1h0M226.0,190.1h0M233.2,192.0h0M240.3,193.9h0M247.5,195.8h0M254.6,197.7h0M261.8,199.6h0M276.0,203.5h0M283.2,205.4h0M290.3,207.3h0M297.5,209.2h0M304.6,211.1h0M311.8,213.0h0M318.9,215.0h0M326.1,216.9h0M340.4,220.7h0M347.5,222.6h0M111.5,160.0h0M118.4,162.6h0M125.4,165.1h0M132.3,167.6h0M139.3,170.2h0M146.2,172.7h0M153.2,175.2h0M160.1,177.7h0M167.1,180.3h0M174.0,182.8h0M181.0,185.3h0M187.9,187.9h0M194.9,190.4h0M201.9,192.9h0M208.8,195.5h0M215.8,198.0h0M222.7,200.5h0M229.7,203.1h0M236.6,205.6h0M243.6,208.1h0M250.5,210.6h0M257.5,213.2h0M264.4,215.7h0M271.4,218.2h0M278.3,220.8h0M285.3,223.3h0M292.3,225.8h0M299.2,228.4h0M306.2,230.9h0M313.1,233.4h0M320.1,236.0h0M327.0,238.5h0M334.0,241.0h0M340.9,243.6h0M347.9,246.1h0M111.2,160.6h0M117.9,163.8h0M124.6,166.9h0M131.3,170.0h0M138.0,173.1h0M144.7,176.3h0M151.4,179.4h0M158.2,182.5h0M164.9,185.6h0M171.6,188.8h0M178.3,191.9h0M185.0,195.0h0M191.7,198.2h0M198.4,201.3h0M205.1,204.4h0M211.8,207.5h0M218.5,210.7h0M225.2,213.8h0M231.9,216.9h0M238.6,220.0h0M245.3,223.2h0M252.0,226.3h0M258.8,229.4h0M265.5,232.6h0M272.2,235.7h0M278.9,238.8h0M285.6,241.9h0M292.3,245.1h0M299.0,248.2h0M305.7,251.3h0M312.4,254.4h0M319.1,257.6h0M325.8,260.7h0M332.5,263.8h0M339.2,267.0h0M110.9,161.2h0M117.3,164.9h0M123.7,168.6h0M130.1,172.3h0M136.5,176.0h0M143.0,179.7h0M149.4,183.4h0M155.8,187.1h0M162.2,190.8h0M168.6,194.5h0M175.0,198.2h0M181.4,201.9h0M187.8,205.6h0M194.2,209.3h0M200.6,213.0h0M207.0,216.7h0M219.9,224.1h0M232.7,231.5h0M245.5,238.9h0M258.3,246.3h0M277.5,257.4h0M290.3,264.8h0M303.2,272.2h0M316.0,279.6h0M110.6,161.7h0M116.6,166.0h0M122.7,170.2h0M128.7,174.5h0M134.8,178.7h0M140.9,183.0h0M146.9,187.2h0M153.0,191.5h0M159.1,195.7h0M165.1,199.9h0M171.2,204.2h0M177.2,208.4h0M183.3,212.7h0M195.4,221.2h0M201.5,225.4h0M207.5,229.7h0M225.7,242.4h0M237.9,250.9h0M243.9,255.1h0M262.1,267.9h0M274.2,276.3h0M280.3,280.6h0M304.5,297.6h0M322.7,310.3h0M340.9,323.0h0M110.2,162.3h0M115.8,167.0h0M121.5,171.8h0M127.2,176.5h0M132.8,181.3h0M138.5,186.0h0M144.2,190.8h0M149.8,195.6h0M155.5,200.3h0M161.2,205.1h0M166.9,209.8h0M172.5,214.6h0M178.2,219.3h0M183.9,224.1h0M189.5,228.8h0M195.2,233.6h0M206.5,243.1h0M229.2,262.1h0M251.9,281.2h0M268.9,295.4h0M274.6,300.2h0M285.9,309.7h0M109.7,162.7h0M115.0,168.0h0M120.2,173.2h0M125.4,178.4h0M130.7,183.7h0M135.9,188.9h0M141.1,194.1h0M146.4,199.4h0M151.6,204.6h0M156.8,209.8h0M162.1,215.1h0M167.3,220.3h0M172.5,225.5h0M177.8,230.8h0M183.0,236.0h0M188.2,241.2h0M198.7,251.7h0M203.9,256.9h0M214.4,267.4h0M224.8,277.8h0M230.1,283.1h0M235.3,288.3h0M240.5,293.5h0M251.0,304.0h0M261.5,314.5h0M271.9,324.9h0M277.2,330.2h0M109.3,163.2h0M114.0,168.8h0M118.8,174.5h0M123.5,180.2h0M128.3,185.8h0M133.0,191.5h0M137.8,197.2h0M142.6,202.8h0M147.3,208.5h0M152.1,214.2h0M156.8,219.9h0M161.6,225.5h0M166.3,231.2h0M171.1,236.9h0M175.8,242.5h0M180.6,248.2h0M194.9,265.2h0M204.4,276.5h0M213.9,287.9h0M218.7,293.5h0M223.4,299.2h0M228.2,304.9h0M242.4,321.9h0M247.2,327.6h0M108.7,163.6h0M113.0,169.6h0M117.2,175.7h0M121.5,181.7h0M125.7,187.8h0M130.0,193.9h0M134.2,199.9h0M138.5,206.0h0M142.7,212.1h0M146.9,218.1h0M151.2,224.2h0M155.4,230.2h0M111.9,170.3h0M115.6,176.7h0M119.3,183.1h0M123.0,189.5h0M126.7,196.0h0M130.4,202.4h0M134.1,208.8h0M137.8,215.2h0M141.5,221.6h0M145.2,228.0h0M148.9,234.4h0" stroke="#f00" stroke-width="2.8" stroke-linecap="round" fill="none"/><path d="M65.5,286.1h0M67.0,293.5h0M68.6,300.9h0M70.2,308.4h0M64.8,286.2h0M66.1,293.7h0M67.3,301.2h0M64.2,286.3h0M65.1,293.8h0M66.9,308.9h0M64.1,293.9h0M64.7,301.5h0M65.3,309.1h0M62.8,286.4h0M63.1,294.0h0M63.4,301.6h0M63.6,309.2h0M62.2,286.4h0M62.0,301.6h0M62.0,309.2h0M61.5,286.4h0M61.1,294.0h0M60.3,309.1h0M60.8,286.3h0M60.1,293.9h0M59.4,301.5h0M58.7,309.0h0M59.1,293.8h0M58.1,301.3h0M57.0,308.8h0M59.5,286.1h0M58.1,293.6h0M56.8,301.1h0M55.4,308.6h0M58.9,286.0h0M57.2,293.4h0M55.5,300.8h0M53.8,308.2h0M58.2,285.8h0M56.2,293.2h0M54.2,300.5h0" stroke="#f00" stroke-width="2.8" stroke-linecap="round" fill="none"/><path d="M104.5,150.1h0M104.5,142.7h0M104.5,135.3h0M104.5,127.9h0M104.5,120.5h0M104.7,150.1h0M104.8,142.7h0M105.0,135.3h0M105.1,127.9h0M105.3,120.5h0M104.8,150.1h0M105.1,142.7h0M105.4,135.3h0M105.7,127.9h0M106.0,120.5h0M105.0,150.1h0M105.4,142.7h0M105.9,135.3h0M106.4,128.0h0M106.8,120.6h0M105.1,150.1h0M105.7,142.8h0M106.4,135.4h0M107.0,128.0h0M107.6,120.6h0M105.3,150.1h0M106.0,142.8h0M106.8,135.4h0M107.6,128.1h0M108.4,120.7h0M105.4,150.2h0M106.4,142.8h0M107.3,135.5h0M108.2,128.1h0M109.1,120.8h0M105.6,150.2h0M106.7,142.9h0M107.7,135.5h0M108.8,128.2h0M109.9,120.9h0M105.7,150.2h0M107.0,142.9h0M108.2,135.6h0M109.4,128.3h0M110.7,121.0h0M105.9,150.2h0M107.3,143.0h0M108.7,135.7h0M110.0,128.4h0M111.4,121.2h0M106.0,150.3h0M107.6,143.0h0M109.1,135.8h0M110.7,128.5h0M112.2,121.3h0M106.2,150.3h0M107.9,143.1h0M109.6,135.9h0M111.3,128.7h0M112.9,121.5h0M106.3,150.3h0M108.2,143.2h0M110.0,136.0h0M111.9,128.8h0M113.7,121.7h0M106.5,150.4h0M108.5,143.2h0M110.5,136.1h0M112.5,129.0h0M114.5,121.9h0M106.6,150.4h0M108.8,143.3h0M110.9,136.2h0M113.1,129.2h0M115.2,122.1h0M106.8,150.5h0M109.1,143.4h0M111.4,136.4h0M113.6,129.3h0M115.9,122.3h0M106.9,150.5h0M109.4,143.5h0M111.8,136.5h0M114.2,129.5h0M116.7,122.6h0M107.1,150.6h0M109.7,143.6h0M112.2,136.7h0M114.8,129.8h0M117.4,122.8h0M107.2,150.6h0M109.9,143.7h0M112.7,136.9h0M115.4,130.0h0M118.1,123.1h0M107.4,150.7h0M110.2,143.9h0M113.1,137.0h0M116.0,130.2h0M118.8,123.4h0M107.5,150.7h0M110.5,144.0h0M113.5,137.2h0M116.5,130.5h0M119.5,123.7h0M107.7,150.8h0M110.8,144.1h0M114.0,137.4h0M117.1,130.7h0M120.3,124.0h0M107.8,150.9h0M111.1,144.2h0M114.4,137.6h0M117.7,131.0h0M121.0,124.4h0M107.9,150.9h0M111.4,144.4h0M114.8,137.8h0M118.2,131.3h0M121.6,124.7h0M108.1,151.0h0M111.6,144.5h0M115.2,138.0h0M118.8,131.6h0M122.3,125.1h0M108.2,151.1h0M111.9,144.7h0M115.6,138.3h0M119.3,131.9h0M123.0,125.5h0M108.3,151.2h0M112.2,144.8h0M116.0,138.5h0M119.8,132.2h0M123.7,125.9h0M108.5,151.3h0M112.4,145.0h0M116.4,138.8h0M120.4,132.5h0M124.3,126.3h0M108.6,151.3h0M112.7,145.2h0M116.8,139.0h0M120.9,132.8h0M125.0,126.7h0M108.7,151.4h0M112.9,145.3h0M117.2,139.3h0M121.4,133.2h0M125.6,127.1h0M108.8,151.5h0M113.2,145.5h0M117.5,139.5h0M121.9,133.6h0M126.2,127.6h0M109.0,151.6h0M113.4,145.7h0M117.9,139.8h0M122.4,133.9h0M126.9,128.0h0M109.1,151.7h0M113.7,145.9h0M118.3,140.1h0M122.9,134.3h0M127.5,128.5h0M109.2,151.8h0M113.9,146.1h0M118.7,140.4h0M123.4,134.7h0M128.1,129.0h0M109.3,151.9h0M114.2,146.3h0M119.0,140.7h0M123.8,135.1h0M128.7,129.5h0M109.5,152.0h0M114.4,146.5h0M119.4,141.0h0M124.3,135.5h0M129.3,130.0h0M109.6,152.1h0M114.6,146.7h0M119.7,141.3h0M124.8,135.9h0M129.8,130.5h0M109.7,152.2h0M114.9,146.9h0M120.0,141.6h0M125.2,136.4h0M130.4,131.1h0M109.8,152.3h0M115.1,147.1h0M120.4,142.0h0M125.6,136.8h0M130.9,131.6h0M109.9,152.4h0M115.3,147.4h0M120.7,142.3h0M126.1,137.2h0M131.5,132.2h0M110.0,152.5h0M115.5,147.6h0M121.0,142.6h0M126.5,137.7h0M132.0,132.7h0M110.1,152.7h0M115.7,147.8h0M121.3,143.0h0M126.9,138.2h0M132.5,133.3h0M110.2,152.8h0M115.9,148.1h0M121.6,143.3h0M127.3,138.6h0M133.0,133.9h0M110.3,152.9h0M116.1,148.3h0M121.9,143.7h0M127.7,139.1h0M133.5,134.5h0M110.4,153.0h0M116.3,148.6h0M122.2,144.1h0M128.1,139.6h0M134.0,135.1h0M110.5,153.2h0M116.5,148.8h0M122.5,144.5h0M128.4,140.1h0M134.4,135.8h0M110.6,153.3h0M116.7,149.1h0M122.7,144.8h0M128.8,140.6h0M134.9,136.4h0M110.7,153.4h0M116.8,149.3h0M123.0,145.2h0M129.2,141.1h0M135.3,137.0h0M110.7,153.5h0M117.0,149.6h0M123.2,145.6h0M129.5,141.6h0M135.7,137.7h0M110.8,153.7h0M117.2,149.8h0M123.5,146.0h0M129.8,142.2h0M136.1,138.3h0M110.9,153.8h0M117.3,150.1h0M123.7,146.4h0M130.1,142.7h0M136.5,139.0h0M111.0,153.9h0M117.5,150.4h0M124.0,146.8h0M130.4,143.2h0M136.9,139.7h0M111.1,154.1h0M117.6,150.6h0M124.2,147.2h0M130.7,143.8h0M137.3,140.4h0M111.1,154.2h0M117.8,150.9h0M124.4,147.6h0M131.0,144.3h0M137.6,141.0h0M111.2,154.3h0M117.9,151.2h0M124.6,148.0h0M131.3,144.9h0M138.0,141.7h0M111.3,154.5h0M118.0,151.5h0M124.8,148.5h0M131.5,145.5h0M138.3,142.5h0M111.3,154.6h0M118.1,151.8h0M125.0,148.9h0M131.8,146.0h0M138.6,143.2h0M111.4,154.8h0M118.3,152.1h0M125.1,149.3h0M132.0,146.6h0M138.9,143.9h0M111.4,154.9h0M118.4,152.3h0M125.3,149.8h0M132.2,147.2h0M139.2,144.6h0M111.5,155.1h0M118.5,152.6h0M125.5,150.2h0M132.5,147.8h0M139.4,145.3h0M111.5,155.2h0M118.6,152.9h0M125.6,150.6h0M132.7,148.4h0M139.7,146.1h0M111.6,155.4h0M118.7,153.2h0M125.8,151.1h0M132.8,148.9h0M139.9,146.8h0M111.6,155.5h0M118.8,153.5h0M125.9,151.5h0M133.0,149.5h0M140.1,147.5h0M111.7,155.7h0M118.8,153.8h0M126.0,152.0h0M133.2,150.1h0M140.3,148.3h0M111.7,155.8h0M118.9,154.1h0M126.1,152.4h0M133.3,150.7h0M140.5,149.1h0M111.7,156.0h0M119.0,154.4h0M126.2,152.9h0M133.5,151.3h0M140.7,149.8h0M111.8,156.1h0M119.0,154.7h0M126.3,153.3h0M133.6,152.0h0M140.8,150.6h0M111.8,156.3h0M119.1,155.0h0M126.4,153.8h0M133.7,152.6h0M141.0,151.3h0M111.8,156.4h0M119.1,155.3h0M126.5,154.3h0M133.8,153.2h0M141.1,152.1h0M111.8,156.6h0M119.2,155.6h0M126.5,154.7h0M133.9,153.8h0M141.2,152.9h0M111.9,156.7h0M119.2,156.0h0M126.6,155.2h0M133.9,154.4h0M141.3,153.6h0M111.9,156.9h0M119.2,156.3h0M126.6,155.6h0M134.0,155.0h0M141.4,154.4h0M111.9,157.0h0M119.3,156.6h0M126.7,156.1h0M134.0,155.6h0M141.4,155.2h0M111.9,157.2h0M119.3,156.9h0M126.7,156.6h0M134.1,156.3h0M141.5,156.0h0M111.9,157.3h0M119.3,157.2h0M126.7,157.0h0M134.1,156.9h0M141.5,156.7h0M111.9,157.5h0M119.3,157.5h0M126.7,157.5h0M134.1,157.5h0M141.5,157.5h0M111.9,157.7h0M119.3,157.8h0M126.7,158.0h0M134.1,158.1h0M141.5,158.3h0M111.9,157.8h0M119.3,158.1h0M126.7,158.4h0M134.1,158.7h0M141.5,159.0h0M111.9,158.0h0M119.3,158.4h0M126.7,158.9h0M134.0,159.4h0M141.4,159.8h0M111.9,158.1h0M119.2,158.7h0M126.6,159.4h0M134.0,160.0h0M141.4,160.6h0M111.9,158.3h0M119.2,159.0h0M126.6,159.8h0M133.9,160.6h0M141.3,161.4h0M111.8,158.4h0M119.2,159.4h0M126.5,160.3h0M133.9,161.2h0M141.2,162.1h0M111.8,158.6h0M119.1,159.7h0M126.5,160.7h0M133.8,161.8h0M141.1,162.9h0M111.8,158.7h0M119.1,160.0h0M126.4,161.2h0M133.7,162.4h0M141.0,163.7h0M111.8,158.9h0M119.0,160.3h0M126.3,161.7h0M133.6,163.0h0M140.8,164.4h0M111.7,159.0h0M119.0,160.6h0M126.2,162.1h0M133.5,163.7h0M140.7,165.2h0M111.7,159.2h0M118.9,160.9h0M126.1,162.6h0M133.3,164.3h0M140.5,165.9h0M111.7,159.3h0M118.8,161.2h0M126.0,163.0h0M133.2,164.9h0M140.3,166.7h0M111.6,159.5h0M118.8,161.5h0M125.9,163.5h0M133.0,165.5h0M140.1,167.5h0M111.6,159.6h0M118.7,161.8h0M125.8,163.9h0M132.8,166.1h0M139.9,168.2h0M111.5,159.8h0M118.6,162.1h0M125.6,164.4h0M132.7,166.6h0M139.7,168.9h0M111.5,159.9h0M118.5,162.4h0M125.5,164.8h0M132.5,167.2h0M139.4,169.7h0M111.4,160.1h0M118.4,162.7h0M125.3,165.2h0M132.2,167.8h0M139.2,170.4h0M111.4,160.2h0M118.3,162.9h0M125.1,165.7h0M132.0,168.4h0M138.9,171.1h0M111.3,160.4h0M118.1,163.2h0M125.0,166.1h0M131.8,169.0h0M138.6,171.8h0M111.3,160.5h0M118.0,163.5h0M124.8,166.5h0M131.5,169.5h0M138.3,172.5h0M111.2,160.7h0M117.9,163.8h0M124.6,167.0h0M131.3,170.1h0M138.0,173.3h0M111.1,160.8h0M117.8,164.1h0M124.4,167.4h0M131.0,170.7h0M137.6,174.0h0M111.1,160.9h0M117.6,164.4h0M124.2,167.8h0M130.7,171.2h0M137.3,174.6h0M111.0,161.1h0M117.5,164.6h0M124.0,168.2h0M130.4,171.8h0M136.9,175.3h0M110.9,161.2h0M117.3,164.9h0M123.7,168.6h0M130.1,172.3h0M136.5,176.0h0M110.8,161.3h0M117.2,165.2h0M123.5,169.0h0M129.8,172.8h0M136.1,176.7h0M110.7,161.5h0M117.0,165.4h0M123.2,169.4h0M129.5,173.4h0M135.7,177.3h0M110.7,161.6h0M116.8,165.7h0M123.0,169.8h0M129.2,173.9h0M135.3,178.0h0M110.6,161.7h0M116.7,165.9h0M122.7,170.2h0M128.8,174.4h0M134.9,178.6h0M110.5,161.8h0M116.5,166.2h0M122.5,170.5h0M128.4,174.9h0M134.4,179.2h0M110.4,162.0h0M116.3,166.4h0M122.2,170.9h0M128.1,175.4h0M134.0,179.9h0M110.3,162.1h0M116.1,166.7h0M121.9,171.3h0M127.7,175.9h0M133.5,180.5h0M110.2,162.2h0M115.9,166.9h0M121.6,171.7h0M127.3,176.4h0M133.0,181.1h0M110.1,162.3h0M115.7,167.2h0M121.3,172.0h0M126.9,176.8h0M132.5,181.7h0M110.0,162.5h0M115.5,167.4h0M121.0,172.4h0M126.5,177.3h0M132.0,182.3h0M109.9,162.6h0M115.3,167.6h0M120.7,172.7h0M126.1,177.8h0M131.5,182.8h0M109.8,162.7h0M115.1,167.9h0M120.4,173.0h0M125.6,178.2h0M130.9,183.4h0M109.7,162.8h0M114.9,168.1h0M120.0,173.4h0M125.2,178.6h0M130.4,183.9h0M109.6,162.9h0M114.6,168.3h0M119.7,173.7h0M124.8,179.1h0M129.8,184.5h0M109.5,163.0h0M114.4,168.5h0M119.4,174.0h0M124.3,179.5h0M129.3,185.0h0M109.3,163.1h0M114.2,168.7h0M119.0,174.3h0M123.8,179.9h0M128.7,185.5h0M109.2,163.2h0M113.9,168.9h0M118.7,174.6h0M123.4,180.3h0M128.1,186.0h0M109.1,163.3h0M113.7,169.1h0M118.3,174.9h0M122.9,180.7h0M127.5,186.5h0M109.0,163.4h0M113.4,169.3h0M117.9,175.2h0M122.4,181.1h0M126.9,187.0h0M108.8,163.5h0M113.2,169.5h0M117.5,175.5h0M121.9,181.4h0M126.2,187.4h0M108.7,163.6h0M112.9,169.7h0M117.2,175.7h0M121.4,181.8h0M125.6,187.9h0M108.6,163.7h0M112.7,169.8h0M116.8,176.0h0M120.9,182.2h0M125.0,188.3h0M108.5,163.7h0M112.4,170.0h0M116.4,176.2h0M120.4,182.5h0M124.3,188.7h0M112.2,170.2h0M116.0,176.5h0M119.8,182.8h0M123.7,189.1h0M111.9,170.3h0M115.6,176.7h0M119.3,183.1h0M123.0,189.5h0" stroke="#f00" stroke-width="2.8" stroke-linecap="round" fill="none"/><path d="M65.6,31.4h0M65.6,23.5h0M65.6,15.6h0M66.8,31.5h0M67.5,23.6h0M68.1,15.7h0M67.9,31.6h0M69.3,23.8h0M70.7,16.0h0M69.1,31.9h0M71.1,24.2h0M73.2,16.6h0M70.2,32.2h0M72.9,24.8h0M75.6,17.4h0M71.3,32.7h0M74.6,25.5h0M77.9,18.3h0M72.3,33.2h0M76.2,26.4h0M80.2,19.5h0M88.1,5.8h0M73.3,33.8h0M77.8,27.4h0M82.3,20.9h0M91.4,7.9h0M95.9,1.5h0M74.2,34.5h0M79.3,28.5h0M84.4,22.4h0M94.5,10.3h0M99.6,4.3h0M75.1,35.3h0M80.7,29.7h0M86.2,24.2h0M91.8,18.6h0M97.4,13.0h0M103.0,7.4h0M108.6,1.8h0M75.9,36.2h0M81.9,31.1h0M88.0,26.0h0M94.0,21.0h0M106.1,10.8h0M112.2,5.7h0M76.6,37.1h0M83.0,32.6h0M89.5,28.1h0M96.0,23.5h0M102.5,19.0h0M108.9,14.5h0M115.4,9.9h0M77.2,38.1h0M84.0,34.1h0M90.9,30.2h0M97.7,26.2h0M104.6,22.3h0M77.7,39.1h0M84.9,35.8h0M92.1,32.5h0M99.2,29.1h0M106.4,25.8h0M120.7,19.1h0M78.2,40.2h0M85.6,37.5h0M93.0,34.8h0M100.5,32.1h0M115.3,26.7h0M122.7,24.0h0M78.5,41.3h0M86.2,39.3h0M93.8,37.2h0M101.4,35.2h0M109.1,33.2h0M116.7,31.1h0M124.3,29.1h0M78.8,42.5h0M86.6,41.1h0M94.4,39.7h0M109.9,37.0h0M117.7,35.6h0M125.5,34.2h0M78.9,43.6h0M86.8,42.9h0M94.7,42.3h0M102.6,41.6h0M110.4,40.9h0M118.3,40.2h0M126.2,39.5h0M79.0,44.8h0M86.9,44.8h0M94.8,44.8h0M102.7,44.8h0M118.5,44.8h0M126.4,44.8h0M78.9,46.0h0M86.8,46.7h0M94.7,47.3h0M102.6,48.0h0M110.4,48.7h0M118.3,49.4h0M126.2,50.1h0M78.8,47.1h0M86.6,48.5h0M94.4,49.9h0M102.1,51.2h0M109.9,52.6h0M117.7,54.0h0M125.5,55.4h0M141.0,58.1h0M78.5,48.3h0M86.2,50.3h0M93.8,52.4h0M101.4,54.4h0M109.1,56.4h0M116.7,58.5h0M124.3,60.5h0M78.2,49.4h0M85.6,52.1h0M93.0,54.8h0M100.5,57.5h0M107.9,60.2h0M115.3,62.9h0M122.7,65.6h0M137.6,71.0h0M152.4,76.4h0M159.9,79.1h0M197.0,92.6h0M219.2,100.7h0M77.7,50.5h0M84.9,53.8h0M92.1,57.1h0M99.2,60.5h0M106.4,63.8h0M113.5,67.2h0M120.7,70.5h0M127.9,73.8h0M149.3,83.8h0M185.1,100.5h0M77.2,51.5h0M84.0,55.4h0M90.9,59.4h0M104.6,67.3h0M118.3,75.2h0M138.8,87.0h0M186.7,114.7h0M193.5,118.6h0M76.6,52.5h0M83.0,57.0h0M89.5,61.5h0M96.0,66.1h0M102.5,70.6h0M108.9,75.1h0M141.3,97.8h0M160.7,111.4h0M193.1,134.0h0M212.5,147.6h0M75.9,53.4h0M81.9,58.5h0M88.0,63.6h0M94.0,68.6h0M100.1,73.7h0M106.1,78.8h0M112.2,83.9h0M136.4,104.2h0M75.1,54.3h0M80.7,59.9h0M86.2,65.4h0M91.8,71.0h0M97.4,76.6h0M147.7,126.9h0M74.2,55.1h0M79.3,61.1h0M84.4,67.2h0M89.4,73.2h0M94.5,79.3h0M99.6,85.3h0M104.7,91.4h0M114.8,103.5h0M125.0,115.6h0M135.1,127.7h0M140.2,133.7h0M155.5,151.9h0M175.8,176.1h0M180.9,182.2h0M73.3,55.8h0M77.8,62.2h0M82.3,68.7h0M86.9,75.2h0M95.9,88.1h0M100.5,94.6h0M105.0,101.1h0M118.6,120.5h0M76.2,63.2h0M80.2,70.1h0M84.1,76.9h0M88.1,83.8h0M92.0,90.6h0M96.0,97.5h0M107.8,118.0h0M135.5,165.9h0M151.3,193.2h0M77.9,71.3h0M84.6,85.6h0M88.0,92.7h0M91.3,99.9h0M94.6,107.1h0M124.7,171.5h0M83.7,94.5h0M86.4,101.9h0" stroke="#00f" stroke-width="2.8" stroke-linecap="round" fill="none"/><path d="M69.1,31.9h0M71.1,24.2h0M73.2,16.6h0M75.2,9.0h0M69.3,31.9h0M71.5,24.3h0M73.7,16.8h0M76.0,9.2h0M69.6,32.0h0M72.0,24.5h0M74.3,16.9h0M76.7,9.4h0M69.9,32.1h0M72.4,24.6h0M74.9,17.1h0M77.4,9.6h0M70.1,32.2h0M72.8,24.8h0M75.5,17.3h0M78.2,9.9h0M70.4,32.3h0M73.2,24.9h0M76.1,17.5h0M78.9,10.2h0M70.7,32.4h0M73.6,25.1h0M76.6,17.8h0M79.6,10.5h0M70.9,32.5h0M74.1,25.3h0M77.2,18.0h0M80.3,10.8h0M71.2,32.6h0M74.5,25.4h0M77.8,18.3h0M81.0,11.1h0M71.4,32.7h0M74.9,25.6h0M78.3,18.5h0M81.7,11.4h0M71.7,32.9h0M75.3,25.8h0M78.9,18.8h0M82.4,11.7h0M71.9,33.0h0M75.7,26.0h0M79.4,19.1h0M83.1,12.1h0M72.2,33.1h0M76.1,26.2h0M79.9,19.4h0M83.8,12.5h0M72.4,33.3h0M76.4,26.5h0M80.5,19.7h0M84.5,12.9h0M72.7,33.4h0M76.8,26.7h0M81.0,20.0h0M85.2,13.3h0M72.9,33.6h0M77.2,26.9h0M81.5,20.3h0M85.8,13.7h0M73.1,33.7h0M77.6,27.2h0M82.0,20.6h0M86.5,14.1h0M73.4,33.9h0M77.9,27.4h0M82.5,21.0h0M87.1,14.6h0M73.6,34.0h0M78.3,27.7h0M83.0,21.4h0M87.7,15.0h0M73.8,34.2h0M78.7,28.0h0M83.5,21.7h0M88.3,15.5h0M74.0,34.4h0M79.0,28.2h0M84.0,22.1h0M88.9,16.0h0M74.2,34.6h0M79.3,28.5h0M84.4,22.5h0M89.5,16.5h0M74.5,34.7h0M79.7,28.8h0M84.9,22.9h0M90.1,17.0h0M74.7,34.9h0M80.0,29.1h0M85.4,23.3h0M90.7,17.5h0M74.9,35.1h0M80.3,29.4h0M85.8,23.7h0M91.3,18.0h0M75.1,35.3h0M80.7,29.7h0M86.2,24.2h0M91.8,18.6h0M75.3,35.5h0M81.0,30.1h0M86.7,24.6h0M92.4,19.1h0M75.5,35.7h0M81.3,30.4h0M87.1,25.0h0M92.9,19.7h0M75.7,35.9h0M81.6,30.7h0M87.5,25.5h0M93.4,20.3h0M75.8,36.2h0M81.9,31.1h0M87.9,26.0h0M93.9,20.9h0M76.0,36.4h0M82.2,31.4h0M88.3,26.4h0M94.4,21.5h0M76.2,36.6h0M82.4,31.7h0M88.7,26.9h0M94.9,22.1h0M76.4,36.8h0M82.7,32.1h0M89.0,27.4h0M95.4,22.7h0M76.5,37.0h0M83.0,32.5h0M89.4,27.9h0M95.8,23.3h0M76.7,37.3h0M83.2,32.8h0M89.8,28.4h0M96.3,23.9h0M76.8,37.5h0M83.5,33.2h0M90.1,28.9h0M96.7,24.6h0M77.0,37.7h0M83.7,33.6h0M90.4,29.4h0M97.1,25.2h0M77.1,38.0h0M83.9,34.0h0M90.7,29.9h0M97.5,25.9h0M77.3,38.2h0M84.2,34.3h0M91.0,30.5h0M97.9,26.6h0M77.4,38.5h0M84.4,34.7h0M91.3,31.0h0M98.3,27.3h0M77.5,38.7h0M84.6,35.1h0M91.6,31.5h0M98.7,28.0h0M77.7,39.0h0M84.8,35.5h0M91.9,32.1h0M99.0,28.7h0M77.8,39.2h0M85.0,35.9h0M92.1,32.6h0M99.3,29.4h0M77.9,39.5h0M85.1,36.3h0M92.4,33.2h0M99.6,30.1h0M78.0,39.7h0M85.3,36.8h0M92.6,33.8h0M99.9,30.8h0M78.1,40.0h0M85.5,37.2h0M92.9,34.3h0M100.2,31.5h0M78.2,40.3h0M85.6,37.6h0M93.1,34.9h0M100.5,32.2h0M78.3,40.5h0M85.8,38.0h0M93.3,35.5h0M100.8,33.0h0M78.4,40.8h0M85.9,38.4h0M93.5,36.1h0M101.0,33.7h0M78.5,41.1h0M86.1,38.9h0M93.6,36.7h0M101.2,34.4h0M78.5,41.3h0M86.2,39.3h0M93.8,37.2h0M101.4,35.2h0M78.6,41.6h0M86.3,39.7h0M94.0,37.8h0M101.6,36.0h0M78.7,41.9h0M86.4,40.2h0M94.1,38.4h0M101.8,36.7h0M78.7,42.2h0M86.5,40.6h0M94.2,39.0h0M102.0,37.5h0M78.8,42.4h0M86.6,41.0h0M94.3,39.6h0M102.1,38.2h0M78.8,42.7h0M86.6,41.5h0M94.4,40.2h0M102.2,39.0h0M78.9,43.0h0M86.7,41.9h0M94.5,40.8h0M102.4,39.8h0M78.9,43.3h0M86.8,42.4h0M94.6,41.4h0M102.5,40.5h0M78.9,43.5h0M86.8,42.8h0M94.7,42.1h0M102.5,41.3h0M79.0,43.8h0M86.8,43.2h0M94.7,42.7h0M102.6,42.1h0M79.0,44.1h0M86.9,43.7h0M94.8,43.3h0M102.6,42.9h0M79.0,44.4h0M86.9,44.1h0M94.8,43.9h0M102.7,43.6h0M79.0,44.7h0M86.9,44.6h0M94.8,44.5h0M102.7,44.4h0M79.0,44.9h0M86.9,45.0h0M94.8,45.1h0M102.7,45.2h0M79.0,45.2h0M86.9,45.5h0M94.8,45.7h0M102.7,46.0h0M79.0,45.5h0M86.9,45.9h0M94.8,46.3h0M102.6,46.7h0M79.0,45.8h0M86.8,46.4h0M94.7,46.9h0M102.6,47.5h0M78.9,46.1h0M86.8,46.8h0M94.7,47.5h0M102.5,48.3h0M78.9,46.3h0M86.8,47.2h0M94.6,48.2h0M102.5,49.1h0M78.9,46.6h0M86.7,47.7h0M94.5,48.8h0M102.4,49.8h0M78.8,46.9h0M86.6,48.1h0M94.4,49.4h0M102.2,50.6h0M78.8,47.2h0M86.6,48.6h0M94.3,50.0h0M102.1,51.4h0M78.7,47.4h0M86.5,49.0h0M94.2,50.6h0M102.0,52.1h0M78.7,47.7h0M86.4,49.4h0M94.1,51.2h0M101.8,52.9h0M78.6,48.0h0M86.3,49.9h0M94.0,51.8h0M101.6,53.6h0M78.5,48.3h0M86.2,50.3h0M93.8,52.4h0M101.4,54.4h0M78.5,48.5h0M86.1,50.7h0M93.6,52.9h0M101.2,55.2h0M78.4,48.8h0M85.9,51.2h0M93.5,53.5h0M101.0,55.9h0M78.3,49.1h0M85.8,51.6h0M93.3,54.1h0M100.8,56.6h0M78.2,49.3h0M85.6,52.0h0M93.1,54.7h0M100.5,57.4h0M78.1,49.6h0M85.5,52.4h0M92.9,55.3h0M100.2,58.1h0M78.0,49.9h0M85.3,52.8h0M92.6,55.8h0M99.9,58.8h0M77.9,50.1h0M85.1,53.3h0M92.4,56.4h0M99.6,59.5h0M77.8,50.4h0M85.0,53.7h0M92.1,57.0h0M99.3,60.2h0M77.7,50.6h0M84.8,54.1h0M91.9,57.5h0M99.0,60.9h0M77.5,50.9h0M84.6,54.5h0M91.6,58.1h0M98.7,61.6h0M77.4,51.1h0M84.4,54.9h0M91.3,58.6h0M98.3,62.3h0M77.3,51.4h0M84.2,55.3h0M91.0,59.1h0M97.9,63.0h0M77.1,51.6h0M83.9,55.6h0M90.7,59.7h0M97.5,63.7h0M77.0,51.9h0M83.7,56.0h0M90.4,60.2h0M97.1,64.4h0M76.8,52.1h0M83.5,56.4h0M90.1,60.7h0M96.7,65.0h0M76.7,52.3h0M83.2,56.8h0M89.8,61.2h0M96.3,65.7h0M76.5,52.6h0M83.0,57.1h0M89.4,61.7h0M95.8,66.3h0M76.4,52.8h0M82.7,57.5h0M89.0,62.2h0M95.4,66.9h0M76.2,53.0h0M82.4,57.9h0M88.7,62.7h0M94.9,67.5h0M76.0,53.2h0M82.2,58.2h0M88.3,63.2h0M94.4,68.1h0M75.8,53.4h0M81.9,58.5h0M87.9,63.6h0M93.9,68.7h0M75.7,53.7h0M81.6,58.9h0M87.5,64.1h0M93.4,69.3h0M75.5,53.9h0M81.3,59.2h0M87.1,64.6h0M92.9,69.9h0M75.3,54.1h0M81.0,59.5h0M86.7,65.0h0M92.4,70.5h0M75.1,54.3h0M80.7,59.9h0M86.2,65.4h0M91.8,71.0h0M74.9,54.5h0M80.3,60.2h0M85.8,65.9h0M91.3,71.6h0M74.7,54.7h0M80.0,60.5h0M85.4,66.3h0M90.7,72.1h0M74.5,54.9h0M79.7,60.8h0M84.9,66.7h0M90.1,72.6h0M74.2,55.0h0M79.3,61.1h0M84.4,67.1h0M89.5,73.1h0M74.0,55.2h0M79.0,61.4h0M84.0,67.5h0M88.9,73.6h0M73.8,55.4h0M78.7,61.6h0M83.5,67.9h0M88.3,74.1h0M73.6,55.6h0M78.3,61.9h0M83.0,68.2h0M87.7,74.6h0M73.4,55.7h0M77.9,62.2h0M82.5,68.6h0M87.1,75.0h0M73.1,55.9h0M77.6,62.4h0M82.0,69.0h0M86.5,75.5h0M77.2,62.7h0M81.5,69.3h0M85.8,75.9h0M76.8,62.9h0M81.0,69.6h0M85.2,76.3h0M76.4,63.1h0M80.5,69.9h0M84.5,76.7h0M76.1,63.4h0M79.9,70.2h0M83.8,77.1h0M75.7,63.6h0M79.4,70.5h0M83.1,77.5h0M75.3,63.8h0M78.9,70.8h0M82.4,77.9h0M78.3,71.1h0M81.7,78.2h0M77.8,71.3h0M81.0,78.5h0M77.2,71.6h0M80.3,78.8h0M79.6,79.1h0" stroke="#00f" stroke-width="2.8" stroke-linecap="round" fill="none"/><path d="M116.5,243.7h0M119.7,237.0h0M122.8,230.3h0M125.9,223.6h0M129.0,216.9h0M132.2,210.2h0M135.3,203.5h0M138.4,196.7h0M141.5,190.0h0M144.7,183.3h0M147.8,176.6h0M150.9,169.9h0M154.1,163.2h0M157.2,156.5h0M117.1,244.0h0M120.8,237.6h0M124.5,231.2h0M128.2,224.8h0M131.9,218.4h0M135.6,211.9h0M139.3,205.5h0M143.0,199.1h0M146.7,192.7h0M150.4,186.3h0M154.1,179.9h0M157.8,173.5h0M161.5,167.1h0M165.2,160.7h0M117.6,244.3h0M121.9,238.3h0M126.1,232.2h0M130.4,226.2h0M134.6,220.1h0M138.9,214.0h0M143.1,208.0h0M147.4,201.9h0M151.6,195.8h0M155.8,189.8h0M160.1,183.7h0M164.3,177.7h0M168.6,171.6h0M172.8,165.5h0M118.2,244.7h0M122.9,239.1h0M127.7,233.4h0M132.4,227.7h0M137.2,222.1h0M141.9,216.4h0M146.7,210.7h0M151.5,205.1h0M156.2,199.4h0M161.0,193.7h0M165.7,188.0h0M170.5,182.4h0M175.2,176.7h0M180.0,171.0h0M118.6,245.2h0M123.9,239.9h0M129.1,234.7h0M134.3,229.5h0M139.6,224.2h0M144.8,219.0h0M150.0,213.8h0M155.3,208.5h0M160.5,203.3h0M165.7,198.1h0M171.0,192.8h0M176.2,187.6h0M181.4,182.4h0M186.7,177.1h0M191.9,171.9h0M197.1,166.7h0M202.4,161.4h0M207.6,156.2h0M212.8,151.0h0M218.1,145.7h0M223.3,140.5h0M228.5,135.3h0M233.7,130.1h0M239.0,124.8h0M244.2,119.6h0M249.4,114.4h0M254.7,109.1h0M119.1,245.6h0M124.7,240.9h0M130.4,236.1h0M136.1,231.4h0M141.7,226.6h0M147.4,221.9h0M153.1,217.1h0M158.7,212.3h0M164.4,207.6h0M170.1,202.8h0M175.8,198.1h0M181.4,193.3h0M187.1,188.6h0M192.8,183.8h0M198.4,179.1h0M204.1,174.3h0M209.8,169.5h0M215.4,164.8h0M221.1,160.0h0M226.8,155.3h0M232.4,150.5h0M238.1,145.8h0M243.8,141.0h0M249.4,136.2h0M266.5,122.0h0M119.5,246.2h0M125.5,241.9h0M131.6,237.7h0M137.6,233.4h0M143.7,229.2h0M149.8,224.9h0M155.8,220.7h0M161.9,216.4h0M168.0,212.2h0M174.0,208.0h0M180.1,203.7h0M186.1,199.5h0M192.2,195.2h0M198.3,191.0h0M204.3,186.7h0M210.4,182.5h0M216.4,178.2h0M222.5,174.0h0M228.6,169.8h0M234.6,165.5h0M240.7,161.3h0M252.8,152.8h0M258.9,148.5h0M264.9,144.3h0M289.2,127.3h0M295.3,123.1h0M119.8,246.7h0M126.2,243.0h0M132.6,239.3h0M139.0,235.6h0M145.4,231.9h0M151.9,228.2h0M158.3,224.5h0M164.7,220.8h0M171.1,217.1h0M177.5,213.4h0M183.9,209.7h0M190.3,206.0h0M196.7,202.3h0M203.1,198.6h0M209.5,194.9h0M215.9,191.2h0M222.3,187.5h0M228.8,183.8h0M235.2,180.1h0M241.6,176.4h0M248.0,172.7h0M254.4,169.0h0M260.8,165.3h0M273.6,157.9h0M286.4,150.5h0M299.2,143.1h0M120.1,247.3h0M126.8,244.1h0M133.5,241.0h0M140.2,237.9h0M146.9,234.8h0M153.6,231.6h0M160.3,228.5h0M167.1,225.4h0M173.8,222.3h0M180.5,219.1h0M187.2,216.0h0M193.9,212.9h0M200.6,209.7h0M207.3,206.6h0M214.0,203.5h0M220.7,200.4h0M227.4,197.2h0M234.1,194.1h0M240.8,191.0h0M247.5,187.9h0M260.9,181.6h0M267.7,178.5h0M274.4,175.3h0M281.1,172.2h0M301.2,162.8h0M307.9,159.7h0M120.4,247.9h0M127.3,245.3h0M134.3,242.8h0M141.2,240.3h0M148.2,237.7h0M155.1,235.2h0M162.1,232.7h0M169.0,230.2h0M176.0,227.6h0M182.9,225.1h0M189.9,222.6h0M196.8,220.0h0M203.8,217.5h0M210.8,215.0h0M217.7,212.4h0M224.7,209.9h0M231.6,207.4h0M238.6,204.8h0M245.5,202.3h0M252.5,199.8h0M259.4,197.3h0M273.3,192.2h0M287.2,187.1h0M120.5,248.5h0M127.7,246.6h0M134.8,244.7h0M142.0,242.7h0M149.1,240.8h0M156.3,238.9h0M163.4,237.0h0M170.6,235.1h0M177.7,233.2h0M184.9,231.2h0M192.0,229.3h0M199.2,227.4h0M206.3,225.5h0M213.5,223.6h0M220.6,221.7h0M227.8,219.8h0M234.9,217.8h0M242.1,215.9h0M249.2,214.0h0M256.4,212.1h0M263.5,210.2h0M277.8,206.3h0M284.9,204.4h0M292.1,202.5h0M299.2,200.6h0M313.5,196.8h0M120.7,249.1h0M128.0,247.8h0M135.3,246.5h0M142.6,245.3h0M149.8,244.0h0M157.1,242.7h0M164.4,241.4h0M171.7,240.1h0M179.0,238.8h0M186.3,237.6h0M193.6,236.3h0M200.9,235.0h0M208.1,233.7h0M215.4,232.4h0M222.7,231.1h0M230.0,229.8h0M237.3,228.6h0M244.6,227.3h0M251.9,226.0h0M259.2,224.7h0M266.4,223.4h0M273.7,222.1h0M295.6,218.3h0M120.8,249.8h0M128.1,249.1h0M135.5,248.5h0M142.9,247.8h0M150.3,247.2h0M157.6,246.5h0M165.0,245.9h0M172.4,245.2h0M179.7,244.6h0M187.1,244.0h0M194.5,243.3h0M201.9,242.7h0M209.2,242.0h0M216.6,241.4h0M224.0,240.7h0M231.3,240.1h0M238.7,239.4h0M246.1,238.8h0M253.5,238.1h0M260.8,237.5h0M268.2,236.9h0M275.6,236.2h0M283.0,235.6h0M297.7,234.3h0M305.1,233.6h0M319.8,232.3h0M120.8,250.4h0M128.2,250.4h0M135.6,250.4h0M143.0,250.4h0M150.4,250.4h0M157.8,250.4h0M165.2,250.4h0M172.6,250.4h0M180.0,250.4h0M187.4,250.4h0M194.8,250.4h0M202.2,250.4h0M209.6,250.4h0M217.0,250.4h0M224.4,250.4h0M231.8,250.4h0M239.2,250.4h0M246.6,250.4h0M254.0,250.4h0M261.4,250.4h0M276.2,250.4h0M283.6,250.4h0M298.4,250.4h0M335.4,250.4h0M120.8,251.0h0M128.1,251.7h0M135.5,252.3h0M142.9,253.0h0M150.3,253.6h0M157.6,254.3h0M165.0,254.9h0M172.4,255.6h0M179.7,256.2h0M187.1,256.8h0M194.5,257.5h0M201.9,258.1h0M209.2,258.8h0M216.6,259.4h0M224.0,260.1h0M231.3,260.7h0M238.7,261.4h0M246.1,262.0h0M253.5,262.7h0M260.8,263.3h0M268.2,263.9h0M283.0,265.2h0M290.3,265.9h0M297.7,266.5h0M305.1,267.2h0M319.8,268.5h0M327.2,269.1h0M120.7,251.7h0M128.0,253.0h0M135.3,254.3h0M142.6,255.5h0M149.8,256.8h0M157.1,258.1h0M164.4,259.4h0M171.7,260.7h0M179.0,262.0h0M186.3,263.2h0M193.6,264.5h0M200.9,265.8h0M208.1,267.1h0M215.4,268.4h0M222.7,269.7h0M230.0,271.0h0M237.3,272.2h0M244.6,273.5h0M251.9,274.8h0M259.2,276.1h0M266.4,277.4h0M273.7,278.7h0M281.0,280.0h0M288.3,281.2h0M295.6,282.5h0M302.9,283.8h0M332.0,288.9h0M120.5,252.3h0M127.7,254.2h0M134.8,256.1h0M142.0,258.1h0M149.1,260.0h0M156.3,261.9h0M163.4,263.8h0M170.6,265.7h0M177.7,267.6h0M184.9,269.6h0M192.0,271.5h0M199.2,273.4h0M206.3,275.3h0M213.5,277.2h0M220.6,279.1h0M227.8,281.0h0M234.9,283.0h0M242.1,284.9h0M249.2,286.8h0M256.4,288.7h0M263.5,290.6h0M270.7,292.5h0M277.8,294.5h0M292.1,298.3h0M299.2,300.2h0M120.4,252.9h0M127.3,255.5h0M134.3,258.0h0M141.2,260.5h0M148.2,263.1h0M155.1,265.6h0M162.1,268.1h0M169.0,270.6h0M176.0,273.2h0M182.9,275.7h0M189.9,278.2h0M196.8,280.8h0M203.8,283.3h0M210.8,285.8h0M217.7,288.4h0M224.7,290.9h0M231.6,293.4h0M238.6,296.0h0M245.5,298.5h0M252.5,301.0h0M259.4,303.5h0M266.4,306.1h0M273.3,308.6h0M280.3,311.1h0M287.2,313.7h0M294.2,316.2h0M308.1,321.3h0M315.1,323.8h0M120.1,253.5h0M126.8,256.7h0M133.5,259.8h0M140.2,262.9h0M146.9,266.0h0M153.6,269.2h0M160.3,272.3h0M167.1,275.4h0M173.8,278.5h0M180.5,281.7h0M187.2,284.8h0M193.9,287.9h0M200.6,291.1h0M207.3,294.2h0M214.0,297.3h0M220.7,300.4h0M227.4,303.6h0M234.1,306.7h0M240.8,309.8h0M247.5,312.9h0M260.9,319.2h0M287.8,331.7h0M119.8,254.1h0M126.2,257.8h0M132.6,261.5h0M139.0,265.2h0M145.4,268.9h0M151.9,272.6h0M158.3,276.3h0M164.7,280.0h0M171.1,283.7h0M177.5,287.4h0M183.9,291.1h0M190.3,294.8h0M196.7,298.5h0M203.1,302.2h0M209.5,305.9h0M215.9,309.6h0M222.3,313.3h0M228.8,317.0h0M235.2,320.7h0M241.6,324.4h0M248.0,328.1h0M254.4,331.8h0M273.6,342.9h0M292.8,354.0h0M119.5,254.6h0M125.5,258.9h0M131.6,263.1h0M137.6,267.4h0M143.7,271.6h0M149.8,275.9h0M155.8,280.1h0M161.9,284.4h0M168.0,288.6h0M174.0,292.8h0M180.1,297.1h0M186.1,301.3h0M192.2,305.6h0M198.3,309.8h0M204.3,314.1h0M210.4,318.3h0M216.4,322.6h0M222.5,326.8h0M228.6,331.0h0M234.6,335.3h0M252.8,348.0h0M119.1,255.2h0M124.7,259.9h0M130.4,264.7h0M136.1,269.4h0M141.7,274.2h0M147.4,278.9h0M153.1,283.7h0M158.7,288.5h0M164.4,293.2h0M170.1,298.0h0M175.8,302.7h0M181.4,307.5h0M187.1,312.2h0M192.8,317.0h0M198.4,321.7h0M204.1,326.5h0M209.8,331.3h0M215.4,336.0h0M221.1,340.8h0M226.8,345.5h0M238.1,355.0h0M118.6,255.6h0M123.9,260.9h0M129.1,266.1h0M134.3,271.3h0M139.6,276.6h0M144.8,281.8h0M150.0,287.0h0M155.3,292.3h0M160.5,297.5h0M165.7,302.7h0M171.0,308.0h0M176.2,313.2h0M181.4,318.4h0M186.7,323.7h0M191.9,328.9h0M197.1,334.1h0M202.4,339.4h0M207.6,344.6h0M212.8,349.8h0M218.1,355.1h0M223.3,360.3h0M233.7,370.7h0M118.2,256.1h0M122.9,261.7h0M127.7,267.4h0M132.4,273.1h0M137.2,278.7h0M141.9,284.4h0M146.7,290.1h0M151.5,295.7h0M156.2,301.4h0M161.0,307.1h0M165.7,312.8h0M170.5,318.4h0M175.2,324.1h0M180.0,329.8h0M184.7,335.4h0M189.5,341.1h0M194.3,346.8h0M199.0,352.4h0M203.8,358.1h0M208.5,363.8h0M213.3,369.4h0M117.6,256.5h0M121.9,262.5h0M126.1,268.6h0M130.4,274.6h0M134.6,280.7h0M138.9,286.8h0M143.1,292.8h0M147.4,298.9h0M151.6,305.0h0M155.8,311.0h0M160.1,317.1h0M164.3,323.1h0M168.6,329.2h0M172.8,335.3h0M177.1,341.3h0M181.3,347.4h0M185.6,353.4h0M189.8,359.5h0M194.0,365.6h0M198.3,371.6h0M236.5,426.2h0M117.1,256.8h0M120.8,263.2h0M124.5,269.6h0M128.2,276.0h0M131.9,282.4h0M135.6,288.9h0M139.3,295.3h0M143.0,301.7h0M146.7,308.1h0M150.4,314.5h0M154.1,320.9h0M157.8,327.3h0M161.5,333.7h0M165.2,340.1h0M168.9,346.5h0M172.6,352.9h0M176.3,359.3h0M180.0,365.8h0M183.7,372.2h0M116.5,257.1h0M119.7,263.8h0M122.8,270.5h0M125.9,277.2h0M129.0,283.9h0M132.2,290.6h0M135.3,297.3h0M138.4,304.1h0M141.5,310.8h0M144.7,317.5h0M147.8,324.2h0M150.9,330.9h0M154.1,337.6h0M157.2,344.3h0M160.3,351.0h0M115.9,257.4h0M118.5,264.3h0M121.0,271.3h0M123.5,278.2h0M126.1,285.2h0M128.6,292.1h0M131.1,299.1h0M133.6,306.0h0M136.2,313.0h0M138.7,319.9h0M141.2,326.9h0M143.8,333.8h0M146.3,340.8h0M148.8,347.8h0M151.4,354.7h0M115.3,257.5h0M117.2,264.7h0M119.1,271.8h0M121.1,279.0h0M123.0,286.1h0M124.9,293.3h0M126.8,300.4h0M128.7,307.6h0M130.6,314.7h0M132.6,321.9h0M134.5,329.0h0M136.4,336.2h0M138.3,343.3h0M140.2,350.5h0M142.1,357.6h0M149.8,386.2h0M114.7,257.7h0M116.0,265.0h0M117.3,272.3h0M118.5,279.6h0M119.8,286.8h0M121.1,294.1h0M122.4,301.4h0M123.7,308.7h0M125.0,316.0h0M126.2,323.3h0M127.5,330.6h0M128.8,337.9h0M130.1,345.1h0M131.4,352.4h0M132.7,359.7h0M114.0,257.8h0M114.7,265.1h0M115.3,272.5h0M116.0,279.9h0M116.6,287.3h0M117.3,294.6h0M117.9,302.0h0M118.6,309.4h0M119.2,316.7h0M119.8,324.1h0M120.5,331.5h0M121.1,338.9h0M121.8,346.2h0M122.4,353.6h0M123.1,361.0h0M113.4,257.8h0M113.4,265.2h0M113.4,272.6h0M113.4,280.0h0M113.4,287.4h0M113.4,294.8h0M113.4,302.2h0M113.4,309.6h0M113.4,317.0h0M113.4,324.4h0M113.4,331.8h0M113.4,339.2h0M113.4,346.6h0M113.4,354.0h0M113.4,361.4h0M112.8,257.8h0M112.1,265.1h0M111.5,272.5h0M110.8,279.9h0M110.2,287.3h0M109.5,294.6h0M108.9,302.0h0M108.2,309.4h0M107.6,316.7h0M107.0,324.1h0M106.3,331.5h0M105.7,338.9h0M105.0,346.2h0M104.4,353.6h0M103.7,361.0h0M101.1,390.5h0" stroke="#0f0" stroke-width="2.8" stroke-linecap="round" fill="none"/><path d="M118.6,245.2h0M123.9,239.9h0M129.1,234.7h0M134.3,229.5h0M139.6,224.2h0M118.7,245.3h0M124.1,240.2h0M129.4,235.0h0M134.8,229.9h0M140.1,224.8h0M118.8,245.4h0M124.3,240.4h0M129.7,235.4h0M135.2,230.4h0M140.6,225.4h0M119.0,245.5h0M124.5,240.6h0M130.1,235.7h0M135.6,230.8h0M141.2,225.9h0M119.1,245.6h0M124.7,240.8h0M130.4,236.1h0M136.0,231.3h0M141.7,226.5h0M119.2,245.7h0M124.9,241.1h0M130.7,236.4h0M136.4,231.8h0M142.2,227.1h0M119.2,245.9h0M125.1,241.3h0M130.9,236.8h0M136.8,232.3h0M142.6,227.7h0M119.3,246.0h0M125.3,241.6h0M131.2,237.2h0M137.2,232.8h0M143.1,228.3h0M119.4,246.1h0M125.5,241.8h0M131.5,237.5h0M137.5,233.3h0M143.6,229.0h0M119.5,246.2h0M125.6,242.1h0M131.8,237.9h0M137.9,233.8h0M144.0,229.6h0M119.6,246.4h0M125.8,242.3h0M132.0,238.3h0M138.2,234.3h0M144.4,230.2h0M119.7,246.5h0M126.0,242.6h0M132.3,238.7h0M138.6,234.8h0M144.8,230.9h0M119.8,246.6h0M126.1,242.9h0M132.5,239.1h0M138.9,235.3h0M145.2,231.6h0M119.8,246.8h0M126.3,243.1h0M132.7,239.5h0M139.2,235.9h0M145.6,232.2h0M119.9,246.9h0M126.4,243.4h0M133.0,239.9h0M139.5,236.4h0M146.0,232.9h0M120.0,247.0h0M126.6,243.7h0M133.2,240.3h0M139.8,237.0h0M146.4,233.6h0M120.1,247.2h0M126.7,244.0h0M133.4,240.7h0M140.0,237.5h0M146.7,234.3h0M120.1,247.3h0M126.9,244.2h0M133.6,241.2h0M140.3,238.1h0M147.0,235.0h0M120.2,247.5h0M127.0,244.5h0M133.8,241.6h0M140.6,238.6h0M147.4,235.7h0M120.3,247.6h0M127.1,244.8h0M134.0,242.0h0M140.8,239.2h0M147.7,236.4h0M120.3,247.7h0M127.2,245.1h0M134.1,242.4h0M141.0,239.8h0M147.9,237.1h0M120.4,247.9h0M127.3,245.4h0M134.3,242.9h0M141.3,240.4h0M148.2,237.9h0M120.4,248.0h0M127.4,245.7h0M134.4,243.3h0M141.5,241.0h0M148.5,238.6h0M120.5,248.2h0M127.5,246.0h0M134.6,243.8h0M141.6,241.5h0M148.7,239.3h0M120.5,248.3h0M127.6,246.3h0M134.7,244.2h0M141.8,242.1h0M148.9,240.1h0M120.5,248.5h0M127.7,246.6h0M134.8,244.7h0M142.0,242.7h0M149.1,240.8h0M120.6,248.6h0M127.8,246.9h0M135.0,245.1h0M142.1,243.3h0M149.3,241.6h0M120.6,248.8h0M127.8,247.2h0M135.1,245.6h0M142.3,243.9h0M149.5,242.3h0M120.7,248.9h0M127.9,247.5h0M135.2,246.0h0M142.4,244.5h0M149.7,243.1h0M120.7,249.1h0M128.0,247.8h0M135.2,246.5h0M142.5,245.2h0M149.8,243.8h0M120.7,249.2h0M128.0,248.1h0M135.3,246.9h0M142.6,245.8h0M149.9,244.6h0M120.7,249.4h0M128.1,248.4h0M135.4,247.4h0M142.7,246.4h0M150.1,245.4h0M120.8,249.5h0M128.1,248.7h0M135.5,247.8h0M142.8,247.0h0M150.2,246.1h0M120.8,249.7h0M128.1,249.0h0M135.5,248.3h0M142.9,247.6h0M150.2,246.9h0M120.8,249.9h0M128.2,249.3h0M135.5,248.8h0M142.9,248.2h0M150.3,247.7h0M120.8,250.0h0M128.2,249.6h0M135.6,249.2h0M143.0,248.9h0M150.3,248.5h0M120.8,250.2h0M128.2,249.9h0M135.6,249.7h0M143.0,249.5h0M150.4,249.2h0M120.8,250.3h0M128.2,250.2h0M135.6,250.2h0M143.0,250.1h0M150.4,250.0h0M120.8,250.5h0M128.2,250.6h0M135.6,250.6h0M143.0,250.7h0M150.4,250.8h0M120.8,250.6h0M128.2,250.9h0M135.6,251.1h0M143.0,251.3h0M150.4,251.6h0M120.8,250.8h0M128.2,251.2h0M135.6,251.6h0M143.0,251.9h0M150.3,252.3h0M120.8,250.9h0M128.2,251.5h0M135.5,252.0h0M142.9,252.6h0M150.3,253.1h0M120.8,251.1h0M128.1,251.8h0M135.5,252.5h0M142.9,253.2h0M150.2,253.9h0M120.8,251.3h0M128.1,252.1h0M135.5,253.0h0M142.8,253.8h0M150.2,254.7h0M120.7,251.4h0M128.1,252.4h0M135.4,253.4h0M142.7,254.4h0M150.1,255.4h0M120.7,251.6h0M128.0,252.7h0M135.3,253.9h0M142.6,255.0h0M149.9,256.2h0M120.7,251.7h0M128.0,253.0h0M135.2,254.3h0M142.5,255.6h0M149.8,257.0h0M120.7,251.9h0M127.9,253.3h0M135.2,254.8h0M142.4,256.3h0M149.7,257.7h0M120.6,252.0h0M127.8,253.6h0M135.1,255.2h0M142.3,256.9h0M149.5,258.5h0M120.6,252.2h0M127.8,253.9h0M135.0,255.7h0M142.1,257.5h0M149.3,259.2h0M120.5,252.3h0M127.7,254.2h0M134.8,256.1h0M142.0,258.1h0M149.1,260.0h0M120.5,252.5h0M127.6,254.5h0M134.7,256.6h0M141.8,258.7h0M148.9,260.7h0M120.5,252.6h0M127.5,254.8h0M134.6,257.0h0M141.6,259.3h0M148.7,261.5h0M120.4,252.8h0M127.4,255.1h0M134.4,257.5h0M141.5,259.8h0M148.5,262.2h0M120.4,252.9h0M127.3,255.4h0M134.3,257.9h0M141.3,260.4h0M148.2,262.9h0M120.3,253.1h0M127.2,255.7h0M134.1,258.4h0M141.0,261.0h0M147.9,263.7h0M120.3,253.2h0M127.1,256.0h0M134.0,258.8h0M140.8,261.6h0M147.7,264.4h0M120.2,253.3h0M127.0,256.3h0M133.8,259.2h0M140.6,262.2h0M147.4,265.1h0M120.1,253.5h0M126.9,256.6h0M133.6,259.6h0M140.3,262.7h0M147.0,265.8h0M120.1,253.6h0M126.7,256.8h0M133.4,260.1h0M140.0,263.3h0M146.7,266.5h0M120.0,253.8h0M126.6,257.1h0M133.2,260.5h0M139.8,263.8h0M146.4,267.2h0M119.9,253.9h0M126.4,257.4h0M133.0,260.9h0M139.5,264.4h0M146.0,267.9h0M119.8,254.0h0M126.3,257.7h0M132.7,261.3h0M139.2,264.9h0M145.6,268.6h0M119.8,254.2h0M126.1,257.9h0M132.5,261.7h0M138.9,265.5h0M145.2,269.2h0M119.7,254.3h0M126.0,258.2h0M132.3,262.1h0M138.6,266.0h0M144.8,269.9h0M119.6,254.4h0M125.8,258.5h0M132.0,262.5h0M138.2,266.5h0M144.4,270.6h0M119.5,254.6h0M125.6,258.7h0M131.8,262.9h0M137.9,267.0h0M144.0,271.2h0M119.4,254.7h0M125.5,259.0h0M131.5,263.3h0M137.5,267.5h0M143.6,271.8h0M119.3,254.8h0M125.3,259.2h0M131.2,263.6h0M137.2,268.0h0M143.1,272.5h0M119.2,254.9h0M125.1,259.5h0M130.9,264.0h0M136.8,268.5h0M142.6,273.1h0M119.2,255.1h0M124.9,259.7h0M130.7,264.4h0M136.4,269.0h0M142.2,273.7h0M119.1,255.2h0M124.7,260.0h0M130.4,264.7h0M136.0,269.5h0M141.7,274.3h0M119.0,255.3h0M124.5,260.2h0M130.1,265.1h0M135.6,270.0h0M141.2,274.9h0M118.8,255.4h0M124.3,260.4h0M129.7,265.4h0M135.2,270.4h0M140.6,275.4h0M118.7,255.5h0M124.1,260.6h0M129.4,265.8h0M134.8,270.9h0M140.1,276.0h0M118.6,255.6h0M123.9,260.9h0M129.1,266.1h0M134.3,271.3h0M139.6,276.6h0M118.5,255.7h0M123.6,261.1h0M128.8,266.4h0M133.9,271.8h0M139.0,277.1h0M118.4,255.8h0M123.4,261.3h0M128.4,266.7h0M133.4,272.2h0M138.4,277.6h0M118.3,256.0h0M123.2,261.5h0M128.1,267.1h0M133.0,272.6h0M137.9,278.2h0M118.2,256.1h0M123.0,261.7h0M127.7,267.4h0M132.5,273.0h0M137.3,278.7h0M118.1,256.2h0M122.7,261.9h0M127.4,267.7h0M132.0,273.4h0M136.7,279.2h0M117.9,256.2h0M122.5,262.1h0M127.0,267.9h0M131.5,273.8h0M136.1,279.6h0M117.8,256.3h0M122.2,262.3h0M126.6,268.2h0M131.0,274.2h0M135.5,280.1h0M117.7,256.4h0M122.0,262.5h0M126.3,268.5h0M130.5,274.5h0M134.8,280.6h0M117.6,256.5h0M121.7,262.6h0M125.9,268.8h0M130.0,274.9h0M134.2,281.0h0M117.4,256.6h0M121.5,262.8h0M125.5,269.0h0M129.5,275.2h0M133.6,281.4h0M117.3,256.7h0M121.2,263.0h0M125.1,269.3h0M129.0,275.6h0M132.9,281.8h0M117.2,256.8h0M120.9,263.1h0M124.7,269.5h0M128.5,275.9h0M132.2,282.2h0M117.0,256.8h0M120.7,263.3h0M124.3,269.7h0M127.9,276.2h0M131.6,282.6h0M116.9,256.9h0M120.4,263.4h0M123.9,270.0h0M127.4,276.5h0M130.9,283.0h0M116.8,257.0h0M120.1,263.6h0M123.5,270.2h0M126.8,276.8h0M130.2,283.4h0M116.6,257.1h0M119.8,263.7h0M123.1,270.4h0M126.3,277.0h0M129.5,283.7h0M116.5,257.1h0M119.6,263.9h0M122.6,270.6h0M125.7,277.3h0M128.8,284.0h0M116.3,257.2h0M119.3,264.0h0M122.2,270.8h0M125.2,277.6h0M128.1,284.4h0M116.2,257.3h0M119.0,264.1h0M121.8,271.0h0M124.6,277.8h0M127.4,284.7h0M116.1,257.3h0M118.7,264.2h0M121.4,271.1h0M124.0,278.0h0M126.7,284.9h0M115.9,257.4h0M118.4,264.3h0M120.9,271.3h0M123.4,278.3h0M125.9,285.2h0M115.8,257.4h0M118.1,264.4h0M120.5,271.4h0M122.8,278.5h0M125.2,285.5h0M115.6,257.5h0M117.8,264.5h0M120.0,271.6h0M122.3,278.6h0M124.5,285.7h0M115.5,257.5h0M117.5,264.6h0M119.6,271.7h0M121.7,278.8h0M123.7,285.9h0M115.3,257.5h0M117.2,264.7h0M119.1,271.8h0M121.1,279.0h0M123.0,286.1h0M115.2,257.6h0M116.9,264.8h0M118.7,272.0h0M120.5,279.1h0M122.2,286.3h0M115.0,257.6h0M116.6,264.8h0M118.2,272.1h0M119.9,279.3h0M121.5,286.5h0M114.9,257.7h0M116.3,264.9h0M117.8,272.2h0M119.3,279.4h0M120.7,286.7h0M114.7,257.7h0M116.0,265.0h0M117.3,272.2h0M118.6,279.5h0M120.0,286.8h0M114.6,257.7h0M115.7,265.0h0M116.9,272.3h0M118.0,279.6h0M119.2,286.9h0M114.4,257.7h0M115.4,265.1h0M116.4,272.4h0M117.4,279.7h0M118.4,287.1h0M114.3,257.8h0M115.1,265.1h0M116.0,272.5h0M116.8,279.8h0M117.7,287.2h0M114.1,257.8h0M114.8,265.1h0M115.5,272.5h0M116.2,279.9h0M116.9,287.2h0M113.9,257.8h0M114.5,265.2h0M115.0,272.5h0M115.6,279.9h0M116.1,287.3h0M113.8,257.8h0M114.2,265.2h0M114.6,272.6h0M114.9,280.0h0M115.3,287.3h0M113.6,257.8h0M113.9,265.2h0M114.1,272.6h0M114.3,280.0h0M114.6,287.4h0M113.5,257.8h0M113.6,265.2h0M113.6,272.6h0M113.7,280.0h0M113.8,287.4h0" stroke="#0f0" stroke-width="2.8" stroke-linecap="round" fill="none"/></g><g clip-path="url(#cl)"><path d="M215.4,0.0 213.0,19.4 211.9,31.1 209.5,41.7 206.0,54.6 202.4,66.4 198.9,80.5 197.8,90.0 196.6,101.7 194.2,113.5 193.6,125.2 192.4,137.0 191.9,152.6 189.5,159.4 188.9,167.6" fill="none" stroke="#000" stroke-width="1"/><path d="M194.9,195.6 196.0,199.4 193.0,211.1 194.2,217.0 190.7,224.1 184.8,231.1 178.9,238.2 171.9,247.6 166.0,254.6 160.1,262.9 154.2,270.0 147.2,275.8 138.9,282.9 130.7,291.1 124.8,297.0 111.8,318.8 98.6,331.7 89.5,340.8 83.8,353.1 73.1,362.2" fill="none" stroke="#000" stroke-width="1"/><path d="M54.1,390.2 42.6,403.4 35.4,412.0 22.8,424.6 20.4,427.6" fill="none" stroke="#000" stroke-width="1"/><circle cx="203.1" cy="56" r="1.8" fill="#fff" stroke="#000" stroke-width="0.9"/><text transform="translate(191.5,184.1) rotate(80.5)" font-size="15.6" text-anchor="middle" dy="0.36em" fill="#000">-100</text><text transform="translate(66.5,377.0) rotate(-54.8)" font-size="15.6" text-anchor="middle" dy="0.36em" fill="#000">-100</text></g>
<use href="#coast"/>
<use href="#stars"/>
<use href="#boxL"/>
<use href="#frame"/>
<text x="173.5" y="-12.6" font-size="25" font-weight="bold" text-anchor="middle" letter-spacing="0.05" fill="#000">Radial Grid</text>
<use href="#km"/>
</g>
<g transform="translate(458.5,742.4)">
<use href="#box"/>
<use href="#grid"/>
<g clip-path="url(#cl)" shape-rendering="crispEdges">
<path fill="#0000df" d="M67.6,-0.1H75.4V6.8H67.6ZM105.8,6.5H113.6V14.6H105.8ZM82.9,14.3H90.7V22.4H82.9ZM105.8,14.3H113.6V22.4H105.8ZM128.7,14.3H136.5V22.4H128.7ZM82.9,22.1H90.7V30.3H82.9ZM98.2,22.1H106.0V30.3H98.2ZM151.7,22.1H159.4V30.3H151.7ZM75.3,30.0H83.0V38.1H75.3ZM90.5,30.0H106.0V38.1H90.5ZM128.7,37.8H136.5V45.9H128.7ZM90.5,45.6H98.3V53.7H90.5ZM105.8,45.6H113.6V53.7H105.8ZM159.3,45.6H167.1V53.7H159.3ZM98.2,53.4H106.0V61.5H98.2ZM136.4,53.4H144.2V61.5H136.4ZM113.5,61.2H128.9V69.3H113.5ZM113.5,69.0H128.9V77.1H113.5ZM128.7,76.8H136.5V84.9H128.7ZM144.0,76.8H151.8V84.9H144.0ZM128.7,84.6H151.8V92.7H128.7ZM144.0,92.4H159.4V100.5H144.0ZM189.9,92.4H197.7V100.5H189.9ZM197.5,100.2H212.9V108.3H197.5ZM159.3,108.0H167.1V116.0H159.3ZM174.6,108.0H182.4V116.0H174.6ZM166.9,115.7H174.7V123.8H166.9ZM212.8,115.7H220.6V123.8H212.8ZM128.7,123.5H136.5V131.6H128.7ZM144.0,123.5H151.8V131.6H144.0ZM205.1,123.5H212.9V131.6H205.1ZM136.4,131.3H151.8V139.3H136.4ZM174.6,131.3H182.4V139.3H174.6ZM189.9,131.3H197.7V139.3H189.9ZM159.3,139.0H167.1V147.1H159.3ZM182.2,139.0H190.0V147.1H182.2ZM205.1,139.0H220.6V147.1H205.1ZM228.1,139.0H235.8V147.1H228.1ZM289.2,139.0H297.0V147.1H289.2ZM205.1,146.8H220.6V154.8H205.1ZM228.1,146.8H243.5V154.8H228.1ZM166.9,154.5H190.0V162.6H166.9ZM205.1,154.5H212.9V162.6H205.1ZM220.4,154.5H228.2V162.6H220.4ZM251.0,154.5H258.8V162.6H251.0ZM289.2,154.5H297.0V162.6H289.2ZM121.1,162.3H128.9V170.3H121.1ZM144.0,162.3H159.4V170.3H144.0ZM174.6,162.3H182.4V170.3H174.6ZM189.9,162.3H197.7V170.3H189.9ZM228.1,162.3H243.5V170.3H228.1ZM258.6,162.3H266.4V170.3H258.6ZM128.7,170.0H144.2V178.0H128.7ZM258.6,170.0H266.4V178.0H258.6ZM251.0,177.7H258.8V185.8H251.0ZM136.4,185.5H144.2V193.5H136.4ZM159.3,185.5H197.7V193.5H159.3ZM220.4,185.5H228.2V193.5H220.4ZM182.2,193.2H190.0V201.2H182.2ZM205.1,193.2H220.6V201.2H205.1ZM228.1,193.2H235.8V201.2H228.1ZM273.9,193.2H289.3V201.2H273.9ZM128.7,200.9H136.5V208.9H128.7ZM151.7,200.9H167.1V208.9H151.7ZM174.6,200.9H190.0V208.9H174.6ZM228.1,200.9H235.8V208.9H228.1ZM266.3,200.9H274.0V208.9H266.3ZM296.8,200.9H304.6V208.9H296.8ZM197.5,208.6H205.3V216.6H197.5ZM235.7,208.6H243.5V216.6H235.7ZM251.0,208.6H258.8V216.6H251.0ZM266.3,208.6H274.0V216.6H266.3ZM289.2,208.6H297.0V216.6H289.2ZM151.7,216.3H159.4V224.3H151.7ZM174.6,216.3H182.4V224.3H174.6ZM220.4,216.3H228.2V224.3H220.4ZM266.3,216.3H274.0V224.3H266.3ZM281.5,216.3H297.0V224.3H281.5ZM319.7,216.3H327.5V224.3H319.7ZM266.3,224.0H274.0V232.0H266.3ZM289.2,224.0H297.0V232.0H289.2ZM136.4,231.7H144.2V239.7H136.4ZM197.5,231.7H212.9V239.7H197.5ZM251.0,231.7H258.8V239.7H251.0ZM281.5,231.7H289.3V239.7H281.5ZM296.8,231.7H304.6V239.7H296.8ZM335.0,231.7H342.8V239.7H335.0ZM212.8,239.4H220.6V247.4H212.8ZM251.0,239.4H266.4V247.4H251.0ZM273.9,239.4H297.0V247.4H273.9ZM304.5,247.1H312.2V255.0H304.5ZM319.7,247.1H327.5V255.0H319.7ZM144.0,254.7H151.8V262.7H144.0ZM182.2,254.7H190.0V262.7H182.2ZM212.8,254.7H220.6V262.7H212.8ZM258.6,254.7H281.7V262.7H258.6ZM289.2,254.7H297.0V262.7H289.2ZM304.5,254.7H319.9V262.7H304.5ZM82.9,262.4H90.7V270.4H82.9ZM220.4,262.4H228.2V270.4H220.4ZM67.6,270.1H75.4V278.0H67.6ZM182.2,270.1H197.7V278.0H182.2ZM243.3,270.1H251.1V278.0H243.3ZM174.6,277.7H182.4V285.7H174.6ZM174.6,285.4H182.4V293.3H174.6ZM212.8,285.4H220.6V293.3H212.8ZM243.3,285.4H258.8V293.3H243.3ZM266.3,285.4H274.0V293.3H266.3ZM75.3,293.0H83.0V301.0H75.3ZM60.0,300.7H75.4V308.6H60.0ZM166.9,300.7H174.7V308.6H166.9ZM220.4,300.7H228.2V308.6H220.4ZM251.0,300.7H258.8V308.6H251.0ZM60.0,308.3H75.4V316.3H60.0ZM60.0,316.0H67.8V323.9H60.0ZM75.3,316.0H83.0V323.9H75.3ZM235.7,316.0H251.1V323.9H235.7ZM273.9,316.0H281.7V323.9H273.9ZM113.5,323.6H121.2V331.5H113.5ZM220.4,323.6H235.8V331.5H220.4ZM98.2,331.2H106.0V339.2H98.2ZM228.1,331.2H235.8V339.2H228.1ZM243.3,331.2H258.8V339.2H243.3ZM273.9,331.2H281.7V339.2H273.9ZM121.1,354.1H128.9V362.0H121.1Z"/><path fill="#0000ff" d="M75.3,-0.1H83.0V6.8H75.3ZM166.9,-0.1H174.7V6.8H166.9ZM67.6,6.5H75.4V14.6H67.6ZM98.2,6.5H106.0V14.6H98.2ZM159.3,6.5H167.1V14.6H159.3ZM174.6,6.5H182.4V14.6H174.6ZM90.5,14.3H98.3V22.4H90.5ZM121.1,14.3H128.9V22.4H121.1ZM144.0,14.3H151.8V22.4H144.0ZM75.3,22.1H83.0V30.3H75.3ZM90.5,22.1H98.3V30.3H90.5ZM105.8,22.1H121.2V30.3H105.8ZM144.0,22.1H151.8V30.3H144.0ZM121.1,30.0H128.9V38.1H121.1ZM136.4,30.0H151.8V38.1H136.4ZM327.4,30.0H335.2V38.1H327.4ZM75.3,37.8H90.7V45.9H75.3ZM113.5,37.8H121.2V45.9H113.5ZM327.4,37.8H335.2V45.9H327.4ZM82.9,45.6H90.7V53.7H82.9ZM113.5,45.6H128.9V53.7H113.5ZM327.4,45.6H335.2V53.7H327.4ZM105.8,61.2H113.6V69.3H105.8ZM159.3,61.2H167.1V69.3H159.3ZM151.7,76.8H159.4V84.9H151.7ZM105.8,84.6H113.6V92.7H105.8ZM182.2,84.6H190.0V92.7H182.2ZM128.7,92.4H136.5V100.5H128.7ZM166.9,92.4H174.7V100.5H166.9ZM151.7,108.0H159.4V116.0H151.7ZM212.8,108.0H220.6V116.0H212.8ZM159.3,123.5H174.7V131.6H159.3ZM212.8,123.5H228.2V131.6H212.8ZM182.2,131.3H190.0V139.3H182.2ZM205.1,131.3H235.8V139.3H205.1ZM144.0,139.0H151.8V147.1H144.0ZM189.9,139.0H197.7V147.1H189.9ZM220.4,139.0H228.2V147.1H220.4ZM235.7,139.0H243.5V147.1H235.7ZM128.7,146.8H136.5V154.8H128.7ZM144.0,146.8H174.7V154.8H144.0ZM189.9,146.8H197.7V154.8H189.9ZM243.3,146.8H251.1V154.8H243.3ZM144.0,154.5H151.8V162.6H144.0ZM304.5,154.5H312.2V162.6H304.5ZM128.7,162.3H136.5V170.3H128.7ZM243.3,162.3H258.8V170.3H243.3ZM121.1,170.0H128.9V178.0H121.1ZM151.7,170.0H159.4V178.0H151.7ZM166.9,170.0H182.4V178.0H166.9ZM189.9,170.0H197.7V178.0H189.9ZM235.7,170.0H243.5V178.0H235.7ZM128.7,177.7H136.5V185.8H128.7ZM144.0,177.7H151.8V185.8H144.0ZM159.3,177.7H174.7V185.8H159.3ZM182.2,177.7H190.0V185.8H182.2ZM197.5,177.7H205.3V185.8H197.5ZM228.1,177.7H243.5V185.8H228.1ZM273.9,177.7H281.7V185.8H273.9ZM151.7,185.5H159.4V193.5H151.7ZM228.1,185.5H235.8V193.5H228.1ZM251.0,185.5H266.4V193.5H251.0ZM273.9,185.5H281.7V193.5H273.9ZM136.4,193.2H144.2V201.2H136.4ZM159.3,193.2H174.7V201.2H159.3ZM266.3,193.2H274.0V201.2H266.3ZM189.9,200.9H197.7V208.9H189.9ZM212.8,200.9H220.6V208.9H212.8ZM235.7,200.9H251.1V208.9H235.7ZM166.9,208.6H182.4V216.6H166.9ZM228.1,208.6H235.8V216.6H228.1ZM243.3,208.6H251.1V216.6H243.3ZM189.9,216.3H197.7V224.3H189.9ZM243.3,216.3H258.8V224.3H243.3ZM136.4,224.0H144.2V232.0H136.4ZM159.3,224.0H167.1V232.0H159.3ZM174.6,224.0H182.4V232.0H174.6ZM189.9,224.0H212.9V232.0H189.9ZM243.3,224.0H251.1V232.0H243.3ZM212.8,231.7H220.6V239.7H212.8ZM243.3,231.7H251.1V239.7H243.3ZM136.4,247.1H151.8V255.0H136.4ZM189.9,247.1H197.7V255.0H189.9ZM205.1,247.1H212.9V255.0H205.1ZM205.1,254.7H212.9V262.7H205.1ZM220.4,254.7H228.2V262.7H220.4ZM235.7,254.7H251.1V262.7H235.7ZM174.6,262.4H182.4V270.4H174.6ZM243.3,262.4H251.1V270.4H243.3ZM174.6,270.1H182.4V278.0H174.6ZM220.4,270.1H228.2V278.0H220.4ZM251.0,270.1H258.8V278.0H251.0ZM243.3,277.7H251.1V285.7H243.3ZM220.4,293.0H228.2V301.0H220.4ZM205.1,300.7H212.9V308.6H205.1ZM228.1,300.7H235.8V308.6H228.1ZM205.1,308.3H212.9V316.3H205.1ZM228.1,316.0H235.8V323.9H228.1ZM128.7,361.7H136.5V369.6H128.7Z"/><path fill="#0000ef" d="M82.9,-0.1H98.3V6.8H82.9ZM105.8,-0.1H113.6V6.8H105.8ZM90.5,6.5H98.3V14.6H90.5ZM113.5,6.5H121.2V14.6H113.5ZM128.7,6.5H136.5V14.6H128.7ZM166.9,6.5H174.7V14.6H166.9ZM98.2,14.3H106.0V22.4H98.2ZM136.4,14.3H144.2V22.4H136.4ZM151.7,14.3H159.4V22.4H151.7ZM159.3,22.1H167.1V30.3H159.3ZM82.9,30.0H90.7V38.1H82.9ZM105.8,30.0H121.2V38.1H105.8ZM128.7,30.0H136.5V38.1H128.7ZM159.3,30.0H167.1V38.1H159.3ZM90.5,37.8H106.0V45.9H90.5ZM121.1,37.8H128.9V45.9H121.1ZM136.4,45.6H144.2V53.7H136.4ZM151.7,45.6H159.4V53.7H151.7ZM82.9,53.4H90.7V61.5H82.9ZM113.5,53.4H121.2V61.5H113.5ZM144.0,53.4H151.8V61.5H144.0ZM90.5,61.2H98.3V69.3H90.5ZM128.7,61.2H159.4V69.3H128.7ZM136.4,69.0H151.8V77.1H136.4ZM121.1,76.8H128.9V84.9H121.1ZM136.4,76.8H144.2V84.9H136.4ZM189.9,76.8H197.7V84.9H189.9ZM121.1,84.6H128.9V92.7H121.1ZM151.7,84.6H159.4V92.7H151.7ZM174.6,84.6H182.4V92.7H174.6ZM197.5,84.6H205.3V92.7H197.5ZM197.5,92.4H205.3V100.5H197.5ZM136.4,100.2H144.2V108.3H136.4ZM159.3,100.2H167.1V108.3H159.3ZM212.8,100.2H220.6V108.3H212.8ZM166.9,108.0H174.7V116.0H166.9ZM205.1,108.0H212.9V116.0H205.1ZM151.7,115.7H159.4V123.8H151.7ZM121.1,131.3H136.5V139.3H121.1ZM166.9,131.3H174.7V139.3H166.9ZM128.7,139.0H136.5V147.1H128.7ZM166.9,139.0H182.4V147.1H166.9ZM197.5,139.0H205.3V147.1H197.5ZM304.5,139.0H312.2V147.1H304.5ZM182.2,146.8H190.0V154.8H182.2ZM220.4,146.8H228.2V154.8H220.4ZM159.3,154.5H167.1V162.6H159.3ZM189.9,154.5H205.3V162.6H189.9ZM235.7,154.5H251.1V162.6H235.7ZM296.8,154.5H304.6V162.6H296.8ZM136.4,162.3H144.2V170.3H136.4ZM159.3,162.3H174.7V170.3H159.3ZM182.2,162.3H190.0V170.3H182.2ZM205.1,162.3H220.6V170.3H205.1ZM159.3,170.0H167.1V178.0H159.3ZM182.2,170.0H190.0V178.0H182.2ZM197.5,170.0H205.3V178.0H197.5ZM212.8,170.0H220.6V178.0H212.8ZM273.9,170.0H281.7V178.0H273.9ZM151.7,177.7H159.4V185.8H151.7ZM174.6,177.7H182.4V185.8H174.6ZM205.1,177.7H220.6V185.8H205.1ZM144.0,185.5H151.8V193.5H144.0ZM205.1,185.5H212.9V193.5H205.1ZM243.3,185.5H251.1V193.5H243.3ZM128.7,193.2H136.5V201.2H128.7ZM174.6,193.2H182.4V201.2H174.6ZM189.9,193.2H197.7V201.2H189.9ZM220.4,193.2H228.2V201.2H220.4ZM243.3,193.2H251.1V201.2H243.3ZM121.1,200.9H128.9V208.9H121.1ZM220.4,200.9H228.2V208.9H220.4ZM251.0,200.9H258.8V208.9H251.0ZM273.9,200.9H281.7V208.9H273.9ZM304.5,200.9H312.2V208.9H304.5ZM151.7,208.6H167.1V216.6H151.7ZM136.4,216.3H144.2V224.3H136.4ZM159.3,216.3H174.7V224.3H159.3ZM182.2,216.3H190.0V224.3H182.2ZM197.5,216.3H205.3V224.3H197.5ZM228.1,216.3H235.8V224.3H228.1ZM166.9,224.0H174.7V232.0H166.9ZM182.2,224.0H190.0V232.0H182.2ZM212.8,224.0H235.8V232.0H212.8ZM251.0,224.0H258.8V232.0H251.0ZM144.0,231.7H151.8V239.7H144.0ZM189.9,231.7H197.7V239.7H189.9ZM228.1,231.7H235.8V239.7H228.1ZM197.5,239.4H205.3V247.4H197.5ZM228.1,239.4H243.5V247.4H228.1ZM327.4,239.4H335.2V247.4H327.4ZM212.8,247.1H243.5V255.0H212.8ZM251.0,247.1H258.8V255.0H251.0ZM296.8,247.1H304.6V255.0H296.8ZM197.5,254.7H205.3V262.7H197.5ZM251.0,254.7H258.8V262.7H251.0ZM182.2,262.4H190.0V270.4H182.2ZM251.0,262.4H258.8V270.4H251.0ZM197.5,270.1H205.3V278.0H197.5ZM189.9,277.7H197.7V285.7H189.9ZM52.3,285.4H60.1V293.3H52.3ZM189.9,285.4H197.7V293.3H189.9ZM159.3,293.0H174.7V301.0H159.3ZM174.6,300.7H182.4V308.6H174.6ZM67.6,316.0H75.4V323.9H67.6Z"/><path fill="#0000cf" d="M113.5,-0.1H121.2V6.8H113.5ZM159.3,-0.1H167.1V6.8H159.3ZM121.1,6.5H128.9V14.6H121.1ZM113.5,14.3H121.2V22.4H113.5ZM121.1,22.1H144.2V30.3H121.1ZM319.7,30.0H327.5V38.1H319.7ZM105.8,37.8H113.6V45.9H105.8ZM144.0,37.8H151.8V45.9H144.0ZM75.3,45.6H83.0V53.7H75.3ZM98.2,45.6H106.0V53.7H98.2ZM128.7,45.6H136.5V53.7H128.7ZM144.0,45.6H151.8V53.7H144.0ZM105.8,53.4H113.6V61.5H105.8ZM121.1,53.4H136.5V61.5H121.1ZM151.7,53.4H167.1V61.5H151.7ZM151.7,69.0H159.4V77.1H151.7ZM113.5,76.8H121.2V84.9H113.5ZM182.2,76.8H190.0V84.9H182.2ZM189.9,84.6H197.7V92.7H189.9ZM182.2,92.4H190.0V100.5H182.2ZM205.1,92.4H212.9V100.5H205.1ZM159.3,115.7H167.1V123.8H159.3ZM151.7,123.5H159.4V131.6H151.7ZM151.7,131.3H167.1V139.3H151.7ZM136.4,139.0H144.2V147.1H136.4ZM151.7,139.0H159.4V147.1H151.7ZM296.8,139.0H304.6V147.1H296.8ZM136.4,146.8H144.2V154.8H136.4ZM197.5,146.8H205.3V154.8H197.5ZM289.2,146.8H312.2V154.8H289.2ZM128.7,154.5H136.5V162.6H128.7ZM151.7,154.5H159.4V162.6H151.7ZM212.8,154.5H220.6V162.6H212.8ZM228.1,154.5H235.8V162.6H228.1ZM258.6,154.5H274.0V162.6H258.6ZM197.5,162.3H205.3V170.3H197.5ZM220.4,162.3H228.2V170.3H220.4ZM144.0,170.0H151.8V178.0H144.0ZM205.1,170.0H212.9V178.0H205.1ZM228.1,170.0H235.8V178.0H228.1ZM243.3,170.0H258.8V178.0H243.3ZM121.1,177.7H128.9V185.8H121.1ZM136.4,177.7H144.2V185.8H136.4ZM189.9,177.7H197.7V185.8H189.9ZM220.4,177.7H228.2V185.8H220.4ZM243.3,177.7H251.1V185.8H243.3ZM128.7,185.5H136.5V193.5H128.7ZM197.5,185.5H205.3V193.5H197.5ZM235.7,185.5H243.5V193.5H235.7ZM144.0,193.2H159.4V201.2H144.0ZM197.5,193.2H205.3V201.2H197.5ZM235.7,193.2H243.5V201.2H235.7ZM258.6,193.2H266.4V201.2H258.6ZM136.4,200.9H151.8V208.9H136.4ZM166.9,200.9H174.7V208.9H166.9ZM197.5,200.9H205.3V208.9H197.5ZM258.6,200.9H266.4V208.9H258.6ZM128.7,208.6H136.5V216.6H128.7ZM144.0,208.6H151.8V216.6H144.0ZM182.2,208.6H197.7V216.6H182.2ZM312.1,208.6H319.9V216.6H312.1ZM144.0,216.3H151.8V224.3H144.0ZM235.7,216.3H243.5V224.3H235.7ZM304.5,216.3H319.9V224.3H304.5ZM235.7,224.0H243.5V232.0H235.7ZM296.8,224.0H319.9V232.0H296.8ZM220.4,231.7H228.2V239.7H220.4ZM235.7,231.7H243.5V239.7H235.7ZM273.9,231.7H281.7V239.7H273.9ZM205.1,239.4H212.9V247.4H205.1ZM220.4,239.4H228.2V247.4H220.4ZM243.3,239.4H251.1V247.4H243.3ZM304.5,239.4H327.5V247.4H304.5ZM197.5,247.1H205.3V255.0H197.5ZM243.3,247.1H251.1V255.0H243.3ZM266.3,247.1H281.7V255.0H266.3ZM289.2,247.1H297.0V255.0H289.2ZM189.9,254.7H197.7V262.7H189.9ZM189.9,262.4H212.9V270.4H189.9ZM266.3,262.4H274.0V270.4H266.3ZM75.3,270.1H90.7V278.0H75.3ZM182.2,277.7H190.0V285.7H182.2ZM197.5,277.7H205.3V285.7H197.5ZM220.4,277.7H228.2V285.7H220.4ZM251.0,277.7H258.8V285.7H251.0ZM182.2,285.4H190.0V293.3H182.2ZM82.9,293.0H90.7V301.0H82.9ZM174.6,293.0H190.0V301.0H174.6ZM212.8,293.0H220.6V301.0H212.8ZM243.3,293.0H251.1V301.0H243.3ZM212.8,300.7H220.6V308.6H212.8ZM243.3,300.7H251.1V308.6H243.3ZM251.0,316.0H258.8V323.9H251.0ZM98.2,323.6H106.0V331.5H98.2ZM235.7,323.6H251.1V331.5H235.7ZM258.6,323.6H266.4V331.5H258.6ZM105.8,331.2H113.6V339.2H105.8ZM235.7,331.2H243.5V339.2H235.7ZM105.8,338.9H113.6V346.8H105.8ZM228.1,338.9H235.8V346.8H228.1Z"/><path fill="#0010ff" d="M75.3,6.5H83.0V14.6H75.3ZM75.3,14.3H83.0V22.4H75.3ZM151.7,30.0H159.4V38.1H151.7ZM335.0,37.8H342.8V45.9H335.0ZM335.0,45.6H342.8V53.7H335.0ZM90.5,53.4H98.3V61.5H90.5ZM82.9,61.2H90.7V69.3H82.9ZM98.2,61.2H106.0V69.3H98.2ZM105.8,69.0H113.6V77.1H105.8ZM128.7,69.0H136.5V77.1H128.7ZM159.3,69.0H167.1V77.1H159.3ZM144.0,100.2H151.8V108.3H144.0ZM166.9,100.2H174.7V108.3H166.9ZM197.5,108.0H205.3V116.0H197.5ZM136.4,115.7H144.2V123.8H136.4ZM136.4,123.5H144.2V131.6H136.4ZM197.5,131.3H205.3V139.3H197.5ZM136.4,154.5H144.2V162.6H136.4ZM266.3,162.3H274.0V170.3H266.3ZM212.8,185.5H220.6V193.5H212.8ZM251.0,193.2H258.8V201.2H251.0ZM205.1,208.6H212.9V216.6H205.1ZM220.4,208.6H228.2V216.6H220.4ZM212.8,216.3H220.6V224.3H212.8ZM144.0,224.0H159.4V232.0H144.0ZM136.4,239.4H151.8V247.4H136.4ZM189.9,239.4H197.7V247.4H189.9ZM182.2,247.1H190.0V255.0H182.2ZM228.1,277.7H243.5V285.7H228.1ZM235.7,285.4H243.5V293.3H235.7ZM235.7,293.0H243.5V301.0H235.7ZM251.0,293.0H258.8V301.0H251.0Z"/><path fill="#0030ff" d="M82.9,6.5H90.7V14.6H82.9ZM98.2,69.0H106.0V77.1H98.2ZM166.9,84.6H174.7V92.7H166.9ZM136.4,108.0H151.8V116.0H136.4ZM182.2,108.0H190.0V116.0H182.2ZM144.0,115.7H151.8V123.8H144.0ZM266.3,170.0H274.0V178.0H266.3ZM212.8,208.6H220.6V216.6H212.8ZM205.1,216.3H212.9V224.3H205.1ZM151.7,231.7H159.4V239.7H151.7ZM151.7,239.4H159.4V247.4H151.7ZM182.2,239.4H190.0V247.4H182.2ZM228.1,262.4H235.8V270.4H228.1ZM166.9,270.1H174.7V278.0H166.9ZM228.1,270.1H235.8V278.0H228.1ZM220.4,285.4H228.2V293.3H220.4ZM228.1,293.0H235.8V301.0H228.1Z"/><path fill="#0050ff" d="M82.9,69.0H98.3V77.1H82.9ZM159.3,76.8H167.1V84.9H159.3ZM197.5,115.7H205.3V123.8H197.5ZM266.3,177.7H274.0V185.8H266.3ZM159.3,231.7H167.1V239.7H159.3ZM151.7,247.1H167.1V255.0H151.7ZM166.9,277.7H174.7V285.7H166.9Z"/><path fill="#0070ff" d="M82.9,76.8H106.0V84.9H82.9ZM166.9,285.4H174.7V293.3H166.9Z"/><path fill="#0020ff" d="M105.8,76.8H113.6V84.9H105.8ZM166.9,76.8H174.7V84.9H166.9ZM98.2,84.6H106.0V92.7H98.2ZM159.3,92.4H167.1V100.5H159.3ZM151.7,100.2H159.4V108.3H151.7ZM174.6,115.7H182.4V123.8H174.6ZM174.6,123.5H190.0V131.6H174.6ZM258.6,177.7H266.4V185.8H258.6ZM266.3,185.5H274.0V193.5H266.3ZM205.1,200.9H212.9V208.9H205.1ZM228.1,254.7H235.8V262.7H228.1ZM235.7,270.1H243.5V278.0H235.7ZM228.1,285.4H235.8V293.3H228.1Z"/><path fill="#0060ff" d="M90.5,84.6H98.3V92.7H90.5ZM189.9,108.0H197.7V116.0H189.9ZM189.9,123.5H197.7V131.6H189.9ZM159.3,239.4H167.1V247.4H159.3ZM151.7,254.7H159.4V262.7H151.7ZM159.3,277.7H167.1V285.7H159.3Z"/><path fill="#0040ff" d="M159.3,84.6H167.1V92.7H159.3ZM182.2,115.7H190.0V123.8H182.2ZM197.5,123.5H205.3V131.6H197.5ZM166.9,231.7H182.4V239.7H166.9ZM235.7,262.4H243.5V270.4H235.7Z"/><path fill="#0080ff" d="M189.9,115.7H197.7V123.8H189.9ZM166.9,239.4H174.7V247.4H166.9ZM159.3,285.4H167.1V293.3H159.3Z"/><path fill="#0000bf" d="M174.6,146.8H182.4V154.8H174.6ZM251.0,146.8H258.8V154.8H251.0ZM220.4,170.0H228.2V178.0H220.4ZM281.5,200.9H289.3V208.9H281.5ZM312.1,200.9H319.9V208.9H312.1ZM258.6,208.6H266.4V216.6H258.6ZM296.8,208.6H312.2V216.6H296.8ZM273.9,216.3H281.7V224.3H273.9ZM296.8,216.3H304.6V224.3H296.8ZM327.4,216.3H335.2V224.3H327.4ZM281.5,224.0H289.3V232.0H281.5ZM319.7,224.0H335.2V232.0H319.7ZM258.6,231.7H274.0V239.7H258.6ZM289.2,231.7H297.0V239.7H289.2ZM312.1,231.7H319.9V239.7H312.1ZM296.8,239.4H304.6V247.4H296.8ZM281.5,247.1H289.3V255.0H281.5ZM281.5,254.7H289.3V262.7H281.5ZM258.6,262.4H266.4V270.4H258.6ZM273.9,262.4H289.3V270.4H273.9ZM266.3,270.1H274.0V278.0H266.3ZM60.0,277.7H67.8V285.7H60.0ZM75.3,277.7H83.0V285.7H75.3ZM258.6,277.7H274.0V285.7H258.6ZM75.3,285.4H90.7V293.3H75.3ZM258.6,285.4H266.4V293.3H258.6ZM52.3,293.0H60.1V301.0H52.3ZM67.6,293.0H75.4V301.0H67.6ZM75.3,308.3H83.0V316.3H75.3ZM281.5,316.0H289.3V323.9H281.5ZM105.8,323.6H113.6V331.5H105.8ZM251.0,323.6H258.8V331.5H251.0ZM273.9,323.6H281.7V331.5H273.9ZM220.4,331.2H228.2V339.2H220.4ZM113.5,338.9H121.2V346.8H113.5Z"/><path fill="#0000af" d="M273.9,208.6H289.3V216.6H273.9ZM258.6,216.3H266.4V224.3H258.6ZM258.6,224.0H266.4V232.0H258.6ZM273.9,224.0H281.7V232.0H273.9ZM304.5,231.7H312.2V239.7H304.5ZM319.7,231.7H335.2V239.7H319.7ZM266.3,239.4H274.0V247.4H266.3ZM258.6,247.1H266.4V255.0H258.6ZM312.1,247.1H319.9V255.0H312.1ZM258.6,270.1H266.4V278.0H258.6ZM273.9,270.1H281.7V278.0H273.9ZM67.6,277.7H75.4V285.7H67.6ZM273.9,277.7H281.7V285.7H273.9ZM60.0,285.4H67.8V293.3H60.0ZM113.5,331.2H121.2V339.2H113.5ZM266.3,331.2H274.0V339.2H266.3ZM105.8,346.5H113.6V354.4H105.8Z"/><path fill="#ef0000" d="M105.8,254.7H113.6V262.7H105.8Z"/><path fill="#00009f" d="M67.6,285.4H75.4V293.3H67.6ZM60.0,293.0H67.8V301.0H60.0ZM75.3,300.7H83.0V308.6H75.3ZM266.3,323.6H274.0V331.5H266.3Z"/><path fill="#ff8000" d="M44.7,293.0H52.5V301.0H44.7Z"/><path fill="#800000" d="M44.7,300.7H52.5V308.6H44.7Z"/><path fill="#10ffef" d="M52.3,300.7H60.1V308.6H52.3Z"/><path fill="#009fff" d="M52.3,308.3H60.1V316.3H52.3Z"/>
</g>
<use href="#coast"/>
<use href="#stars"/>
<use href="#boxL"/>
<use href="#frame"/>
<text x="173.5" y="-12.6" font-size="20.4" font-weight="bold" text-anchor="middle" letter-spacing="0.12" fill="#000">FitDif TotalErrors (30)</text>
<use href="#km"/>
<rect x="3.8" y="20.3" width="113.3" height="24.6" fill="url(#jet)" stroke="#262626" stroke-width="1"/>
<text x="2.2" y="6.3" font-size="16.67" text-anchor="middle" fill="#262626">0</text>
<text x="94.9" y="6.3" font-size="16.67" text-anchor="middle" fill="#262626">50</text>
<text x="59.5" y="-20.1" font-size="21" text-anchor="middle" fill="#262626">cm/s</text>
</g>
<g transform="translate(843.6,742.4)">
<use href="#box"/>
<use href="#grid"/>
<g clip-path="url(#cl)" shape-rendering="crispEdges">
<path fill="#0060ff" d="M67.6,-0.1H98.3V6.8H67.6ZM105.8,-0.1H121.2V6.8H105.8ZM159.3,-0.1H182.4V6.8H159.3ZM212.8,-0.1H220.6V6.8H212.8ZM67.6,6.5H136.5V14.6H67.6ZM159.3,6.5H182.4V14.6H159.3ZM228.1,6.5H235.8V14.6H228.1ZM75.3,14.3H167.1V22.4H75.3ZM205.1,14.3H212.9V22.4H205.1ZM75.3,22.1H167.1V30.3H75.3ZM212.8,22.1H220.6V30.3H212.8ZM75.3,30.0H167.1V38.1H75.3ZM75.3,37.8H136.5V45.9H75.3ZM144.0,37.8H167.1V45.9H144.0ZM319.7,37.8H342.8V45.9H319.7ZM82.9,45.6H167.1V53.7H82.9ZM319.7,45.6H342.8V53.7H319.7ZM82.9,53.4H167.1V61.5H82.9ZM82.9,61.2H167.1V69.3H82.9ZM82.9,69.0H174.7V77.1H82.9ZM82.9,76.8H174.7V84.9H82.9ZM90.5,84.6H174.7V92.7H90.5ZM205.1,92.4H212.9V100.5H205.1ZM197.5,100.2H220.6V108.3H197.5ZM197.5,108.0H220.6V116.0H197.5ZM289.2,139.0H312.2V147.1H289.2ZM289.2,146.8H312.2V154.8H289.2ZM289.2,154.5H312.2V162.6H289.2Z"/><path fill="#0000af" d="M98.2,-0.1H106.0V6.8H98.2ZM121.1,-0.1H159.4V6.8H121.1ZM182.2,-0.1H205.3V6.8H182.2ZM220.4,-0.1H281.7V6.8H220.4ZM289.2,-0.1H348.1V6.8H289.2ZM136.4,6.5H159.4V14.6H136.4ZM182.2,6.5H228.2V14.6H182.2ZM235.7,6.5H289.3V14.6H235.7ZM296.8,6.5H348.1V14.6H296.8ZM166.9,14.3H205.3V22.4H166.9ZM212.8,14.3H289.3V22.4H212.8ZM304.5,14.3H348.1V22.4H304.5ZM166.9,22.1H212.9V30.3H166.9ZM220.4,22.1H228.2V30.3H220.4ZM243.3,22.1H281.7V30.3H243.3ZM304.5,22.1H348.1V30.3H304.5ZM166.9,30.0H297.0V38.1H166.9ZM312.1,30.0H342.8V38.1H312.1ZM136.4,37.8H144.2V45.9H136.4ZM166.9,37.8H304.6V45.9H166.9ZM342.7,37.8H348.1V45.9H342.7ZM166.9,45.6H304.6V53.7H166.9ZM342.7,45.6H348.1V53.7H342.7ZM166.9,53.4H312.2V61.5H166.9ZM327.4,53.4H348.1V61.5H327.4ZM166.9,61.2H312.2V69.3H166.9ZM327.4,61.2H348.1V69.3H327.4ZM174.6,69.0H319.9V77.1H174.6ZM327.4,69.0H348.1V77.1H327.4ZM197.5,76.8H319.9V84.9H197.5ZM327.4,76.8H348.1V84.9H327.4ZM82.9,84.6H90.7V92.7H82.9ZM205.1,84.6H327.5V92.7H205.1ZM335.0,84.6H348.1V92.7H335.0ZM90.5,92.4H136.5V100.5H90.5ZM174.6,92.4H182.4V100.5H174.6ZM212.8,92.4H348.1V100.5H212.8ZM98.2,100.2H136.5V108.3H98.2ZM174.6,100.2H197.7V108.3H174.6ZM220.4,100.2H327.5V108.3H220.4ZM98.2,108.0H136.5V116.0H98.2ZM220.4,108.0H319.9V116.0H220.4ZM98.2,115.7H136.5V123.8H98.2ZM228.1,115.7H319.9V123.8H228.1ZM105.8,123.5H128.9V131.6H105.8ZM235.7,123.5H342.8V131.6H235.7ZM105.8,131.3H121.2V139.3H105.8ZM243.3,131.3H342.8V139.3H243.3ZM113.5,139.0H128.9V147.1H113.5ZM251.0,139.0H289.3V147.1H251.0ZM312.1,139.0H342.8V147.1H312.1ZM113.5,146.8H128.9V154.8H113.5ZM266.3,146.8H289.3V154.8H266.3ZM312.1,146.8H342.8V154.8H312.1ZM113.5,154.5H128.9V162.6H113.5ZM273.9,154.5H289.3V162.6H273.9ZM312.1,154.5H342.8V162.6H312.1ZM113.5,162.3H121.2V170.3H113.5ZM281.5,162.3H342.8V170.3H281.5ZM281.5,170.0H342.8V178.0H281.5ZM289.2,177.7H342.8V185.8H289.2Z"/><path fill="#00008f" d="M205.1,-0.1H212.9V6.8H205.1ZM281.5,-0.1H289.3V6.8H281.5ZM289.2,6.5H297.0V14.6H289.2ZM289.2,14.3H304.6V22.4H289.2ZM228.1,22.1H243.5V30.3H228.1ZM281.5,22.1H304.6V30.3H281.5ZM296.8,30.0H312.2V38.1H296.8ZM342.7,30.0H348.1V38.1H342.7ZM304.5,37.8H319.9V45.9H304.5ZM304.5,45.6H319.9V53.7H304.5ZM312.1,53.4H327.5V61.5H312.1ZM312.1,61.2H327.5V69.3H312.1ZM319.7,69.0H327.5V77.1H319.7ZM319.7,76.8H327.5V84.9H319.7ZM327.4,84.6H335.2V92.7H327.4ZM327.4,100.2H348.1V108.3H327.4ZM319.7,108.0H348.1V116.0H319.7ZM319.7,115.7H348.1V123.8H319.7ZM342.7,123.5H348.1V131.6H342.7ZM342.7,131.3H348.1V139.3H342.7ZM342.7,139.0H348.1V147.1H342.7ZM342.7,146.8H348.1V154.8H342.7ZM342.7,154.5H348.1V162.6H342.7ZM342.7,162.3H348.1V170.3H342.7ZM342.7,170.0H348.1V178.0H342.7ZM342.7,177.7H348.1V185.8H342.7ZM342.7,185.5H348.1V193.5H342.7ZM335.0,193.2H348.1V201.2H335.0ZM342.7,200.9H348.1V208.9H342.7ZM342.7,208.6H348.1V216.6H342.7ZM342.7,216.3H348.1V224.3H342.7ZM342.7,224.0H348.1V232.0H342.7ZM342.7,231.7H348.1V239.7H342.7ZM342.7,239.4H348.1V247.4H342.7ZM342.7,247.1H348.1V255.0H342.7ZM342.7,254.7H348.1V262.7H342.7ZM342.7,262.4H348.1V270.4H342.7ZM98.2,270.1H106.0V278.0H98.2ZM342.7,270.1H348.1V278.0H342.7ZM342.7,277.7H348.1V285.7H342.7ZM342.7,285.4H348.1V293.3H342.7ZM335.0,293.0H348.1V301.0H335.0ZM189.9,300.7H205.3V308.6H189.9ZM304.5,300.7H312.2V308.6H304.5ZM335.0,300.7H348.1V308.6H335.0ZM189.9,308.3H205.3V316.3H189.9ZM304.5,308.3H312.2V316.3H304.5ZM335.0,308.3H348.1V316.3H335.0ZM82.9,316.0H98.3V323.9H82.9ZM151.7,316.0H159.4V323.9H151.7ZM189.9,316.0H205.3V323.9H189.9ZM296.8,316.0H348.1V323.9H296.8ZM90.5,323.6H98.3V331.5H90.5ZM189.9,323.6H197.7V331.5H189.9ZM289.2,323.6H348.1V331.5H289.2ZM90.5,331.2H98.3V339.2H90.5ZM159.3,331.2H167.1V339.2H159.3ZM281.5,331.2H348.1V339.2H281.5ZM52.3,338.9H60.1V346.8H52.3ZM144.0,338.9H174.7V346.8H144.0ZM258.6,338.9H348.1V346.8H258.6ZM44.7,346.5H60.1V354.4H44.7ZM82.9,346.5H90.7V354.4H82.9ZM151.7,346.5H182.4V354.4H151.7ZM251.0,346.5H348.1V354.4H251.0ZM75.3,354.1H83.0V362.0H75.3ZM159.3,354.1H197.7V362.0H159.3ZM243.3,354.1H348.1V362.0H243.3ZM151.7,361.7H205.3V369.6H151.7ZM235.7,361.7H348.1V369.6H235.7ZM151.7,369.3H205.3V377.2H151.7ZM228.1,369.3H348.1V377.2H228.1ZM128.7,376.9H212.9V384.8H128.7ZM228.1,376.9H348.1V384.8H228.1ZM121.1,384.5H348.1V392.4H121.1ZM113.5,392.1H348.1V399.9H113.5ZM105.8,399.6H348.1V407.5H105.8ZM98.2,407.2H348.1V415.1H98.2ZM90.5,414.8H348.1V422.7H90.5ZM82.9,422.4H348.1V427.6H82.9Z"/><path fill="#0000ff" d="M174.6,76.8H197.7V84.9H174.6ZM174.6,84.6H205.3V92.7H174.6ZM136.4,92.4H151.8V100.5H136.4ZM159.3,92.4H174.7V100.5H159.3ZM182.2,92.4H197.7V100.5H182.2ZM136.4,100.2H144.2V108.3H136.4ZM136.4,108.0H144.2V116.0H136.4ZM174.6,108.0H197.7V116.0H174.6ZM136.4,115.7H144.2V123.8H136.4ZM166.9,115.7H228.2V123.8H166.9ZM128.7,123.5H136.5V131.6H128.7ZM151.7,123.5H235.8V131.6H151.7ZM121.1,131.3H243.5V139.3H121.1ZM128.7,139.0H251.1V147.1H128.7ZM128.7,146.8H266.4V154.8H128.7ZM128.7,154.5H274.0V162.6H128.7ZM121.1,162.3H281.7V170.3H121.1ZM121.1,170.0H281.7V178.0H121.1ZM121.1,177.7H289.3V185.8H121.1ZM128.7,185.5H289.3V193.5H128.7ZM128.7,193.2H297.0V201.2H128.7ZM128.7,200.9H319.9V208.9H128.7ZM136.4,208.6H319.9V216.6H136.4ZM136.4,216.3H342.8V224.3H136.4ZM136.4,224.0H342.8V232.0H136.4ZM136.4,231.7H182.4V239.7H136.4ZM189.9,231.7H342.8V239.7H189.9ZM136.4,239.4H174.7V247.4H136.4ZM189.9,239.4H342.8V247.4H189.9ZM136.4,247.1H167.1V255.0H136.4ZM189.9,247.1H335.2V255.0H189.9ZM144.0,254.7H159.4V262.7H144.0ZM182.2,254.7H212.9V262.7H182.2ZM220.4,254.7H297.0V262.7H220.4ZM304.5,254.7H319.9V262.7H304.5ZM174.6,262.4H205.3V270.4H174.6ZM220.4,262.4H281.7V270.4H220.4ZM166.9,270.1H205.3V278.0H166.9ZM212.8,270.1H274.0V278.0H212.8ZM159.3,277.7H197.7V285.7H159.3ZM212.8,277.7H266.4V285.7H212.8ZM159.3,285.4H197.7V293.3H159.3ZM205.1,285.4H258.8V293.3H205.1ZM159.3,293.0H190.0V301.0H159.3ZM197.5,293.0H251.1V301.0H197.5ZM166.9,300.7H190.0V308.6H166.9ZM205.1,300.7H235.8V308.6H205.1ZM243.3,300.7H251.1V308.6H243.3ZM205.1,308.3H212.9V316.3H205.1ZM228.1,316.0H258.8V323.9H228.1ZM273.9,316.0H289.3V323.9H273.9ZM220.4,323.6H281.7V331.5H220.4ZM220.4,331.2H281.7V339.2H220.4ZM228.1,338.9H243.5V346.8H228.1Z"/><path fill="#00afff" d="M151.7,92.4H159.4V100.5H151.7ZM197.5,92.4H205.3V100.5H197.5ZM144.0,100.2H174.7V108.3H144.0ZM144.0,108.0H174.7V116.0H144.0ZM144.0,115.7H167.1V123.8H144.0ZM136.4,123.5H151.8V131.6H136.4Z"/><path fill="#0000df" d="M121.1,185.5H128.9V193.5H121.1ZM289.2,185.5H342.8V193.5H289.2ZM121.1,193.2H128.9V201.2H121.1ZM296.8,193.2H335.2V201.2H296.8ZM121.1,200.9H128.9V208.9H121.1ZM319.7,200.9H342.8V208.9H319.7ZM121.1,208.6H136.5V216.6H121.1ZM319.7,208.6H342.8V216.6H319.7ZM121.1,216.3H136.5V224.3H121.1ZM121.1,224.0H136.5V232.0H121.1ZM121.1,231.7H136.5V239.7H121.1ZM182.2,231.7H190.0V239.7H182.2ZM121.1,239.4H136.5V247.4H121.1ZM174.6,239.4H190.0V247.4H174.6ZM121.1,247.1H136.5V255.0H121.1ZM166.9,247.1H190.0V255.0H166.9ZM335.0,247.1H342.8V255.0H335.0ZM113.5,254.7H144.2V262.7H113.5ZM159.3,254.7H182.4V262.7H159.3ZM212.8,254.7H220.6V262.7H212.8ZM296.8,254.7H304.6V262.7H296.8ZM319.7,254.7H342.8V262.7H319.7ZM105.8,262.4H174.7V270.4H105.8ZM205.1,262.4H220.6V270.4H205.1ZM281.5,262.4H342.8V270.4H281.5ZM105.8,270.1H167.1V278.0H105.8ZM205.1,270.1H212.9V278.0H205.1ZM273.9,270.1H342.8V278.0H273.9ZM105.8,277.7H159.4V285.7H105.8ZM197.5,277.7H212.9V285.7H197.5ZM266.3,277.7H342.8V285.7H266.3ZM105.8,285.4H159.4V293.3H105.8ZM197.5,285.4H205.3V293.3H197.5ZM258.6,285.4H342.8V293.3H258.6ZM105.8,293.0H159.4V301.0H105.8ZM189.9,293.0H197.7V301.0H189.9ZM251.0,293.0H335.2V301.0H251.0ZM105.8,300.7H167.1V308.6H105.8ZM235.7,300.7H243.5V308.6H235.7ZM251.0,300.7H304.6V308.6H251.0ZM312.1,300.7H335.2V308.6H312.1ZM105.8,308.3H190.0V316.3H105.8ZM212.8,308.3H304.6V316.3H212.8ZM312.1,308.3H335.2V316.3H312.1ZM105.8,316.0H151.8V323.9H105.8ZM159.3,316.0H190.0V323.9H159.3ZM205.1,316.0H228.2V323.9H205.1ZM258.6,316.0H274.0V323.9H258.6ZM289.2,316.0H297.0V323.9H289.2ZM121.1,323.6H190.0V331.5H121.1ZM197.5,323.6H220.6V331.5H197.5ZM281.5,323.6H289.3V331.5H281.5ZM121.1,331.2H159.4V339.2H121.1ZM166.9,331.2H220.6V339.2H166.9ZM128.7,338.9H144.2V346.8H128.7ZM174.6,338.9H228.2V346.8H174.6ZM243.3,338.9H258.8V346.8H243.3ZM128.7,346.5H151.8V354.4H128.7ZM182.2,346.5H251.1V354.4H182.2ZM128.7,354.1H159.4V362.0H128.7ZM197.5,354.1H243.5V362.0H197.5ZM136.4,361.7H151.8V369.6H136.4ZM205.1,361.7H235.8V369.6H205.1ZM128.7,369.3H151.8V377.2H128.7ZM205.1,369.3H228.2V377.2H205.1ZM212.8,376.9H228.2V384.8H212.8Z"/><path fill="#00dfff" d="M90.5,254.7H106.0V262.7H90.5ZM90.5,262.4H106.0V270.4H90.5ZM90.5,270.1H98.3V278.0H90.5ZM37.1,300.7H44.8V308.6H37.1ZM82.9,300.7H106.0V308.6H82.9ZM29.4,308.3H52.5V316.3H29.4ZM82.9,308.3H106.0V316.3H82.9ZM21.8,316.0H60.1V323.9H21.8ZM98.2,316.0H106.0V323.9H98.2ZM14.1,323.6H90.7V331.5H14.1ZM6.5,331.2H90.7V339.2H6.5ZM98.2,331.2H106.0V339.2H98.2ZM6.5,338.9H52.5V346.8H6.5ZM60.0,338.9H106.0V346.8H60.0ZM121.1,338.9H128.9V346.8H121.1ZM6.5,346.5H44.8V354.4H6.5ZM60.0,346.5H83.0V354.4H60.0ZM90.5,346.5H106.0V354.4H90.5ZM113.5,346.5H128.9V354.4H113.5ZM6.5,354.1H75.4V362.0H6.5ZM82.9,354.1H113.6V362.0H82.9ZM6.5,361.7H128.9V369.6H6.5ZM6.5,369.3H128.9V377.2H6.5ZM6.5,376.9H128.9V384.8H6.5ZM6.5,384.5H121.2V392.4H6.5ZM6.5,392.1H113.6V399.9H6.5ZM6.5,399.6H106.0V407.5H6.5ZM6.5,407.2H98.3V415.1H6.5ZM6.5,414.8H90.7V422.7H6.5ZM6.5,422.4H83.0V427.6H6.5Z"/><path fill="#30ffcf" d="M105.8,254.7H113.6V262.7H105.8ZM98.2,323.6H121.2V331.5H98.2ZM105.8,331.2H121.2V339.2H105.8ZM105.8,338.9H121.2V346.8H105.8ZM105.8,346.5H113.6V354.4H105.8ZM113.5,354.1H128.9V362.0H113.5ZM128.7,361.7H136.5V369.6H128.7Z"/><path fill="#800000" d="M82.9,262.4H90.7V270.4H82.9ZM75.3,270.1H90.7V278.0H75.3ZM52.3,277.7H83.0V285.7H52.3ZM44.7,285.4H83.0V293.3H44.7ZM44.7,293.0H98.3V301.0H44.7ZM44.7,300.7H83.0V308.6H44.7ZM52.3,308.3H83.0V316.3H52.3ZM60.0,316.0H83.0V323.9H60.0Z"/><path fill="#ffcf00" d="M82.9,277.7H98.3V285.7H82.9ZM82.9,285.4H98.3V293.3H82.9Z"/><path fill="#ff8000" d="M98.2,277.7H106.0V285.7H98.2ZM98.2,285.4H106.0V293.3H98.2ZM98.2,293.0H106.0V301.0H98.2Z"/>
</g>
<use href="#coast"/>
<use href="#stars"/>
<use href="#boxL"/>
<use href="#frame"/>
<text x="173.5" y="-12.6" font-size="25" font-weight="bold" text-anchor="middle" letter-spacing="0.05" fill="#000">Site Codes</text>
<use href="#km"/>
<rect x="3.8" y="20.3" width="111.4" height="24.6" fill="url(#jet)" stroke="#262626" stroke-width="1"/>
<text x="2.2" y="6.3" font-size="16.67" text-anchor="middle" fill="#262626">0</text>
<text x="47.9" y="6.3" font-size="16.67" text-anchor="middle" fill="#262626">20</text>
<text x="93.5" y="6.3" font-size="16.67" text-anchor="middle" fill="#262626">40</text>
</g>
</svg></body></html>
